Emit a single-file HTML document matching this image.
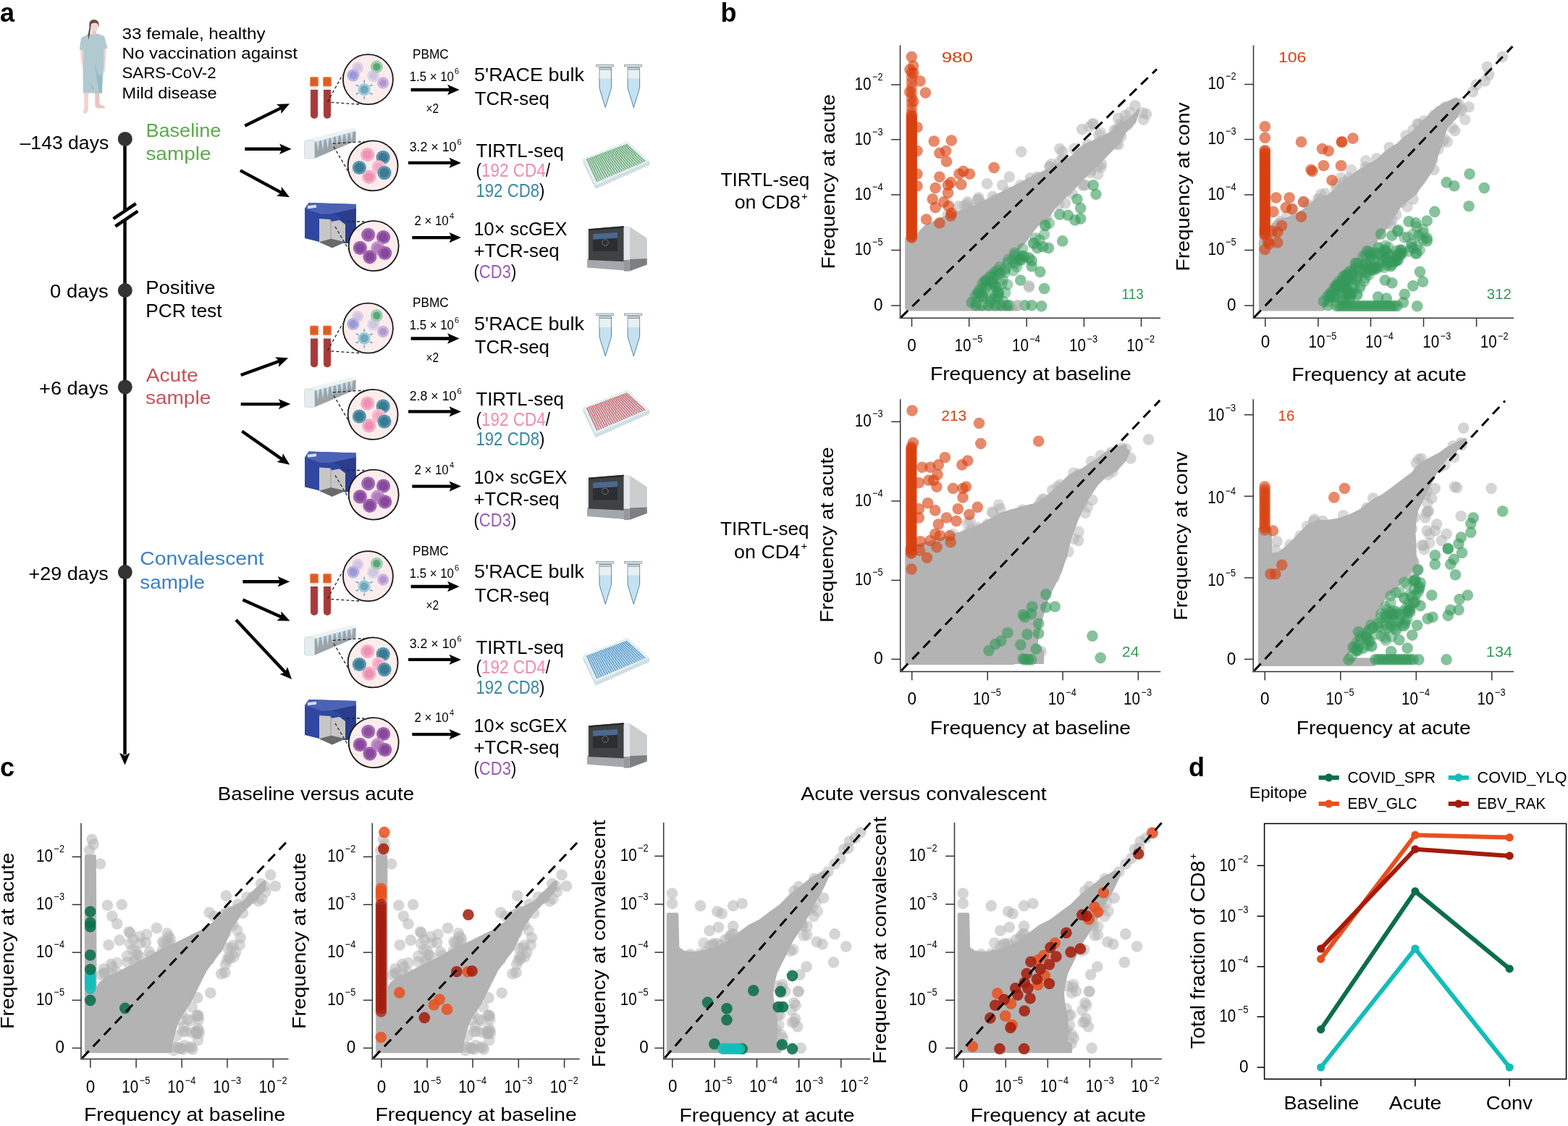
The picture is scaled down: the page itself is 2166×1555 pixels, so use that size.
<!DOCTYPE html>
<html><head><meta charset="utf-8"><title>Figure</title>
<style>html,body{margin:0;padding:0;background:#fff;}svg{display:block;}
text{font-family:"Liberation Sans",Arial,sans-serif;}</style></head>
<body><svg width="2166" height="1555" viewBox="0 0 2166 1555">
<rect width="2166" height="1555" fill="#fff"/>
<text x="0" y="29.6" font-size="36" font-weight="bold">a</text>
<g>
<path d="M116 126 L116.5 150 L114.5 155.5 L119 157 L121.5 153 L122.5 126 Z" fill="#efd3cf"/>
<path d="M131 126 L131.5 147 L134 149.5 L145.5 149.6 L144 146.5 L137.5 144 L137.3 126 Z" fill="#e8c6c2"/>
<path d="M111 66 L112 84 L114.5 96 L116.5 104.5 L119.5 103 L118 92 L117.5 66 Z" fill="#efd3cf"/>
<path d="M142.5 66 L146.8 66 L146 80 L144.5 100 L142.5 99 Z" fill="#efd3cf"/>
<path d="M122 47 L135 46.5 L144 50 L148.6 66.5 L143.5 67.5 L143.2 90 L141 128.5 L115 128.5 L114.5 100 L115.5 70 L109.8 68 L112 52 Z" fill="#b1c9d0"/>
<path d="M130.5 86 L136 104.5 L140.5 103 L141 128.5 L137 128.5 Z" fill="#93bcc5"/>
<path d="M124 114 L127 123 L130.5 123 Z" fill="#93bcc5"/>
<rect x="127" y="40" width="6" height="8" fill="#e8c6c2"/>
<ellipse cx="130" cy="36.5" rx="6" ry="7.3" fill="#f0d8d4"/>
<path d="M123.5 38 Q122 27 130 27 Q137.5 27 136.8 38 L135.2 33 Q131 30 126 33 L125 40 L124.5 46 L122.3 54.5 L121.5 48 Z" fill="#6b4a4a"/>
</g>
<text x="168.5" y="53.5" font-size="22.5" textLength="198" lengthAdjust="spacingAndGlyphs">33 female, healthy</text>
<text x="168.5" y="80.5" font-size="22.5" textLength="242.5" lengthAdjust="spacingAndGlyphs">No vaccination against</text>
<text x="168.5" y="108" font-size="22.5" textLength="130.1" lengthAdjust="spacingAndGlyphs">SARS-CoV-2</text>
<text x="168.5" y="135.6" font-size="22.5" textLength="131.1" lengthAdjust="spacingAndGlyphs">Mild disease</text>
<line x1="172.5" y1="192" x2="172.5" y2="1042" stroke="#000" stroke-width="4.5"/>
<path d="M165 1039.8 L172.5 1056.5 L179.5 1039.8 L172.5 1043.5 Z" fill="#000"/>
<line x1="162" y1="304.8" x2="184" y2="290" stroke="#fff" stroke-width="7"/>
<line x1="156.5" y1="302.2" x2="187.8" y2="281.2" stroke="#000" stroke-width="4.5"/>
<line x1="159.3" y1="312.7" x2="190.3" y2="291.6" stroke="#000" stroke-width="4.5"/>
<circle cx="172.8" cy="191.9" r="10" fill="#333"/>
<circle cx="172.8" cy="401" r="10" fill="#333"/>
<circle cx="172.8" cy="534.4" r="10" fill="#333"/>
<circle cx="172.8" cy="790.1" r="10" fill="#333"/>
<text x="150.2" y="206" font-size="26.7" text-anchor="end" textLength="122.6" lengthAdjust="spacingAndGlyphs">–143 days</text>
<text x="149.8" y="411" font-size="26.7" text-anchor="end" textLength="80.7" lengthAdjust="spacingAndGlyphs">0 days</text>
<text x="149.8" y="544.9" font-size="26.7" text-anchor="end" textLength="95.7" lengthAdjust="spacingAndGlyphs">+6 days</text>
<text x="149.8" y="801.4" font-size="26.7" text-anchor="end" textLength="110.2" lengthAdjust="spacingAndGlyphs">+29 days</text>
<text x="201.4" y="189.4" font-size="26.7" textLength="103.9" lengthAdjust="spacingAndGlyphs" fill="#5aab4b">Baseline</text>
<text x="201.4" y="221" font-size="26.7" textLength="90.1" lengthAdjust="spacingAndGlyphs" fill="#5aab4b">sample</text>
<text x="201.3" y="406" font-size="26.7" textLength="96.1" lengthAdjust="spacingAndGlyphs">Positive</text>
<text x="201.3" y="438" font-size="26.7" textLength="105.2" lengthAdjust="spacingAndGlyphs">PCR test</text>
<text x="201.7" y="527" font-size="26.7" textLength="72" lengthAdjust="spacingAndGlyphs" fill="#c2555b">Acute</text>
<text x="200.9" y="558.1" font-size="26.7" textLength="90.4" lengthAdjust="spacingAndGlyphs" fill="#c2555b">sample</text>
<text x="193.3" y="780.1" font-size="26.7" textLength="171.4" lengthAdjust="spacingAndGlyphs" fill="#3a80c6">Convalescent</text>
<text x="193.3" y="813.3" font-size="26.7" textLength="89.6" lengthAdjust="spacingAndGlyphs" fill="#3a80c6">sample</text>
<line x1="338.3" y1="173.7" x2="388.2" y2="149.1" stroke="#000" stroke-width="4.4"/>
<polygon points="400,143.3 388.4,157.1 388.2,149.1 382,144.1" fill="#000"/>
<line x1="338.3" y1="205.8" x2="389.4" y2="205.8" stroke="#000" stroke-width="4.4"/>
<polygon points="402.6,205.8 386.1,213 389.4,205.8 386.1,198.6" fill="#000"/>
<line x1="331.9" y1="235.4" x2="388.4" y2="265.9" stroke="#000" stroke-width="4.4"/>
<polygon points="400,272.2 382.1,270.7 388.4,265.9 388.9,258" fill="#000"/>
<line x1="332.7" y1="518" x2="385.7" y2="498.8" stroke="#000" stroke-width="4.4"/>
<polygon points="398.1,494.3 385,506.7 385.7,498.8 380.1,493.2" fill="#000"/>
<line x1="332.7" y1="558.1" x2="388.1" y2="558.1" stroke="#000" stroke-width="4.4"/>
<polygon points="401.3,558.1 384.8,565.3 388.1,558.1 384.8,550.9" fill="#000"/>
<line x1="334.3" y1="595.5" x2="389.4" y2="634.1" stroke="#000" stroke-width="4.4"/>
<polygon points="400.2,641.7 382.6,638.1 389.4,634.1 390.8,626.3" fill="#000"/>
<line x1="335.4" y1="803.3" x2="387" y2="803.3" stroke="#000" stroke-width="4.4"/>
<polygon points="400.2,803.3 383.7,810.5 387,803.3 383.7,796.1" fill="#000"/>
<line x1="335.4" y1="828.3" x2="388.5" y2="852.1" stroke="#000" stroke-width="4.4"/>
<polygon points="400.5,857.5 382.5,857.3 388.5,852.1 388.4,844.2" fill="#000"/>
<line x1="326" y1="856" x2="394" y2="928.4" stroke="#000" stroke-width="4.4"/>
<polygon points="403,938 386.5,930.9 394,928.4 397,921" fill="#000"/>
<g transform="translate(0 0)">
<polygon points="805.5,219.3 866.6,194.9 897.1,222.4 897.1,228 822.6,261 805.5,225" fill="#cfdfe3"/>
<polygon points="805.5,219.3 866.6,194.9 897.1,222.4 822.6,256" fill="#e6eff1"/>
<g fill="#4f9d5c">
<rect x="810.1" y="219.6" width="2" height="1.5"/>
<rect x="812.5" y="218.7" width="2" height="1.5"/>
<rect x="814.8" y="217.8" width="2" height="1.5"/>
<rect x="817.2" y="217" width="2" height="1.5"/>
<rect x="819.6" y="216.1" width="2" height="1.5"/>
<rect x="822" y="215.2" width="2" height="1.5"/>
<rect x="824.3" y="214.3" width="2" height="1.5"/>
<rect x="826.7" y="213.4" width="2" height="1.5"/>
<rect x="829.1" y="212.5" width="2" height="1.5"/>
<rect x="831.5" y="211.6" width="2" height="1.5"/>
<rect x="833.8" y="210.7" width="2" height="1.5"/>
<rect x="836.2" y="209.8" width="2" height="1.5"/>
<rect x="838.6" y="208.9" width="2" height="1.5"/>
<rect x="840.9" y="208" width="2" height="1.5"/>
<rect x="843.3" y="207.1" width="2" height="1.5"/>
<rect x="845.7" y="206.2" width="2" height="1.5"/>
<rect x="848.1" y="205.3" width="2" height="1.5"/>
<rect x="850.4" y="204.4" width="2" height="1.5"/>
<rect x="852.8" y="203.5" width="2" height="1.5"/>
<rect x="855.2" y="202.6" width="2" height="1.5"/>
<rect x="857.6" y="201.7" width="2" height="1.5"/>
<rect x="859.9" y="200.9" width="2" height="1.5"/>
<rect x="862.3" y="200" width="2" height="1.5"/>
<rect x="864.7" y="199.1" width="2" height="1.5"/>
<rect x="811" y="221.6" width="2" height="1.5"/>
<rect x="813.4" y="220.7" width="2" height="1.5"/>
<rect x="815.8" y="219.8" width="2" height="1.5"/>
<rect x="818.2" y="218.9" width="2" height="1.5"/>
<rect x="820.6" y="218" width="2" height="1.5"/>
<rect x="823" y="217" width="2" height="1.5"/>
<rect x="825.4" y="216.1" width="2" height="1.5"/>
<rect x="827.8" y="215.2" width="2" height="1.5"/>
<rect x="830.2" y="214.3" width="2" height="1.5"/>
<rect x="832.6" y="213.4" width="2" height="1.5"/>
<rect x="835.1" y="212.5" width="2" height="1.5"/>
<rect x="837.5" y="211.5" width="2" height="1.5"/>
<rect x="839.9" y="210.6" width="2" height="1.5"/>
<rect x="842.3" y="209.7" width="2" height="1.5"/>
<rect x="844.7" y="208.8" width="2" height="1.5"/>
<rect x="847.1" y="207.9" width="2" height="1.5"/>
<rect x="849.5" y="207" width="2" height="1.5"/>
<rect x="851.9" y="206.1" width="2" height="1.5"/>
<rect x="854.3" y="205.1" width="2" height="1.5"/>
<rect x="856.7" y="204.2" width="2" height="1.5"/>
<rect x="859.1" y="203.3" width="2" height="1.5"/>
<rect x="861.5" y="202.4" width="2" height="1.5"/>
<rect x="863.9" y="201.5" width="2" height="1.5"/>
<rect x="866.3" y="200.6" width="2" height="1.5"/>
<rect x="811.9" y="223.6" width="2" height="1.5"/>
<rect x="814.3" y="222.7" width="2" height="1.5"/>
<rect x="816.8" y="221.7" width="2" height="1.5"/>
<rect x="819.2" y="220.8" width="2" height="1.5"/>
<rect x="821.7" y="219.9" width="2" height="1.5"/>
<rect x="824.1" y="218.9" width="2" height="1.5"/>
<rect x="826.5" y="218" width="2" height="1.5"/>
<rect x="829" y="217" width="2" height="1.5"/>
<rect x="831.4" y="216.1" width="2" height="1.5"/>
<rect x="833.8" y="215.2" width="2" height="1.5"/>
<rect x="836.3" y="214.2" width="2" height="1.5"/>
<rect x="838.7" y="213.3" width="2" height="1.5"/>
<rect x="841.2" y="212.4" width="2" height="1.5"/>
<rect x="843.6" y="211.4" width="2" height="1.5"/>
<rect x="846" y="210.5" width="2" height="1.5"/>
<rect x="848.5" y="209.6" width="2" height="1.5"/>
<rect x="850.9" y="208.6" width="2" height="1.5"/>
<rect x="853.3" y="207.7" width="2" height="1.5"/>
<rect x="855.8" y="206.7" width="2" height="1.5"/>
<rect x="858.2" y="205.8" width="2" height="1.5"/>
<rect x="860.6" y="204.9" width="2" height="1.5"/>
<rect x="863.1" y="203.9" width="2" height="1.5"/>
<rect x="865.5" y="203" width="2" height="1.5"/>
<rect x="868" y="202.1" width="2" height="1.5"/>
<rect x="812.8" y="225.6" width="2" height="1.5"/>
<rect x="815.3" y="224.6" width="2" height="1.5"/>
<rect x="817.8" y="223.7" width="2" height="1.5"/>
<rect x="820.2" y="222.7" width="2" height="1.5"/>
<rect x="822.7" y="221.8" width="2" height="1.5"/>
<rect x="825.2" y="220.8" width="2" height="1.5"/>
<rect x="827.6" y="219.8" width="2" height="1.5"/>
<rect x="830.1" y="218.9" width="2" height="1.5"/>
<rect x="832.6" y="217.9" width="2" height="1.5"/>
<rect x="835" y="217" width="2" height="1.5"/>
<rect x="837.5" y="216" width="2" height="1.5"/>
<rect x="840" y="215.1" width="2" height="1.5"/>
<rect x="842.4" y="214.1" width="2" height="1.5"/>
<rect x="844.9" y="213.1" width="2" height="1.5"/>
<rect x="847.4" y="212.2" width="2" height="1.5"/>
<rect x="849.9" y="211.2" width="2" height="1.5"/>
<rect x="852.3" y="210.3" width="2" height="1.5"/>
<rect x="854.8" y="209.3" width="2" height="1.5"/>
<rect x="857.3" y="208.3" width="2" height="1.5"/>
<rect x="859.7" y="207.4" width="2" height="1.5"/>
<rect x="862.2" y="206.4" width="2" height="1.5"/>
<rect x="864.7" y="205.5" width="2" height="1.5"/>
<rect x="867.1" y="204.5" width="2" height="1.5"/>
<rect x="869.6" y="203.6" width="2" height="1.5"/>
<rect x="813.7" y="227.6" width="2" height="1.5"/>
<rect x="816.2" y="226.6" width="2" height="1.5"/>
<rect x="818.7" y="225.6" width="2" height="1.5"/>
<rect x="821.2" y="224.6" width="2" height="1.5"/>
<rect x="823.7" y="223.7" width="2" height="1.5"/>
<rect x="826.2" y="222.7" width="2" height="1.5"/>
<rect x="828.7" y="221.7" width="2" height="1.5"/>
<rect x="831.2" y="220.7" width="2" height="1.5"/>
<rect x="833.7" y="219.7" width="2" height="1.5"/>
<rect x="836.2" y="218.8" width="2" height="1.5"/>
<rect x="838.7" y="217.8" width="2" height="1.5"/>
<rect x="841.2" y="216.8" width="2" height="1.5"/>
<rect x="843.7" y="215.8" width="2" height="1.5"/>
<rect x="846.2" y="214.8" width="2" height="1.5"/>
<rect x="848.7" y="213.9" width="2" height="1.5"/>
<rect x="851.2" y="212.9" width="2" height="1.5"/>
<rect x="853.7" y="211.9" width="2" height="1.5"/>
<rect x="856.2" y="210.9" width="2" height="1.5"/>
<rect x="858.7" y="210" width="2" height="1.5"/>
<rect x="861.2" y="209" width="2" height="1.5"/>
<rect x="863.7" y="208" width="2" height="1.5"/>
<rect x="866.2" y="207" width="2" height="1.5"/>
<rect x="868.7" y="206" width="2" height="1.5"/>
<rect x="871.2" y="205.1" width="2" height="1.5"/>
<rect x="814.6" y="229.6" width="2" height="1.5"/>
<rect x="817.2" y="228.6" width="2" height="1.5"/>
<rect x="819.7" y="227.6" width="2" height="1.5"/>
<rect x="822.2" y="226.6" width="2" height="1.5"/>
<rect x="824.8" y="225.6" width="2" height="1.5"/>
<rect x="827.3" y="224.6" width="2" height="1.5"/>
<rect x="829.8" y="223.6" width="2" height="1.5"/>
<rect x="832.4" y="222.6" width="2" height="1.5"/>
<rect x="834.9" y="221.6" width="2" height="1.5"/>
<rect x="837.4" y="220.6" width="2" height="1.5"/>
<rect x="840" y="219.6" width="2" height="1.5"/>
<rect x="842.5" y="218.6" width="2" height="1.5"/>
<rect x="845" y="217.6" width="2" height="1.5"/>
<rect x="847.6" y="216.6" width="2" height="1.5"/>
<rect x="850.1" y="215.6" width="2" height="1.5"/>
<rect x="852.6" y="214.6" width="2" height="1.5"/>
<rect x="855.2" y="213.6" width="2" height="1.5"/>
<rect x="857.7" y="212.6" width="2" height="1.5"/>
<rect x="860.2" y="211.6" width="2" height="1.5"/>
<rect x="862.8" y="210.6" width="2" height="1.5"/>
<rect x="865.3" y="209.6" width="2" height="1.5"/>
<rect x="867.8" y="208.6" width="2" height="1.5"/>
<rect x="870.4" y="207.6" width="2" height="1.5"/>
<rect x="872.9" y="206.6" width="2" height="1.5"/>
<rect x="815.5" y="231.5" width="2" height="1.5"/>
<rect x="818.1" y="230.5" width="2" height="1.5"/>
<rect x="820.7" y="229.5" width="2" height="1.5"/>
<rect x="823.2" y="228.5" width="2" height="1.5"/>
<rect x="825.8" y="227.5" width="2" height="1.5"/>
<rect x="828.4" y="226.4" width="2" height="1.5"/>
<rect x="830.9" y="225.4" width="2" height="1.5"/>
<rect x="833.5" y="224.4" width="2" height="1.5"/>
<rect x="836.1" y="223.4" width="2" height="1.5"/>
<rect x="838.6" y="222.3" width="2" height="1.5"/>
<rect x="841.2" y="221.3" width="2" height="1.5"/>
<rect x="843.8" y="220.3" width="2" height="1.5"/>
<rect x="846.3" y="219.3" width="2" height="1.5"/>
<rect x="848.9" y="218.3" width="2" height="1.5"/>
<rect x="851.4" y="217.2" width="2" height="1.5"/>
<rect x="854" y="216.2" width="2" height="1.5"/>
<rect x="856.6" y="215.2" width="2" height="1.5"/>
<rect x="859.1" y="214.2" width="2" height="1.5"/>
<rect x="861.7" y="213.2" width="2" height="1.5"/>
<rect x="864.3" y="212.1" width="2" height="1.5"/>
<rect x="866.8" y="211.1" width="2" height="1.5"/>
<rect x="869.4" y="210.1" width="2" height="1.5"/>
<rect x="872" y="209.1" width="2" height="1.5"/>
<rect x="874.5" y="208.1" width="2" height="1.5"/>
<rect x="816.4" y="233.5" width="2" height="1.5"/>
<rect x="819" y="232.5" width="2" height="1.5"/>
<rect x="821.6" y="231.4" width="2" height="1.5"/>
<rect x="824.2" y="230.4" width="2" height="1.5"/>
<rect x="826.8" y="229.4" width="2" height="1.5"/>
<rect x="829.4" y="228.3" width="2" height="1.5"/>
<rect x="832" y="227.3" width="2" height="1.5"/>
<rect x="834.6" y="226.2" width="2" height="1.5"/>
<rect x="837.2" y="225.2" width="2" height="1.5"/>
<rect x="839.8" y="224.1" width="2" height="1.5"/>
<rect x="842.4" y="223.1" width="2" height="1.5"/>
<rect x="845" y="222.1" width="2" height="1.5"/>
<rect x="847.6" y="221" width="2" height="1.5"/>
<rect x="850.2" y="220" width="2" height="1.5"/>
<rect x="852.8" y="218.9" width="2" height="1.5"/>
<rect x="855.4" y="217.9" width="2" height="1.5"/>
<rect x="858" y="216.9" width="2" height="1.5"/>
<rect x="860.6" y="215.8" width="2" height="1.5"/>
<rect x="863.2" y="214.8" width="2" height="1.5"/>
<rect x="865.8" y="213.7" width="2" height="1.5"/>
<rect x="868.4" y="212.7" width="2" height="1.5"/>
<rect x="871" y="211.6" width="2" height="1.5"/>
<rect x="873.6" y="210.6" width="2" height="1.5"/>
<rect x="876.2" y="209.6" width="2" height="1.5"/>
<rect x="817.3" y="235.5" width="2" height="1.5"/>
<rect x="820" y="234.4" width="2" height="1.5"/>
<rect x="822.6" y="233.4" width="2" height="1.5"/>
<rect x="825.2" y="232.3" width="2" height="1.5"/>
<rect x="827.9" y="231.2" width="2" height="1.5"/>
<rect x="830.5" y="230.2" width="2" height="1.5"/>
<rect x="833.1" y="229.1" width="2" height="1.5"/>
<rect x="835.7" y="228.1" width="2" height="1.5"/>
<rect x="838.4" y="227" width="2" height="1.5"/>
<rect x="841" y="225.9" width="2" height="1.5"/>
<rect x="843.6" y="224.9" width="2" height="1.5"/>
<rect x="846.3" y="223.8" width="2" height="1.5"/>
<rect x="848.9" y="222.7" width="2" height="1.5"/>
<rect x="851.5" y="221.7" width="2" height="1.5"/>
<rect x="854.2" y="220.6" width="2" height="1.5"/>
<rect x="856.8" y="219.6" width="2" height="1.5"/>
<rect x="859.4" y="218.5" width="2" height="1.5"/>
<rect x="862" y="217.4" width="2" height="1.5"/>
<rect x="864.7" y="216.4" width="2" height="1.5"/>
<rect x="867.3" y="215.3" width="2" height="1.5"/>
<rect x="869.9" y="214.2" width="2" height="1.5"/>
<rect x="872.6" y="213.2" width="2" height="1.5"/>
<rect x="875.2" y="212.1" width="2" height="1.5"/>
<rect x="877.8" y="211.1" width="2" height="1.5"/>
<rect x="818.2" y="237.5" width="2" height="1.5"/>
<rect x="820.9" y="236.4" width="2" height="1.5"/>
<rect x="823.6" y="235.3" width="2" height="1.5"/>
<rect x="826.2" y="234.2" width="2" height="1.5"/>
<rect x="828.9" y="233.1" width="2" height="1.5"/>
<rect x="831.6" y="232.1" width="2" height="1.5"/>
<rect x="834.2" y="231" width="2" height="1.5"/>
<rect x="836.9" y="229.9" width="2" height="1.5"/>
<rect x="839.5" y="228.8" width="2" height="1.5"/>
<rect x="842.2" y="227.7" width="2" height="1.5"/>
<rect x="844.9" y="226.6" width="2" height="1.5"/>
<rect x="847.5" y="225.6" width="2" height="1.5"/>
<rect x="850.2" y="224.5" width="2" height="1.5"/>
<rect x="852.8" y="223.4" width="2" height="1.5"/>
<rect x="855.5" y="222.3" width="2" height="1.5"/>
<rect x="858.2" y="221.2" width="2" height="1.5"/>
<rect x="860.8" y="220.1" width="2" height="1.5"/>
<rect x="863.5" y="219.1" width="2" height="1.5"/>
<rect x="866.2" y="218" width="2" height="1.5"/>
<rect x="868.8" y="216.9" width="2" height="1.5"/>
<rect x="871.5" y="215.8" width="2" height="1.5"/>
<rect x="874.1" y="214.7" width="2" height="1.5"/>
<rect x="876.8" y="213.6" width="2" height="1.5"/>
<rect x="879.5" y="212.6" width="2" height="1.5"/>
<rect x="819.1" y="239.5" width="2" height="1.5"/>
<rect x="821.8" y="238.4" width="2" height="1.5"/>
<rect x="824.5" y="237.3" width="2" height="1.5"/>
<rect x="827.2" y="236.2" width="2" height="1.5"/>
<rect x="829.9" y="235" width="2" height="1.5"/>
<rect x="832.6" y="233.9" width="2" height="1.5"/>
<rect x="835.3" y="232.8" width="2" height="1.5"/>
<rect x="838" y="231.7" width="2" height="1.5"/>
<rect x="840.7" y="230.6" width="2" height="1.5"/>
<rect x="843.4" y="229.5" width="2" height="1.5"/>
<rect x="846.1" y="228.4" width="2" height="1.5"/>
<rect x="848.8" y="227.3" width="2" height="1.5"/>
<rect x="851.5" y="226.2" width="2" height="1.5"/>
<rect x="854.2" y="225.1" width="2" height="1.5"/>
<rect x="856.9" y="224" width="2" height="1.5"/>
<rect x="859.6" y="222.9" width="2" height="1.5"/>
<rect x="862.3" y="221.8" width="2" height="1.5"/>
<rect x="864.9" y="220.7" width="2" height="1.5"/>
<rect x="867.6" y="219.6" width="2" height="1.5"/>
<rect x="870.3" y="218.5" width="2" height="1.5"/>
<rect x="873" y="217.4" width="2" height="1.5"/>
<rect x="875.7" y="216.3" width="2" height="1.5"/>
<rect x="878.4" y="215.2" width="2" height="1.5"/>
<rect x="881.1" y="214.1" width="2" height="1.5"/>
<rect x="820.1" y="241.4" width="2" height="1.5"/>
<rect x="822.8" y="240.3" width="2" height="1.5"/>
<rect x="825.5" y="239.2" width="2" height="1.5"/>
<rect x="828.2" y="238.1" width="2" height="1.5"/>
<rect x="831" y="236.9" width="2" height="1.5"/>
<rect x="833.7" y="235.8" width="2" height="1.5"/>
<rect x="836.4" y="234.7" width="2" height="1.5"/>
<rect x="839.1" y="233.6" width="2" height="1.5"/>
<rect x="841.9" y="232.4" width="2" height="1.5"/>
<rect x="844.6" y="231.3" width="2" height="1.5"/>
<rect x="847.3" y="230.2" width="2" height="1.5"/>
<rect x="850" y="229.1" width="2" height="1.5"/>
<rect x="852.8" y="227.9" width="2" height="1.5"/>
<rect x="855.5" y="226.8" width="2" height="1.5"/>
<rect x="858.2" y="225.7" width="2" height="1.5"/>
<rect x="860.9" y="224.6" width="2" height="1.5"/>
<rect x="863.7" y="223.4" width="2" height="1.5"/>
<rect x="866.4" y="222.3" width="2" height="1.5"/>
<rect x="869.1" y="221.2" width="2" height="1.5"/>
<rect x="871.9" y="220.1" width="2" height="1.5"/>
<rect x="874.6" y="218.9" width="2" height="1.5"/>
<rect x="877.3" y="217.8" width="2" height="1.5"/>
<rect x="880" y="216.7" width="2" height="1.5"/>
<rect x="882.8" y="215.6" width="2" height="1.5"/>
<rect x="821" y="243.4" width="2" height="1.5"/>
<rect x="823.7" y="242.3" width="2" height="1.5"/>
<rect x="826.5" y="241.1" width="2" height="1.5"/>
<rect x="829.2" y="240" width="2" height="1.5"/>
<rect x="832" y="238.8" width="2" height="1.5"/>
<rect x="834.7" y="237.7" width="2" height="1.5"/>
<rect x="837.5" y="236.6" width="2" height="1.5"/>
<rect x="840.3" y="235.4" width="2" height="1.5"/>
<rect x="843" y="234.3" width="2" height="1.5"/>
<rect x="845.8" y="233.1" width="2" height="1.5"/>
<rect x="848.5" y="232" width="2" height="1.5"/>
<rect x="851.3" y="230.8" width="2" height="1.5"/>
<rect x="854.1" y="229.7" width="2" height="1.5"/>
<rect x="856.8" y="228.5" width="2" height="1.5"/>
<rect x="859.6" y="227.4" width="2" height="1.5"/>
<rect x="862.3" y="226.2" width="2" height="1.5"/>
<rect x="865.1" y="225.1" width="2" height="1.5"/>
<rect x="867.9" y="223.9" width="2" height="1.5"/>
<rect x="870.6" y="222.8" width="2" height="1.5"/>
<rect x="873.4" y="221.6" width="2" height="1.5"/>
<rect x="876.1" y="220.5" width="2" height="1.5"/>
<rect x="878.9" y="219.4" width="2" height="1.5"/>
<rect x="881.6" y="218.2" width="2" height="1.5"/>
<rect x="884.4" y="217.1" width="2" height="1.5"/>
<rect x="821.9" y="245.4" width="2" height="1.5"/>
<rect x="824.7" y="244.2" width="2" height="1.5"/>
<rect x="827.4" y="243.1" width="2" height="1.5"/>
<rect x="830.2" y="241.9" width="2" height="1.5"/>
<rect x="833" y="240.7" width="2" height="1.5"/>
<rect x="835.8" y="239.6" width="2" height="1.5"/>
<rect x="838.6" y="238.4" width="2" height="1.5"/>
<rect x="841.4" y="237.2" width="2" height="1.5"/>
<rect x="844.2" y="236.1" width="2" height="1.5"/>
<rect x="847" y="234.9" width="2" height="1.5"/>
<rect x="849.8" y="233.7" width="2" height="1.5"/>
<rect x="852.6" y="232.6" width="2" height="1.5"/>
<rect x="855.3" y="231.4" width="2" height="1.5"/>
<rect x="858.1" y="230.2" width="2" height="1.5"/>
<rect x="860.9" y="229.1" width="2" height="1.5"/>
<rect x="863.7" y="227.9" width="2" height="1.5"/>
<rect x="866.5" y="226.7" width="2" height="1.5"/>
<rect x="869.3" y="225.6" width="2" height="1.5"/>
<rect x="872.1" y="224.4" width="2" height="1.5"/>
<rect x="874.9" y="223.2" width="2" height="1.5"/>
<rect x="877.7" y="222.1" width="2" height="1.5"/>
<rect x="880.5" y="220.9" width="2" height="1.5"/>
<rect x="883.3" y="219.7" width="2" height="1.5"/>
<rect x="886" y="218.6" width="2" height="1.5"/>
<rect x="822.8" y="247.4" width="2" height="1.5"/>
<rect x="825.6" y="246.2" width="2" height="1.5"/>
<rect x="828.4" y="245" width="2" height="1.5"/>
<rect x="831.2" y="243.8" width="2" height="1.5"/>
<rect x="834.1" y="242.6" width="2" height="1.5"/>
<rect x="836.9" y="241.5" width="2" height="1.5"/>
<rect x="839.7" y="240.3" width="2" height="1.5"/>
<rect x="842.5" y="239.1" width="2" height="1.5"/>
<rect x="845.3" y="237.9" width="2" height="1.5"/>
<rect x="848.2" y="236.7" width="2" height="1.5"/>
<rect x="851" y="235.5" width="2" height="1.5"/>
<rect x="853.8" y="234.3" width="2" height="1.5"/>
<rect x="856.6" y="233.1" width="2" height="1.5"/>
<rect x="859.5" y="231.9" width="2" height="1.5"/>
<rect x="862.3" y="230.8" width="2" height="1.5"/>
<rect x="865.1" y="229.6" width="2" height="1.5"/>
<rect x="867.9" y="228.4" width="2" height="1.5"/>
<rect x="870.8" y="227.2" width="2" height="1.5"/>
<rect x="873.6" y="226" width="2" height="1.5"/>
<rect x="876.4" y="224.8" width="2" height="1.5"/>
<rect x="879.2" y="223.6" width="2" height="1.5"/>
<rect x="882" y="222.4" width="2" height="1.5"/>
<rect x="884.9" y="221.2" width="2" height="1.5"/>
<rect x="887.7" y="220.1" width="2" height="1.5"/>
<rect x="823.7" y="249.4" width="2" height="1.5"/>
<rect x="826.5" y="248.2" width="2" height="1.5"/>
<rect x="829.4" y="247" width="2" height="1.5"/>
<rect x="832.2" y="245.8" width="2" height="1.5"/>
<rect x="835.1" y="244.5" width="2" height="1.5"/>
<rect x="837.9" y="243.3" width="2" height="1.5"/>
<rect x="840.8" y="242.1" width="2" height="1.5"/>
<rect x="843.7" y="240.9" width="2" height="1.5"/>
<rect x="846.5" y="239.7" width="2" height="1.5"/>
<rect x="849.4" y="238.5" width="2" height="1.5"/>
<rect x="852.2" y="237.3" width="2" height="1.5"/>
<rect x="855.1" y="236.1" width="2" height="1.5"/>
<rect x="857.9" y="234.9" width="2" height="1.5"/>
<rect x="860.8" y="233.7" width="2" height="1.5"/>
<rect x="863.6" y="232.4" width="2" height="1.5"/>
<rect x="866.5" y="231.2" width="2" height="1.5"/>
<rect x="869.3" y="230" width="2" height="1.5"/>
<rect x="872.2" y="228.8" width="2" height="1.5"/>
<rect x="875.1" y="227.6" width="2" height="1.5"/>
<rect x="877.9" y="226.4" width="2" height="1.5"/>
<rect x="880.8" y="225.2" width="2" height="1.5"/>
<rect x="883.6" y="224" width="2" height="1.5"/>
<rect x="886.5" y="222.8" width="2" height="1.5"/>
<rect x="889.3" y="221.6" width="2" height="1.5"/>
</g>
</g>
<path d="M429.3 124 h9.5 v35 q0 4 -4.75 4.5 q-4.75 -0.5 -4.75 -4.5 z" fill="#a83a3a" stroke="#8a2a2a" stroke-width="0.6"/>
<rect x="429.3" y="119" width="9.5" height="5" fill="#e6eeee"/>
<rect x="428.2" y="106.3" width="11.6" height="13" rx="1.5" fill="#e8672c"/>
<path d="M431 108.5 v9 M433.7 108.5 v9 M436.4 108.5 v9" stroke="#c2481a" stroke-width="0.9"/>
<path d="M447.3 124 h9.5 v35 q0 4 -4.75 4.5 q-4.75 -0.5 -4.75 -4.5 z" fill="#a83a3a" stroke="#8a2a2a" stroke-width="0.6"/>
<rect x="447.3" y="119" width="9.5" height="5" fill="#e6eeee"/>
<rect x="446.2" y="106.3" width="11.6" height="13" rx="1.5" fill="#e8672c"/>
<path d="M449 108.5 v9 M451.7 108.5 v9 M454.4 108.5 v9" stroke="#c2481a" stroke-width="0.9"/>
<circle cx="508.4" cy="109.7" r="34.5" fill="#fcecec" stroke="#1a1a1a" stroke-width="1.8"/>
<circle cx="494.2" cy="93.6" r="8.1" fill="#e2d2e8"/>
<circle cx="494.2" cy="93.6" r="5" fill="#d6c2dc"/>
<circle cx="487.9" cy="103.9" r="8.6" fill="#b4b8e2"/>
<circle cx="487.9" cy="103.9" r="5.6" fill="#9a98d6"/>
<circle cx="515.8" cy="104.7" r="8.6" fill="#dcd6ea"/>
<circle cx="515.8" cy="104.7" r="5.5" fill="#d0c6e2"/>
<circle cx="520.4" cy="92.2" r="8.6" fill="#a2d0b0"/>
<circle cx="520.4" cy="92.2" r="5.2" fill="#5aa878"/>
<circle cx="529.2" cy="114.5" r="8.2" fill="#cbb6e4"/>
<circle cx="529.2" cy="114.5" r="5" fill="#b296cc"/>
<circle cx="503.1" cy="123.7" r="8.6" fill="#9ccfd8"/>
<circle cx="503.1" cy="123.7" r="5.6" fill="#6fa8bc"/>
<path d="M503.1 114.2 L503.1 110.7" stroke="#2a78b0" stroke-width="1.1"/>
<path d="M511.3 119 L514.4 117.2" stroke="#2a78b0" stroke-width="1.1"/>
<path d="M511.3 128.4 L514.4 130.2" stroke="#2a78b0" stroke-width="1.1"/>
<path d="M503.1 133.2 L503.1 136.7" stroke="#2a78b0" stroke-width="1.1"/>
<path d="M494.9 128.4 L491.8 130.2" stroke="#2a78b0" stroke-width="1.1"/>
<path d="M494.9 119 L491.8 117.2" stroke="#2a78b0" stroke-width="1.1"/>
<line x1="452.5" y1="140.6" x2="473.5" y2="103" stroke="#222" stroke-width="1.3" stroke-dasharray="4 3"/>
<line x1="457.4" y1="141.4" x2="496" y2="144" stroke="#222" stroke-width="1.3" stroke-dasharray="4 3"/>
<g transform="translate(0 0)">
<polygon points="421,194 434,191 488,177 491.5,180 491.5,194.5 435,218.5 426,219 420.5,215.5" fill="#dfe6e8"/>
<polygon points="434.5,196 491.5,181 491.5,194.5 435,218.5" fill="#9ea3a8"/>
<polygon points="437,195.5 441.2,194.4 439.6,209.5" fill="#bfe0f0"/>
<polygon points="443.6,193.8 447.8,192.7 446.2,207.4" fill="#bfe0f0"/>
<polygon points="450.2,192 454.4,190.9 452.8,205.4" fill="#bfe0f0"/>
<polygon points="456.8,190.2 461,189.2 459.4,203.3" fill="#bfe0f0"/>
<polygon points="463.4,188.5 467.6,187.4 466,201.3" fill="#bfe0f0"/>
<polygon points="470,186.8 474.2,185.7 472.6,199.2" fill="#bfe0f0"/>
<polygon points="476.6,185 480.8,183.9 479.2,197.2" fill="#bfe0f0"/>
<polygon points="483.2,183.2 487.4,182.2 485.8,195.2" fill="#bfe0f0"/>
<polygon points="421,194 434.5,196 491.5,181 488,177 434,190" fill="#eef2f3"/>
<rect x="420.5" y="194" width="14" height="25" rx="2" fill="#e4ecee" stroke="#c8d0d2" stroke-width="0.6"/>
</g>
<line x1="459.6" y1="198.3" x2="502.7" y2="195.5" stroke="#222" stroke-width="1.3" stroke-dasharray="4 3"/>
<line x1="461" y1="202.5" x2="480.5" y2="236" stroke="#222" stroke-width="1.3" stroke-dasharray="4 3"/>
<circle cx="515.1" cy="228.9" r="34.5" fill="#fcecec" stroke="#1a1a1a" stroke-width="1.8"/>
<circle cx="507.7" cy="213.5" r="9.6" fill="#f6aac6"/>
<circle cx="507.7" cy="213.5" r="6" fill="#ee92b4"/>
<circle cx="529.2" cy="217.4" r="9.6" fill="#5a96ac"/>
<circle cx="529.2" cy="217.4" r="6.5" fill="#3a7a92"/>
<circle cx="523.2" cy="230.8" r="9.6" fill="#f6bcd0"/>
<circle cx="523.2" cy="230.8" r="6" fill="#f2a8c2"/>
<circle cx="496.4" cy="231.5" r="9.6" fill="#5a96ac"/>
<circle cx="496.4" cy="231.5" r="6.5" fill="#3a7a92"/>
<circle cx="509.8" cy="244.3" r="9.6" fill="#f6aac6"/>
<circle cx="509.8" cy="244.3" r="6" fill="#ee8cb2"/>
<circle cx="531" cy="238.6" r="9.6" fill="#5a96ac"/>
<circle cx="531" cy="238.6" r="6.5" fill="#3a7a92"/>
<g transform="translate(0 0)">
<polygon points="421,288 426.5,280 491.8,282 491.8,334.5 477,336 441,334 421,329" fill="#2f47a0"/>
<polygon points="421,288 426.5,280 491.8,282 491.8,288 460,295 444,296" fill="#4c62b4"/>
<polygon points="460,295 491.8,288 491.8,334.5 477,336 470,300" fill="#2a3c8c"/>
<polygon points="441,302 456,303 458,306 469,304 477,310 477,334.3 441,334.3" fill="#c6c6c6"/>
<polygon points="456,303 458,306 458,334 456,334" fill="#b0b0b0"/>
<polygon points="440.5,334.3 457.4,329.7 477.3,334.3 458.9,342.4" fill="#6a6a6a"/>
<rect x="425" y="283.5" width="12" height="4" fill="#d8dce8" transform="rotate(-8 431 285)"/>
</g>
<circle cx="516.2" cy="339.6" r="34.5" fill="#fcecec" stroke="#1a1a1a" stroke-width="1.8"/>
<circle cx="508.7" cy="324.3" r="9.6" fill="#a46ab4"/>
<circle cx="508.7" cy="324.3" r="6.2" fill="#8c509e"/>
<circle cx="529.6" cy="327.5" r="9.6" fill="#a064b0"/>
<circle cx="529.6" cy="327.5" r="6.5" fill="#86489a"/>
<circle cx="521.8" cy="342.7" r="9.6" fill="#c492cc"/>
<circle cx="521.8" cy="342.7" r="6" fill="#b07cbc"/>
<circle cx="497.4" cy="342.4" r="9.6" fill="#a064b0"/>
<circle cx="497.4" cy="342.4" r="6.5" fill="#86489a"/>
<circle cx="510.9" cy="354.8" r="9.6" fill="#a064b0"/>
<circle cx="510.9" cy="354.8" r="6.5" fill="#86489a"/>
<circle cx="531.7" cy="349.5" r="9.6" fill="#a064b0"/>
<circle cx="531.7" cy="349.5" r="6.5" fill="#86489a"/>
<line x1="463" y1="313" x2="482" y2="345" stroke="#222" stroke-width="1.3" stroke-dasharray="4 3"/>
<line x1="479" y1="306" x2="503" y2="306" stroke="#222" stroke-width="1.3" stroke-dasharray="4 3"/>
<path d="M823.5 89.5 h24 v2.5 h-24 z" fill="#e8eef0" stroke="#7a848a" stroke-width="0.8"/>
<path d="M828 93.5 h16.5 v28 l-8.25 27 l-8.25 -27 z" fill="#c4e2f2" stroke="#4c7890" stroke-width="0.9"/>
<rect x="828.4" y="94.5" width="15.7" height="14" fill="#e8f0f0"/>
<path d="M828.4 96 h15.7" stroke="#7a848a" stroke-width="1"/>
<path d="M862.6 89.5 h24 v2.5 h-24 z" fill="#e8eef0" stroke="#7a848a" stroke-width="0.8"/>
<path d="M867.1 93.5 h16.5 v28 l-8.25 27 l-8.25 -27 z" fill="#c4e2f2" stroke="#4c7890" stroke-width="0.9"/>
<rect x="867.5" y="94.5" width="15.7" height="14" fill="#e8f0f0"/>
<path d="M867.5 96 h15.7" stroke="#7a848a" stroke-width="1"/>
<g transform="translate(0 0)">
<polygon points="869.7,313 893.8,328.9 893.8,358 869.7,359" fill="#cbcecf"/>
<polygon points="869.7,358 893.8,357 893.8,365.4 869.7,374.6" fill="#7c8082"/>
<rect x="861.9" y="312.4" width="7.8" height="47" fill="#e4e8ea"/>
<rect x="861.9" y="359" width="7.8" height="15.6" fill="#95999c"/>
<polygon points="811,357.3 862,360 862,373.5 811,369.5" fill="#a4a8ac"/>
<rect x="810.4" y="317" width="3" height="40" fill="#e4e8ea"/>
<polygon points="813,316.2 861.6,312.2 861.6,361.3 813,359" fill="#3e4244"/>
<polygon points="813,316.2 861.6,312.2 861.6,314.5 813,318.5" fill="#25282a"/>
<polygon points="819.1,322.9 853,321.1 853,346.9 819.1,346.9" fill="#2a2e30"/>
<polygon points="819.1,322.9 853,321.1 853,328.8 819.1,330.7" fill="#4a6890"/>
<circle cx="836" cy="335" r="4.2" fill="none" stroke="#cfd2d4" stroke-width="0.8" stroke-dasharray="1.2 1.2"/>
</g>
<g transform="translate(0 343.5)">
<polygon points="805.5,219.3 866.6,194.9 897.1,222.4 897.1,228 822.6,261 805.5,225" fill="#cfdfe3"/>
<polygon points="805.5,219.3 866.6,194.9 897.1,222.4 822.6,256" fill="#e6eff1"/>
<g fill="#c0505a">
<rect x="810.1" y="219.6" width="2" height="1.5"/>
<rect x="812.5" y="218.7" width="2" height="1.5"/>
<rect x="814.8" y="217.8" width="2" height="1.5"/>
<rect x="817.2" y="217" width="2" height="1.5"/>
<rect x="819.6" y="216.1" width="2" height="1.5"/>
<rect x="822" y="215.2" width="2" height="1.5"/>
<rect x="824.3" y="214.3" width="2" height="1.5"/>
<rect x="826.7" y="213.4" width="2" height="1.5"/>
<rect x="829.1" y="212.5" width="2" height="1.5"/>
<rect x="831.5" y="211.6" width="2" height="1.5"/>
<rect x="833.8" y="210.7" width="2" height="1.5"/>
<rect x="836.2" y="209.8" width="2" height="1.5"/>
<rect x="838.6" y="208.9" width="2" height="1.5"/>
<rect x="840.9" y="208" width="2" height="1.5"/>
<rect x="843.3" y="207.1" width="2" height="1.5"/>
<rect x="845.7" y="206.2" width="2" height="1.5"/>
<rect x="848.1" y="205.3" width="2" height="1.5"/>
<rect x="850.4" y="204.4" width="2" height="1.5"/>
<rect x="852.8" y="203.5" width="2" height="1.5"/>
<rect x="855.2" y="202.6" width="2" height="1.5"/>
<rect x="857.6" y="201.7" width="2" height="1.5"/>
<rect x="859.9" y="200.9" width="2" height="1.5"/>
<rect x="862.3" y="200" width="2" height="1.5"/>
<rect x="864.7" y="199.1" width="2" height="1.5"/>
<rect x="811" y="221.6" width="2" height="1.5"/>
<rect x="813.4" y="220.7" width="2" height="1.5"/>
<rect x="815.8" y="219.8" width="2" height="1.5"/>
<rect x="818.2" y="218.9" width="2" height="1.5"/>
<rect x="820.6" y="218" width="2" height="1.5"/>
<rect x="823" y="217" width="2" height="1.5"/>
<rect x="825.4" y="216.1" width="2" height="1.5"/>
<rect x="827.8" y="215.2" width="2" height="1.5"/>
<rect x="830.2" y="214.3" width="2" height="1.5"/>
<rect x="832.6" y="213.4" width="2" height="1.5"/>
<rect x="835.1" y="212.5" width="2" height="1.5"/>
<rect x="837.5" y="211.5" width="2" height="1.5"/>
<rect x="839.9" y="210.6" width="2" height="1.5"/>
<rect x="842.3" y="209.7" width="2" height="1.5"/>
<rect x="844.7" y="208.8" width="2" height="1.5"/>
<rect x="847.1" y="207.9" width="2" height="1.5"/>
<rect x="849.5" y="207" width="2" height="1.5"/>
<rect x="851.9" y="206.1" width="2" height="1.5"/>
<rect x="854.3" y="205.1" width="2" height="1.5"/>
<rect x="856.7" y="204.2" width="2" height="1.5"/>
<rect x="859.1" y="203.3" width="2" height="1.5"/>
<rect x="861.5" y="202.4" width="2" height="1.5"/>
<rect x="863.9" y="201.5" width="2" height="1.5"/>
<rect x="866.3" y="200.6" width="2" height="1.5"/>
<rect x="811.9" y="223.6" width="2" height="1.5"/>
<rect x="814.3" y="222.7" width="2" height="1.5"/>
<rect x="816.8" y="221.7" width="2" height="1.5"/>
<rect x="819.2" y="220.8" width="2" height="1.5"/>
<rect x="821.7" y="219.9" width="2" height="1.5"/>
<rect x="824.1" y="218.9" width="2" height="1.5"/>
<rect x="826.5" y="218" width="2" height="1.5"/>
<rect x="829" y="217" width="2" height="1.5"/>
<rect x="831.4" y="216.1" width="2" height="1.5"/>
<rect x="833.8" y="215.2" width="2" height="1.5"/>
<rect x="836.3" y="214.2" width="2" height="1.5"/>
<rect x="838.7" y="213.3" width="2" height="1.5"/>
<rect x="841.2" y="212.4" width="2" height="1.5"/>
<rect x="843.6" y="211.4" width="2" height="1.5"/>
<rect x="846" y="210.5" width="2" height="1.5"/>
<rect x="848.5" y="209.6" width="2" height="1.5"/>
<rect x="850.9" y="208.6" width="2" height="1.5"/>
<rect x="853.3" y="207.7" width="2" height="1.5"/>
<rect x="855.8" y="206.7" width="2" height="1.5"/>
<rect x="858.2" y="205.8" width="2" height="1.5"/>
<rect x="860.6" y="204.9" width="2" height="1.5"/>
<rect x="863.1" y="203.9" width="2" height="1.5"/>
<rect x="865.5" y="203" width="2" height="1.5"/>
<rect x="868" y="202.1" width="2" height="1.5"/>
<rect x="812.8" y="225.6" width="2" height="1.5"/>
<rect x="815.3" y="224.6" width="2" height="1.5"/>
<rect x="817.8" y="223.7" width="2" height="1.5"/>
<rect x="820.2" y="222.7" width="2" height="1.5"/>
<rect x="822.7" y="221.8" width="2" height="1.5"/>
<rect x="825.2" y="220.8" width="2" height="1.5"/>
<rect x="827.6" y="219.8" width="2" height="1.5"/>
<rect x="830.1" y="218.9" width="2" height="1.5"/>
<rect x="832.6" y="217.9" width="2" height="1.5"/>
<rect x="835" y="217" width="2" height="1.5"/>
<rect x="837.5" y="216" width="2" height="1.5"/>
<rect x="840" y="215.1" width="2" height="1.5"/>
<rect x="842.4" y="214.1" width="2" height="1.5"/>
<rect x="844.9" y="213.1" width="2" height="1.5"/>
<rect x="847.4" y="212.2" width="2" height="1.5"/>
<rect x="849.9" y="211.2" width="2" height="1.5"/>
<rect x="852.3" y="210.3" width="2" height="1.5"/>
<rect x="854.8" y="209.3" width="2" height="1.5"/>
<rect x="857.3" y="208.3" width="2" height="1.5"/>
<rect x="859.7" y="207.4" width="2" height="1.5"/>
<rect x="862.2" y="206.4" width="2" height="1.5"/>
<rect x="864.7" y="205.5" width="2" height="1.5"/>
<rect x="867.1" y="204.5" width="2" height="1.5"/>
<rect x="869.6" y="203.6" width="2" height="1.5"/>
<rect x="813.7" y="227.6" width="2" height="1.5"/>
<rect x="816.2" y="226.6" width="2" height="1.5"/>
<rect x="818.7" y="225.6" width="2" height="1.5"/>
<rect x="821.2" y="224.6" width="2" height="1.5"/>
<rect x="823.7" y="223.7" width="2" height="1.5"/>
<rect x="826.2" y="222.7" width="2" height="1.5"/>
<rect x="828.7" y="221.7" width="2" height="1.5"/>
<rect x="831.2" y="220.7" width="2" height="1.5"/>
<rect x="833.7" y="219.7" width="2" height="1.5"/>
<rect x="836.2" y="218.8" width="2" height="1.5"/>
<rect x="838.7" y="217.8" width="2" height="1.5"/>
<rect x="841.2" y="216.8" width="2" height="1.5"/>
<rect x="843.7" y="215.8" width="2" height="1.5"/>
<rect x="846.2" y="214.8" width="2" height="1.5"/>
<rect x="848.7" y="213.9" width="2" height="1.5"/>
<rect x="851.2" y="212.9" width="2" height="1.5"/>
<rect x="853.7" y="211.9" width="2" height="1.5"/>
<rect x="856.2" y="210.9" width="2" height="1.5"/>
<rect x="858.7" y="210" width="2" height="1.5"/>
<rect x="861.2" y="209" width="2" height="1.5"/>
<rect x="863.7" y="208" width="2" height="1.5"/>
<rect x="866.2" y="207" width="2" height="1.5"/>
<rect x="868.7" y="206" width="2" height="1.5"/>
<rect x="871.2" y="205.1" width="2" height="1.5"/>
<rect x="814.6" y="229.6" width="2" height="1.5"/>
<rect x="817.2" y="228.6" width="2" height="1.5"/>
<rect x="819.7" y="227.6" width="2" height="1.5"/>
<rect x="822.2" y="226.6" width="2" height="1.5"/>
<rect x="824.8" y="225.6" width="2" height="1.5"/>
<rect x="827.3" y="224.6" width="2" height="1.5"/>
<rect x="829.8" y="223.6" width="2" height="1.5"/>
<rect x="832.4" y="222.6" width="2" height="1.5"/>
<rect x="834.9" y="221.6" width="2" height="1.5"/>
<rect x="837.4" y="220.6" width="2" height="1.5"/>
<rect x="840" y="219.6" width="2" height="1.5"/>
<rect x="842.5" y="218.6" width="2" height="1.5"/>
<rect x="845" y="217.6" width="2" height="1.5"/>
<rect x="847.6" y="216.6" width="2" height="1.5"/>
<rect x="850.1" y="215.6" width="2" height="1.5"/>
<rect x="852.6" y="214.6" width="2" height="1.5"/>
<rect x="855.2" y="213.6" width="2" height="1.5"/>
<rect x="857.7" y="212.6" width="2" height="1.5"/>
<rect x="860.2" y="211.6" width="2" height="1.5"/>
<rect x="862.8" y="210.6" width="2" height="1.5"/>
<rect x="865.3" y="209.6" width="2" height="1.5"/>
<rect x="867.8" y="208.6" width="2" height="1.5"/>
<rect x="870.4" y="207.6" width="2" height="1.5"/>
<rect x="872.9" y="206.6" width="2" height="1.5"/>
<rect x="815.5" y="231.5" width="2" height="1.5"/>
<rect x="818.1" y="230.5" width="2" height="1.5"/>
<rect x="820.7" y="229.5" width="2" height="1.5"/>
<rect x="823.2" y="228.5" width="2" height="1.5"/>
<rect x="825.8" y="227.5" width="2" height="1.5"/>
<rect x="828.4" y="226.4" width="2" height="1.5"/>
<rect x="830.9" y="225.4" width="2" height="1.5"/>
<rect x="833.5" y="224.4" width="2" height="1.5"/>
<rect x="836.1" y="223.4" width="2" height="1.5"/>
<rect x="838.6" y="222.3" width="2" height="1.5"/>
<rect x="841.2" y="221.3" width="2" height="1.5"/>
<rect x="843.8" y="220.3" width="2" height="1.5"/>
<rect x="846.3" y="219.3" width="2" height="1.5"/>
<rect x="848.9" y="218.3" width="2" height="1.5"/>
<rect x="851.4" y="217.2" width="2" height="1.5"/>
<rect x="854" y="216.2" width="2" height="1.5"/>
<rect x="856.6" y="215.2" width="2" height="1.5"/>
<rect x="859.1" y="214.2" width="2" height="1.5"/>
<rect x="861.7" y="213.2" width="2" height="1.5"/>
<rect x="864.3" y="212.1" width="2" height="1.5"/>
<rect x="866.8" y="211.1" width="2" height="1.5"/>
<rect x="869.4" y="210.1" width="2" height="1.5"/>
<rect x="872" y="209.1" width="2" height="1.5"/>
<rect x="874.5" y="208.1" width="2" height="1.5"/>
<rect x="816.4" y="233.5" width="2" height="1.5"/>
<rect x="819" y="232.5" width="2" height="1.5"/>
<rect x="821.6" y="231.4" width="2" height="1.5"/>
<rect x="824.2" y="230.4" width="2" height="1.5"/>
<rect x="826.8" y="229.4" width="2" height="1.5"/>
<rect x="829.4" y="228.3" width="2" height="1.5"/>
<rect x="832" y="227.3" width="2" height="1.5"/>
<rect x="834.6" y="226.2" width="2" height="1.5"/>
<rect x="837.2" y="225.2" width="2" height="1.5"/>
<rect x="839.8" y="224.1" width="2" height="1.5"/>
<rect x="842.4" y="223.1" width="2" height="1.5"/>
<rect x="845" y="222.1" width="2" height="1.5"/>
<rect x="847.6" y="221" width="2" height="1.5"/>
<rect x="850.2" y="220" width="2" height="1.5"/>
<rect x="852.8" y="218.9" width="2" height="1.5"/>
<rect x="855.4" y="217.9" width="2" height="1.5"/>
<rect x="858" y="216.9" width="2" height="1.5"/>
<rect x="860.6" y="215.8" width="2" height="1.5"/>
<rect x="863.2" y="214.8" width="2" height="1.5"/>
<rect x="865.8" y="213.7" width="2" height="1.5"/>
<rect x="868.4" y="212.7" width="2" height="1.5"/>
<rect x="871" y="211.6" width="2" height="1.5"/>
<rect x="873.6" y="210.6" width="2" height="1.5"/>
<rect x="876.2" y="209.6" width="2" height="1.5"/>
<rect x="817.3" y="235.5" width="2" height="1.5"/>
<rect x="820" y="234.4" width="2" height="1.5"/>
<rect x="822.6" y="233.4" width="2" height="1.5"/>
<rect x="825.2" y="232.3" width="2" height="1.5"/>
<rect x="827.9" y="231.2" width="2" height="1.5"/>
<rect x="830.5" y="230.2" width="2" height="1.5"/>
<rect x="833.1" y="229.1" width="2" height="1.5"/>
<rect x="835.7" y="228.1" width="2" height="1.5"/>
<rect x="838.4" y="227" width="2" height="1.5"/>
<rect x="841" y="225.9" width="2" height="1.5"/>
<rect x="843.6" y="224.9" width="2" height="1.5"/>
<rect x="846.3" y="223.8" width="2" height="1.5"/>
<rect x="848.9" y="222.7" width="2" height="1.5"/>
<rect x="851.5" y="221.7" width="2" height="1.5"/>
<rect x="854.2" y="220.6" width="2" height="1.5"/>
<rect x="856.8" y="219.6" width="2" height="1.5"/>
<rect x="859.4" y="218.5" width="2" height="1.5"/>
<rect x="862" y="217.4" width="2" height="1.5"/>
<rect x="864.7" y="216.4" width="2" height="1.5"/>
<rect x="867.3" y="215.3" width="2" height="1.5"/>
<rect x="869.9" y="214.2" width="2" height="1.5"/>
<rect x="872.6" y="213.2" width="2" height="1.5"/>
<rect x="875.2" y="212.1" width="2" height="1.5"/>
<rect x="877.8" y="211.1" width="2" height="1.5"/>
<rect x="818.2" y="237.5" width="2" height="1.5"/>
<rect x="820.9" y="236.4" width="2" height="1.5"/>
<rect x="823.6" y="235.3" width="2" height="1.5"/>
<rect x="826.2" y="234.2" width="2" height="1.5"/>
<rect x="828.9" y="233.1" width="2" height="1.5"/>
<rect x="831.6" y="232.1" width="2" height="1.5"/>
<rect x="834.2" y="231" width="2" height="1.5"/>
<rect x="836.9" y="229.9" width="2" height="1.5"/>
<rect x="839.5" y="228.8" width="2" height="1.5"/>
<rect x="842.2" y="227.7" width="2" height="1.5"/>
<rect x="844.9" y="226.6" width="2" height="1.5"/>
<rect x="847.5" y="225.6" width="2" height="1.5"/>
<rect x="850.2" y="224.5" width="2" height="1.5"/>
<rect x="852.8" y="223.4" width="2" height="1.5"/>
<rect x="855.5" y="222.3" width="2" height="1.5"/>
<rect x="858.2" y="221.2" width="2" height="1.5"/>
<rect x="860.8" y="220.1" width="2" height="1.5"/>
<rect x="863.5" y="219.1" width="2" height="1.5"/>
<rect x="866.2" y="218" width="2" height="1.5"/>
<rect x="868.8" y="216.9" width="2" height="1.5"/>
<rect x="871.5" y="215.8" width="2" height="1.5"/>
<rect x="874.1" y="214.7" width="2" height="1.5"/>
<rect x="876.8" y="213.6" width="2" height="1.5"/>
<rect x="879.5" y="212.6" width="2" height="1.5"/>
<rect x="819.1" y="239.5" width="2" height="1.5"/>
<rect x="821.8" y="238.4" width="2" height="1.5"/>
<rect x="824.5" y="237.3" width="2" height="1.5"/>
<rect x="827.2" y="236.2" width="2" height="1.5"/>
<rect x="829.9" y="235" width="2" height="1.5"/>
<rect x="832.6" y="233.9" width="2" height="1.5"/>
<rect x="835.3" y="232.8" width="2" height="1.5"/>
<rect x="838" y="231.7" width="2" height="1.5"/>
<rect x="840.7" y="230.6" width="2" height="1.5"/>
<rect x="843.4" y="229.5" width="2" height="1.5"/>
<rect x="846.1" y="228.4" width="2" height="1.5"/>
<rect x="848.8" y="227.3" width="2" height="1.5"/>
<rect x="851.5" y="226.2" width="2" height="1.5"/>
<rect x="854.2" y="225.1" width="2" height="1.5"/>
<rect x="856.9" y="224" width="2" height="1.5"/>
<rect x="859.6" y="222.9" width="2" height="1.5"/>
<rect x="862.3" y="221.8" width="2" height="1.5"/>
<rect x="864.9" y="220.7" width="2" height="1.5"/>
<rect x="867.6" y="219.6" width="2" height="1.5"/>
<rect x="870.3" y="218.5" width="2" height="1.5"/>
<rect x="873" y="217.4" width="2" height="1.5"/>
<rect x="875.7" y="216.3" width="2" height="1.5"/>
<rect x="878.4" y="215.2" width="2" height="1.5"/>
<rect x="881.1" y="214.1" width="2" height="1.5"/>
<rect x="820.1" y="241.4" width="2" height="1.5"/>
<rect x="822.8" y="240.3" width="2" height="1.5"/>
<rect x="825.5" y="239.2" width="2" height="1.5"/>
<rect x="828.2" y="238.1" width="2" height="1.5"/>
<rect x="831" y="236.9" width="2" height="1.5"/>
<rect x="833.7" y="235.8" width="2" height="1.5"/>
<rect x="836.4" y="234.7" width="2" height="1.5"/>
<rect x="839.1" y="233.6" width="2" height="1.5"/>
<rect x="841.9" y="232.4" width="2" height="1.5"/>
<rect x="844.6" y="231.3" width="2" height="1.5"/>
<rect x="847.3" y="230.2" width="2" height="1.5"/>
<rect x="850" y="229.1" width="2" height="1.5"/>
<rect x="852.8" y="227.9" width="2" height="1.5"/>
<rect x="855.5" y="226.8" width="2" height="1.5"/>
<rect x="858.2" y="225.7" width="2" height="1.5"/>
<rect x="860.9" y="224.6" width="2" height="1.5"/>
<rect x="863.7" y="223.4" width="2" height="1.5"/>
<rect x="866.4" y="222.3" width="2" height="1.5"/>
<rect x="869.1" y="221.2" width="2" height="1.5"/>
<rect x="871.9" y="220.1" width="2" height="1.5"/>
<rect x="874.6" y="218.9" width="2" height="1.5"/>
<rect x="877.3" y="217.8" width="2" height="1.5"/>
<rect x="880" y="216.7" width="2" height="1.5"/>
<rect x="882.8" y="215.6" width="2" height="1.5"/>
<rect x="821" y="243.4" width="2" height="1.5"/>
<rect x="823.7" y="242.3" width="2" height="1.5"/>
<rect x="826.5" y="241.1" width="2" height="1.5"/>
<rect x="829.2" y="240" width="2" height="1.5"/>
<rect x="832" y="238.8" width="2" height="1.5"/>
<rect x="834.7" y="237.7" width="2" height="1.5"/>
<rect x="837.5" y="236.6" width="2" height="1.5"/>
<rect x="840.3" y="235.4" width="2" height="1.5"/>
<rect x="843" y="234.3" width="2" height="1.5"/>
<rect x="845.8" y="233.1" width="2" height="1.5"/>
<rect x="848.5" y="232" width="2" height="1.5"/>
<rect x="851.3" y="230.8" width="2" height="1.5"/>
<rect x="854.1" y="229.7" width="2" height="1.5"/>
<rect x="856.8" y="228.5" width="2" height="1.5"/>
<rect x="859.6" y="227.4" width="2" height="1.5"/>
<rect x="862.3" y="226.2" width="2" height="1.5"/>
<rect x="865.1" y="225.1" width="2" height="1.5"/>
<rect x="867.9" y="223.9" width="2" height="1.5"/>
<rect x="870.6" y="222.8" width="2" height="1.5"/>
<rect x="873.4" y="221.6" width="2" height="1.5"/>
<rect x="876.1" y="220.5" width="2" height="1.5"/>
<rect x="878.9" y="219.4" width="2" height="1.5"/>
<rect x="881.6" y="218.2" width="2" height="1.5"/>
<rect x="884.4" y="217.1" width="2" height="1.5"/>
<rect x="821.9" y="245.4" width="2" height="1.5"/>
<rect x="824.7" y="244.2" width="2" height="1.5"/>
<rect x="827.4" y="243.1" width="2" height="1.5"/>
<rect x="830.2" y="241.9" width="2" height="1.5"/>
<rect x="833" y="240.7" width="2" height="1.5"/>
<rect x="835.8" y="239.6" width="2" height="1.5"/>
<rect x="838.6" y="238.4" width="2" height="1.5"/>
<rect x="841.4" y="237.2" width="2" height="1.5"/>
<rect x="844.2" y="236.1" width="2" height="1.5"/>
<rect x="847" y="234.9" width="2" height="1.5"/>
<rect x="849.8" y="233.7" width="2" height="1.5"/>
<rect x="852.6" y="232.6" width="2" height="1.5"/>
<rect x="855.3" y="231.4" width="2" height="1.5"/>
<rect x="858.1" y="230.2" width="2" height="1.5"/>
<rect x="860.9" y="229.1" width="2" height="1.5"/>
<rect x="863.7" y="227.9" width="2" height="1.5"/>
<rect x="866.5" y="226.7" width="2" height="1.5"/>
<rect x="869.3" y="225.6" width="2" height="1.5"/>
<rect x="872.1" y="224.4" width="2" height="1.5"/>
<rect x="874.9" y="223.2" width="2" height="1.5"/>
<rect x="877.7" y="222.1" width="2" height="1.5"/>
<rect x="880.5" y="220.9" width="2" height="1.5"/>
<rect x="883.3" y="219.7" width="2" height="1.5"/>
<rect x="886" y="218.6" width="2" height="1.5"/>
<rect x="822.8" y="247.4" width="2" height="1.5"/>
<rect x="825.6" y="246.2" width="2" height="1.5"/>
<rect x="828.4" y="245" width="2" height="1.5"/>
<rect x="831.2" y="243.8" width="2" height="1.5"/>
<rect x="834.1" y="242.6" width="2" height="1.5"/>
<rect x="836.9" y="241.5" width="2" height="1.5"/>
<rect x="839.7" y="240.3" width="2" height="1.5"/>
<rect x="842.5" y="239.1" width="2" height="1.5"/>
<rect x="845.3" y="237.9" width="2" height="1.5"/>
<rect x="848.2" y="236.7" width="2" height="1.5"/>
<rect x="851" y="235.5" width="2" height="1.5"/>
<rect x="853.8" y="234.3" width="2" height="1.5"/>
<rect x="856.6" y="233.1" width="2" height="1.5"/>
<rect x="859.5" y="231.9" width="2" height="1.5"/>
<rect x="862.3" y="230.8" width="2" height="1.5"/>
<rect x="865.1" y="229.6" width="2" height="1.5"/>
<rect x="867.9" y="228.4" width="2" height="1.5"/>
<rect x="870.8" y="227.2" width="2" height="1.5"/>
<rect x="873.6" y="226" width="2" height="1.5"/>
<rect x="876.4" y="224.8" width="2" height="1.5"/>
<rect x="879.2" y="223.6" width="2" height="1.5"/>
<rect x="882" y="222.4" width="2" height="1.5"/>
<rect x="884.9" y="221.2" width="2" height="1.5"/>
<rect x="887.7" y="220.1" width="2" height="1.5"/>
<rect x="823.7" y="249.4" width="2" height="1.5"/>
<rect x="826.5" y="248.2" width="2" height="1.5"/>
<rect x="829.4" y="247" width="2" height="1.5"/>
<rect x="832.2" y="245.8" width="2" height="1.5"/>
<rect x="835.1" y="244.5" width="2" height="1.5"/>
<rect x="837.9" y="243.3" width="2" height="1.5"/>
<rect x="840.8" y="242.1" width="2" height="1.5"/>
<rect x="843.7" y="240.9" width="2" height="1.5"/>
<rect x="846.5" y="239.7" width="2" height="1.5"/>
<rect x="849.4" y="238.5" width="2" height="1.5"/>
<rect x="852.2" y="237.3" width="2" height="1.5"/>
<rect x="855.1" y="236.1" width="2" height="1.5"/>
<rect x="857.9" y="234.9" width="2" height="1.5"/>
<rect x="860.8" y="233.7" width="2" height="1.5"/>
<rect x="863.6" y="232.4" width="2" height="1.5"/>
<rect x="866.5" y="231.2" width="2" height="1.5"/>
<rect x="869.3" y="230" width="2" height="1.5"/>
<rect x="872.2" y="228.8" width="2" height="1.5"/>
<rect x="875.1" y="227.6" width="2" height="1.5"/>
<rect x="877.9" y="226.4" width="2" height="1.5"/>
<rect x="880.8" y="225.2" width="2" height="1.5"/>
<rect x="883.6" y="224" width="2" height="1.5"/>
<rect x="886.5" y="222.8" width="2" height="1.5"/>
<rect x="889.3" y="221.6" width="2" height="1.5"/>
</g>
</g>
<path d="M429.3 467.5 h9.5 v35 q0 4 -4.75 4.5 q-4.75 -0.5 -4.75 -4.5 z" fill="#a83a3a" stroke="#8a2a2a" stroke-width="0.6"/>
<rect x="429.3" y="462.5" width="9.5" height="5" fill="#e6eeee"/>
<rect x="428.2" y="449.8" width="11.6" height="13" rx="1.5" fill="#e8672c"/>
<path d="M431 452 v9 M433.7 452 v9 M436.4 452 v9" stroke="#c2481a" stroke-width="0.9"/>
<path d="M447.3 467.5 h9.5 v35 q0 4 -4.75 4.5 q-4.75 -0.5 -4.75 -4.5 z" fill="#a83a3a" stroke="#8a2a2a" stroke-width="0.6"/>
<rect x="447.3" y="462.5" width="9.5" height="5" fill="#e6eeee"/>
<rect x="446.2" y="449.8" width="11.6" height="13" rx="1.5" fill="#e8672c"/>
<path d="M449 452 v9 M451.7 452 v9 M454.4 452 v9" stroke="#c2481a" stroke-width="0.9"/>
<circle cx="508.4" cy="453.2" r="34.5" fill="#fcecec" stroke="#1a1a1a" stroke-width="1.8"/>
<circle cx="494.2" cy="437.1" r="8.1" fill="#e2d2e8"/>
<circle cx="494.2" cy="437.1" r="5" fill="#d6c2dc"/>
<circle cx="487.9" cy="447.4" r="8.6" fill="#b4b8e2"/>
<circle cx="487.9" cy="447.4" r="5.6" fill="#9a98d6"/>
<circle cx="515.8" cy="448.2" r="8.6" fill="#dcd6ea"/>
<circle cx="515.8" cy="448.2" r="5.5" fill="#d0c6e2"/>
<circle cx="520.4" cy="435.7" r="8.6" fill="#a2d0b0"/>
<circle cx="520.4" cy="435.7" r="5.2" fill="#5aa878"/>
<circle cx="529.2" cy="458" r="8.2" fill="#cbb6e4"/>
<circle cx="529.2" cy="458" r="5" fill="#b296cc"/>
<circle cx="503.1" cy="467.2" r="8.6" fill="#9ccfd8"/>
<circle cx="503.1" cy="467.2" r="5.6" fill="#6fa8bc"/>
<path d="M503.1 457.7 L503.1 454.2" stroke="#2a78b0" stroke-width="1.1"/>
<path d="M511.3 462.4 L514.4 460.7" stroke="#2a78b0" stroke-width="1.1"/>
<path d="M511.3 471.9 L514.4 473.7" stroke="#2a78b0" stroke-width="1.1"/>
<path d="M503.1 476.7 L503.1 480.2" stroke="#2a78b0" stroke-width="1.1"/>
<path d="M494.9 471.9 L491.8 473.7" stroke="#2a78b0" stroke-width="1.1"/>
<path d="M494.9 462.4 L491.8 460.7" stroke="#2a78b0" stroke-width="1.1"/>
<line x1="452.5" y1="484.1" x2="473.5" y2="446.5" stroke="#222" stroke-width="1.3" stroke-dasharray="4 3"/>
<line x1="457.4" y1="484.9" x2="496" y2="487.5" stroke="#222" stroke-width="1.3" stroke-dasharray="4 3"/>
<g transform="translate(0 343.5)">
<polygon points="421,194 434,191 488,177 491.5,180 491.5,194.5 435,218.5 426,219 420.5,215.5" fill="#dfe6e8"/>
<polygon points="434.5,196 491.5,181 491.5,194.5 435,218.5" fill="#9ea3a8"/>
<polygon points="437,195.5 441.2,194.4 439.6,209.5" fill="#bfe0f0"/>
<polygon points="443.6,193.8 447.8,192.7 446.2,207.4" fill="#bfe0f0"/>
<polygon points="450.2,192 454.4,190.9 452.8,205.4" fill="#bfe0f0"/>
<polygon points="456.8,190.2 461,189.2 459.4,203.3" fill="#bfe0f0"/>
<polygon points="463.4,188.5 467.6,187.4 466,201.3" fill="#bfe0f0"/>
<polygon points="470,186.8 474.2,185.7 472.6,199.2" fill="#bfe0f0"/>
<polygon points="476.6,185 480.8,183.9 479.2,197.2" fill="#bfe0f0"/>
<polygon points="483.2,183.2 487.4,182.2 485.8,195.2" fill="#bfe0f0"/>
<polygon points="421,194 434.5,196 491.5,181 488,177 434,190" fill="#eef2f3"/>
<rect x="420.5" y="194" width="14" height="25" rx="2" fill="#e4ecee" stroke="#c8d0d2" stroke-width="0.6"/>
</g>
<line x1="459.6" y1="541.8" x2="502.7" y2="539" stroke="#222" stroke-width="1.3" stroke-dasharray="4 3"/>
<line x1="461" y1="546" x2="480.5" y2="579.5" stroke="#222" stroke-width="1.3" stroke-dasharray="4 3"/>
<circle cx="515.1" cy="572.4" r="34.5" fill="#fcecec" stroke="#1a1a1a" stroke-width="1.8"/>
<circle cx="507.7" cy="557" r="9.6" fill="#f6aac6"/>
<circle cx="507.7" cy="557" r="6" fill="#ee92b4"/>
<circle cx="529.2" cy="560.9" r="9.6" fill="#5a96ac"/>
<circle cx="529.2" cy="560.9" r="6.5" fill="#3a7a92"/>
<circle cx="523.2" cy="574.3" r="9.6" fill="#f6bcd0"/>
<circle cx="523.2" cy="574.3" r="6" fill="#f2a8c2"/>
<circle cx="496.4" cy="575" r="9.6" fill="#5a96ac"/>
<circle cx="496.4" cy="575" r="6.5" fill="#3a7a92"/>
<circle cx="509.8" cy="587.8" r="9.6" fill="#f6aac6"/>
<circle cx="509.8" cy="587.8" r="6" fill="#ee8cb2"/>
<circle cx="531" cy="582.1" r="9.6" fill="#5a96ac"/>
<circle cx="531" cy="582.1" r="6.5" fill="#3a7a92"/>
<g transform="translate(0 343.5)">
<polygon points="421,288 426.5,280 491.8,282 491.8,334.5 477,336 441,334 421,329" fill="#2f47a0"/>
<polygon points="421,288 426.5,280 491.8,282 491.8,288 460,295 444,296" fill="#4c62b4"/>
<polygon points="460,295 491.8,288 491.8,334.5 477,336 470,300" fill="#2a3c8c"/>
<polygon points="441,302 456,303 458,306 469,304 477,310 477,334.3 441,334.3" fill="#c6c6c6"/>
<polygon points="456,303 458,306 458,334 456,334" fill="#b0b0b0"/>
<polygon points="440.5,334.3 457.4,329.7 477.3,334.3 458.9,342.4" fill="#6a6a6a"/>
<rect x="425" y="283.5" width="12" height="4" fill="#d8dce8" transform="rotate(-8 431 285)"/>
</g>
<circle cx="516.2" cy="683.1" r="34.5" fill="#fcecec" stroke="#1a1a1a" stroke-width="1.8"/>
<circle cx="508.7" cy="667.8" r="9.6" fill="#a46ab4"/>
<circle cx="508.7" cy="667.8" r="6.2" fill="#8c509e"/>
<circle cx="529.6" cy="671" r="9.6" fill="#a064b0"/>
<circle cx="529.6" cy="671" r="6.5" fill="#86489a"/>
<circle cx="521.8" cy="686.2" r="9.6" fill="#c492cc"/>
<circle cx="521.8" cy="686.2" r="6" fill="#b07cbc"/>
<circle cx="497.4" cy="685.9" r="9.6" fill="#a064b0"/>
<circle cx="497.4" cy="685.9" r="6.5" fill="#86489a"/>
<circle cx="510.9" cy="698.3" r="9.6" fill="#a064b0"/>
<circle cx="510.9" cy="698.3" r="6.5" fill="#86489a"/>
<circle cx="531.7" cy="693" r="9.6" fill="#a064b0"/>
<circle cx="531.7" cy="693" r="6.5" fill="#86489a"/>
<line x1="463" y1="656.5" x2="482" y2="688.5" stroke="#222" stroke-width="1.3" stroke-dasharray="4 3"/>
<line x1="479" y1="649.5" x2="503" y2="649.5" stroke="#222" stroke-width="1.3" stroke-dasharray="4 3"/>
<path d="M823.5 433 h24 v2.5 h-24 z" fill="#e8eef0" stroke="#7a848a" stroke-width="0.8"/>
<path d="M828 437 h16.5 v28 l-8.25 27 l-8.25 -27 z" fill="#c4e2f2" stroke="#4c7890" stroke-width="0.9"/>
<rect x="828.4" y="438" width="15.7" height="14" fill="#e8f0f0"/>
<path d="M828.4 439.5 h15.7" stroke="#7a848a" stroke-width="1"/>
<path d="M862.6 433 h24 v2.5 h-24 z" fill="#e8eef0" stroke="#7a848a" stroke-width="0.8"/>
<path d="M867.1 437 h16.5 v28 l-8.25 27 l-8.25 -27 z" fill="#c4e2f2" stroke="#4c7890" stroke-width="0.9"/>
<rect x="867.5" y="438" width="15.7" height="14" fill="#e8f0f0"/>
<path d="M867.5 439.5 h15.7" stroke="#7a848a" stroke-width="1"/>
<g transform="translate(0 343.5)">
<polygon points="869.7,313 893.8,328.9 893.8,358 869.7,359" fill="#cbcecf"/>
<polygon points="869.7,358 893.8,357 893.8,365.4 869.7,374.6" fill="#7c8082"/>
<rect x="861.9" y="312.4" width="7.8" height="47" fill="#e4e8ea"/>
<rect x="861.9" y="359" width="7.8" height="15.6" fill="#95999c"/>
<polygon points="811,357.3 862,360 862,373.5 811,369.5" fill="#a4a8ac"/>
<rect x="810.4" y="317" width="3" height="40" fill="#e4e8ea"/>
<polygon points="813,316.2 861.6,312.2 861.6,361.3 813,359" fill="#3e4244"/>
<polygon points="813,316.2 861.6,312.2 861.6,314.5 813,318.5" fill="#25282a"/>
<polygon points="819.1,322.9 853,321.1 853,346.9 819.1,346.9" fill="#2a2e30"/>
<polygon points="819.1,322.9 853,321.1 853,328.8 819.1,330.7" fill="#4a6890"/>
<circle cx="836" cy="335" r="4.2" fill="none" stroke="#cfd2d4" stroke-width="0.8" stroke-dasharray="1.2 1.2"/>
</g>
<g transform="translate(0 686)">
<polygon points="805.5,219.3 866.6,194.9 897.1,222.4 897.1,228 822.6,261 805.5,225" fill="#cfdfe3"/>
<polygon points="805.5,219.3 866.6,194.9 897.1,222.4 822.6,256" fill="#e6eff1"/>
<g fill="#3e8cc8">
<rect x="810.1" y="219.6" width="2" height="1.5"/>
<rect x="812.5" y="218.7" width="2" height="1.5"/>
<rect x="814.8" y="217.8" width="2" height="1.5"/>
<rect x="817.2" y="217" width="2" height="1.5"/>
<rect x="819.6" y="216.1" width="2" height="1.5"/>
<rect x="822" y="215.2" width="2" height="1.5"/>
<rect x="824.3" y="214.3" width="2" height="1.5"/>
<rect x="826.7" y="213.4" width="2" height="1.5"/>
<rect x="829.1" y="212.5" width="2" height="1.5"/>
<rect x="831.5" y="211.6" width="2" height="1.5"/>
<rect x="833.8" y="210.7" width="2" height="1.5"/>
<rect x="836.2" y="209.8" width="2" height="1.5"/>
<rect x="838.6" y="208.9" width="2" height="1.5"/>
<rect x="840.9" y="208" width="2" height="1.5"/>
<rect x="843.3" y="207.1" width="2" height="1.5"/>
<rect x="845.7" y="206.2" width="2" height="1.5"/>
<rect x="848.1" y="205.3" width="2" height="1.5"/>
<rect x="850.4" y="204.4" width="2" height="1.5"/>
<rect x="852.8" y="203.5" width="2" height="1.5"/>
<rect x="855.2" y="202.6" width="2" height="1.5"/>
<rect x="857.6" y="201.7" width="2" height="1.5"/>
<rect x="859.9" y="200.9" width="2" height="1.5"/>
<rect x="862.3" y="200" width="2" height="1.5"/>
<rect x="864.7" y="199.1" width="2" height="1.5"/>
<rect x="811" y="221.6" width="2" height="1.5"/>
<rect x="813.4" y="220.7" width="2" height="1.5"/>
<rect x="815.8" y="219.8" width="2" height="1.5"/>
<rect x="818.2" y="218.9" width="2" height="1.5"/>
<rect x="820.6" y="218" width="2" height="1.5"/>
<rect x="823" y="217" width="2" height="1.5"/>
<rect x="825.4" y="216.1" width="2" height="1.5"/>
<rect x="827.8" y="215.2" width="2" height="1.5"/>
<rect x="830.2" y="214.3" width="2" height="1.5"/>
<rect x="832.6" y="213.4" width="2" height="1.5"/>
<rect x="835.1" y="212.5" width="2" height="1.5"/>
<rect x="837.5" y="211.5" width="2" height="1.5"/>
<rect x="839.9" y="210.6" width="2" height="1.5"/>
<rect x="842.3" y="209.7" width="2" height="1.5"/>
<rect x="844.7" y="208.8" width="2" height="1.5"/>
<rect x="847.1" y="207.9" width="2" height="1.5"/>
<rect x="849.5" y="207" width="2" height="1.5"/>
<rect x="851.9" y="206.1" width="2" height="1.5"/>
<rect x="854.3" y="205.1" width="2" height="1.5"/>
<rect x="856.7" y="204.2" width="2" height="1.5"/>
<rect x="859.1" y="203.3" width="2" height="1.5"/>
<rect x="861.5" y="202.4" width="2" height="1.5"/>
<rect x="863.9" y="201.5" width="2" height="1.5"/>
<rect x="866.3" y="200.6" width="2" height="1.5"/>
<rect x="811.9" y="223.6" width="2" height="1.5"/>
<rect x="814.3" y="222.7" width="2" height="1.5"/>
<rect x="816.8" y="221.7" width="2" height="1.5"/>
<rect x="819.2" y="220.8" width="2" height="1.5"/>
<rect x="821.7" y="219.9" width="2" height="1.5"/>
<rect x="824.1" y="218.9" width="2" height="1.5"/>
<rect x="826.5" y="218" width="2" height="1.5"/>
<rect x="829" y="217" width="2" height="1.5"/>
<rect x="831.4" y="216.1" width="2" height="1.5"/>
<rect x="833.8" y="215.2" width="2" height="1.5"/>
<rect x="836.3" y="214.2" width="2" height="1.5"/>
<rect x="838.7" y="213.3" width="2" height="1.5"/>
<rect x="841.2" y="212.4" width="2" height="1.5"/>
<rect x="843.6" y="211.4" width="2" height="1.5"/>
<rect x="846" y="210.5" width="2" height="1.5"/>
<rect x="848.5" y="209.6" width="2" height="1.5"/>
<rect x="850.9" y="208.6" width="2" height="1.5"/>
<rect x="853.3" y="207.7" width="2" height="1.5"/>
<rect x="855.8" y="206.7" width="2" height="1.5"/>
<rect x="858.2" y="205.8" width="2" height="1.5"/>
<rect x="860.6" y="204.9" width="2" height="1.5"/>
<rect x="863.1" y="203.9" width="2" height="1.5"/>
<rect x="865.5" y="203" width="2" height="1.5"/>
<rect x="868" y="202.1" width="2" height="1.5"/>
<rect x="812.8" y="225.6" width="2" height="1.5"/>
<rect x="815.3" y="224.6" width="2" height="1.5"/>
<rect x="817.8" y="223.7" width="2" height="1.5"/>
<rect x="820.2" y="222.7" width="2" height="1.5"/>
<rect x="822.7" y="221.8" width="2" height="1.5"/>
<rect x="825.2" y="220.8" width="2" height="1.5"/>
<rect x="827.6" y="219.8" width="2" height="1.5"/>
<rect x="830.1" y="218.9" width="2" height="1.5"/>
<rect x="832.6" y="217.9" width="2" height="1.5"/>
<rect x="835" y="217" width="2" height="1.5"/>
<rect x="837.5" y="216" width="2" height="1.5"/>
<rect x="840" y="215.1" width="2" height="1.5"/>
<rect x="842.4" y="214.1" width="2" height="1.5"/>
<rect x="844.9" y="213.1" width="2" height="1.5"/>
<rect x="847.4" y="212.2" width="2" height="1.5"/>
<rect x="849.9" y="211.2" width="2" height="1.5"/>
<rect x="852.3" y="210.3" width="2" height="1.5"/>
<rect x="854.8" y="209.3" width="2" height="1.5"/>
<rect x="857.3" y="208.3" width="2" height="1.5"/>
<rect x="859.7" y="207.4" width="2" height="1.5"/>
<rect x="862.2" y="206.4" width="2" height="1.5"/>
<rect x="864.7" y="205.5" width="2" height="1.5"/>
<rect x="867.1" y="204.5" width="2" height="1.5"/>
<rect x="869.6" y="203.6" width="2" height="1.5"/>
<rect x="813.7" y="227.6" width="2" height="1.5"/>
<rect x="816.2" y="226.6" width="2" height="1.5"/>
<rect x="818.7" y="225.6" width="2" height="1.5"/>
<rect x="821.2" y="224.6" width="2" height="1.5"/>
<rect x="823.7" y="223.7" width="2" height="1.5"/>
<rect x="826.2" y="222.7" width="2" height="1.5"/>
<rect x="828.7" y="221.7" width="2" height="1.5"/>
<rect x="831.2" y="220.7" width="2" height="1.5"/>
<rect x="833.7" y="219.7" width="2" height="1.5"/>
<rect x="836.2" y="218.8" width="2" height="1.5"/>
<rect x="838.7" y="217.8" width="2" height="1.5"/>
<rect x="841.2" y="216.8" width="2" height="1.5"/>
<rect x="843.7" y="215.8" width="2" height="1.5"/>
<rect x="846.2" y="214.8" width="2" height="1.5"/>
<rect x="848.7" y="213.9" width="2" height="1.5"/>
<rect x="851.2" y="212.9" width="2" height="1.5"/>
<rect x="853.7" y="211.9" width="2" height="1.5"/>
<rect x="856.2" y="210.9" width="2" height="1.5"/>
<rect x="858.7" y="210" width="2" height="1.5"/>
<rect x="861.2" y="209" width="2" height="1.5"/>
<rect x="863.7" y="208" width="2" height="1.5"/>
<rect x="866.2" y="207" width="2" height="1.5"/>
<rect x="868.7" y="206" width="2" height="1.5"/>
<rect x="871.2" y="205.1" width="2" height="1.5"/>
<rect x="814.6" y="229.6" width="2" height="1.5"/>
<rect x="817.2" y="228.6" width="2" height="1.5"/>
<rect x="819.7" y="227.6" width="2" height="1.5"/>
<rect x="822.2" y="226.6" width="2" height="1.5"/>
<rect x="824.8" y="225.6" width="2" height="1.5"/>
<rect x="827.3" y="224.6" width="2" height="1.5"/>
<rect x="829.8" y="223.6" width="2" height="1.5"/>
<rect x="832.4" y="222.6" width="2" height="1.5"/>
<rect x="834.9" y="221.6" width="2" height="1.5"/>
<rect x="837.4" y="220.6" width="2" height="1.5"/>
<rect x="840" y="219.6" width="2" height="1.5"/>
<rect x="842.5" y="218.6" width="2" height="1.5"/>
<rect x="845" y="217.6" width="2" height="1.5"/>
<rect x="847.6" y="216.6" width="2" height="1.5"/>
<rect x="850.1" y="215.6" width="2" height="1.5"/>
<rect x="852.6" y="214.6" width="2" height="1.5"/>
<rect x="855.2" y="213.6" width="2" height="1.5"/>
<rect x="857.7" y="212.6" width="2" height="1.5"/>
<rect x="860.2" y="211.6" width="2" height="1.5"/>
<rect x="862.8" y="210.6" width="2" height="1.5"/>
<rect x="865.3" y="209.6" width="2" height="1.5"/>
<rect x="867.8" y="208.6" width="2" height="1.5"/>
<rect x="870.4" y="207.6" width="2" height="1.5"/>
<rect x="872.9" y="206.6" width="2" height="1.5"/>
<rect x="815.5" y="231.5" width="2" height="1.5"/>
<rect x="818.1" y="230.5" width="2" height="1.5"/>
<rect x="820.7" y="229.5" width="2" height="1.5"/>
<rect x="823.2" y="228.5" width="2" height="1.5"/>
<rect x="825.8" y="227.5" width="2" height="1.5"/>
<rect x="828.4" y="226.4" width="2" height="1.5"/>
<rect x="830.9" y="225.4" width="2" height="1.5"/>
<rect x="833.5" y="224.4" width="2" height="1.5"/>
<rect x="836.1" y="223.4" width="2" height="1.5"/>
<rect x="838.6" y="222.3" width="2" height="1.5"/>
<rect x="841.2" y="221.3" width="2" height="1.5"/>
<rect x="843.8" y="220.3" width="2" height="1.5"/>
<rect x="846.3" y="219.3" width="2" height="1.5"/>
<rect x="848.9" y="218.3" width="2" height="1.5"/>
<rect x="851.4" y="217.2" width="2" height="1.5"/>
<rect x="854" y="216.2" width="2" height="1.5"/>
<rect x="856.6" y="215.2" width="2" height="1.5"/>
<rect x="859.1" y="214.2" width="2" height="1.5"/>
<rect x="861.7" y="213.2" width="2" height="1.5"/>
<rect x="864.3" y="212.1" width="2" height="1.5"/>
<rect x="866.8" y="211.1" width="2" height="1.5"/>
<rect x="869.4" y="210.1" width="2" height="1.5"/>
<rect x="872" y="209.1" width="2" height="1.5"/>
<rect x="874.5" y="208.1" width="2" height="1.5"/>
<rect x="816.4" y="233.5" width="2" height="1.5"/>
<rect x="819" y="232.5" width="2" height="1.5"/>
<rect x="821.6" y="231.4" width="2" height="1.5"/>
<rect x="824.2" y="230.4" width="2" height="1.5"/>
<rect x="826.8" y="229.4" width="2" height="1.5"/>
<rect x="829.4" y="228.3" width="2" height="1.5"/>
<rect x="832" y="227.3" width="2" height="1.5"/>
<rect x="834.6" y="226.2" width="2" height="1.5"/>
<rect x="837.2" y="225.2" width="2" height="1.5"/>
<rect x="839.8" y="224.1" width="2" height="1.5"/>
<rect x="842.4" y="223.1" width="2" height="1.5"/>
<rect x="845" y="222.1" width="2" height="1.5"/>
<rect x="847.6" y="221" width="2" height="1.5"/>
<rect x="850.2" y="220" width="2" height="1.5"/>
<rect x="852.8" y="218.9" width="2" height="1.5"/>
<rect x="855.4" y="217.9" width="2" height="1.5"/>
<rect x="858" y="216.9" width="2" height="1.5"/>
<rect x="860.6" y="215.8" width="2" height="1.5"/>
<rect x="863.2" y="214.8" width="2" height="1.5"/>
<rect x="865.8" y="213.7" width="2" height="1.5"/>
<rect x="868.4" y="212.7" width="2" height="1.5"/>
<rect x="871" y="211.6" width="2" height="1.5"/>
<rect x="873.6" y="210.6" width="2" height="1.5"/>
<rect x="876.2" y="209.6" width="2" height="1.5"/>
<rect x="817.3" y="235.5" width="2" height="1.5"/>
<rect x="820" y="234.4" width="2" height="1.5"/>
<rect x="822.6" y="233.4" width="2" height="1.5"/>
<rect x="825.2" y="232.3" width="2" height="1.5"/>
<rect x="827.9" y="231.2" width="2" height="1.5"/>
<rect x="830.5" y="230.2" width="2" height="1.5"/>
<rect x="833.1" y="229.1" width="2" height="1.5"/>
<rect x="835.7" y="228.1" width="2" height="1.5"/>
<rect x="838.4" y="227" width="2" height="1.5"/>
<rect x="841" y="225.9" width="2" height="1.5"/>
<rect x="843.6" y="224.9" width="2" height="1.5"/>
<rect x="846.3" y="223.8" width="2" height="1.5"/>
<rect x="848.9" y="222.7" width="2" height="1.5"/>
<rect x="851.5" y="221.7" width="2" height="1.5"/>
<rect x="854.2" y="220.6" width="2" height="1.5"/>
<rect x="856.8" y="219.6" width="2" height="1.5"/>
<rect x="859.4" y="218.5" width="2" height="1.5"/>
<rect x="862" y="217.4" width="2" height="1.5"/>
<rect x="864.7" y="216.4" width="2" height="1.5"/>
<rect x="867.3" y="215.3" width="2" height="1.5"/>
<rect x="869.9" y="214.2" width="2" height="1.5"/>
<rect x="872.6" y="213.2" width="2" height="1.5"/>
<rect x="875.2" y="212.1" width="2" height="1.5"/>
<rect x="877.8" y="211.1" width="2" height="1.5"/>
<rect x="818.2" y="237.5" width="2" height="1.5"/>
<rect x="820.9" y="236.4" width="2" height="1.5"/>
<rect x="823.6" y="235.3" width="2" height="1.5"/>
<rect x="826.2" y="234.2" width="2" height="1.5"/>
<rect x="828.9" y="233.1" width="2" height="1.5"/>
<rect x="831.6" y="232.1" width="2" height="1.5"/>
<rect x="834.2" y="231" width="2" height="1.5"/>
<rect x="836.9" y="229.9" width="2" height="1.5"/>
<rect x="839.5" y="228.8" width="2" height="1.5"/>
<rect x="842.2" y="227.7" width="2" height="1.5"/>
<rect x="844.9" y="226.6" width="2" height="1.5"/>
<rect x="847.5" y="225.6" width="2" height="1.5"/>
<rect x="850.2" y="224.5" width="2" height="1.5"/>
<rect x="852.8" y="223.4" width="2" height="1.5"/>
<rect x="855.5" y="222.3" width="2" height="1.5"/>
<rect x="858.2" y="221.2" width="2" height="1.5"/>
<rect x="860.8" y="220.1" width="2" height="1.5"/>
<rect x="863.5" y="219.1" width="2" height="1.5"/>
<rect x="866.2" y="218" width="2" height="1.5"/>
<rect x="868.8" y="216.9" width="2" height="1.5"/>
<rect x="871.5" y="215.8" width="2" height="1.5"/>
<rect x="874.1" y="214.7" width="2" height="1.5"/>
<rect x="876.8" y="213.6" width="2" height="1.5"/>
<rect x="879.5" y="212.6" width="2" height="1.5"/>
<rect x="819.1" y="239.5" width="2" height="1.5"/>
<rect x="821.8" y="238.4" width="2" height="1.5"/>
<rect x="824.5" y="237.3" width="2" height="1.5"/>
<rect x="827.2" y="236.2" width="2" height="1.5"/>
<rect x="829.9" y="235" width="2" height="1.5"/>
<rect x="832.6" y="233.9" width="2" height="1.5"/>
<rect x="835.3" y="232.8" width="2" height="1.5"/>
<rect x="838" y="231.7" width="2" height="1.5"/>
<rect x="840.7" y="230.6" width="2" height="1.5"/>
<rect x="843.4" y="229.5" width="2" height="1.5"/>
<rect x="846.1" y="228.4" width="2" height="1.5"/>
<rect x="848.8" y="227.3" width="2" height="1.5"/>
<rect x="851.5" y="226.2" width="2" height="1.5"/>
<rect x="854.2" y="225.1" width="2" height="1.5"/>
<rect x="856.9" y="224" width="2" height="1.5"/>
<rect x="859.6" y="222.9" width="2" height="1.5"/>
<rect x="862.3" y="221.8" width="2" height="1.5"/>
<rect x="864.9" y="220.7" width="2" height="1.5"/>
<rect x="867.6" y="219.6" width="2" height="1.5"/>
<rect x="870.3" y="218.5" width="2" height="1.5"/>
<rect x="873" y="217.4" width="2" height="1.5"/>
<rect x="875.7" y="216.3" width="2" height="1.5"/>
<rect x="878.4" y="215.2" width="2" height="1.5"/>
<rect x="881.1" y="214.1" width="2" height="1.5"/>
<rect x="820.1" y="241.4" width="2" height="1.5"/>
<rect x="822.8" y="240.3" width="2" height="1.5"/>
<rect x="825.5" y="239.2" width="2" height="1.5"/>
<rect x="828.2" y="238.1" width="2" height="1.5"/>
<rect x="831" y="236.9" width="2" height="1.5"/>
<rect x="833.7" y="235.8" width="2" height="1.5"/>
<rect x="836.4" y="234.7" width="2" height="1.5"/>
<rect x="839.1" y="233.6" width="2" height="1.5"/>
<rect x="841.9" y="232.4" width="2" height="1.5"/>
<rect x="844.6" y="231.3" width="2" height="1.5"/>
<rect x="847.3" y="230.2" width="2" height="1.5"/>
<rect x="850" y="229.1" width="2" height="1.5"/>
<rect x="852.8" y="227.9" width="2" height="1.5"/>
<rect x="855.5" y="226.8" width="2" height="1.5"/>
<rect x="858.2" y="225.7" width="2" height="1.5"/>
<rect x="860.9" y="224.6" width="2" height="1.5"/>
<rect x="863.7" y="223.4" width="2" height="1.5"/>
<rect x="866.4" y="222.3" width="2" height="1.5"/>
<rect x="869.1" y="221.2" width="2" height="1.5"/>
<rect x="871.9" y="220.1" width="2" height="1.5"/>
<rect x="874.6" y="218.9" width="2" height="1.5"/>
<rect x="877.3" y="217.8" width="2" height="1.5"/>
<rect x="880" y="216.7" width="2" height="1.5"/>
<rect x="882.8" y="215.6" width="2" height="1.5"/>
<rect x="821" y="243.4" width="2" height="1.5"/>
<rect x="823.7" y="242.3" width="2" height="1.5"/>
<rect x="826.5" y="241.1" width="2" height="1.5"/>
<rect x="829.2" y="240" width="2" height="1.5"/>
<rect x="832" y="238.8" width="2" height="1.5"/>
<rect x="834.7" y="237.7" width="2" height="1.5"/>
<rect x="837.5" y="236.6" width="2" height="1.5"/>
<rect x="840.3" y="235.4" width="2" height="1.5"/>
<rect x="843" y="234.3" width="2" height="1.5"/>
<rect x="845.8" y="233.1" width="2" height="1.5"/>
<rect x="848.5" y="232" width="2" height="1.5"/>
<rect x="851.3" y="230.8" width="2" height="1.5"/>
<rect x="854.1" y="229.7" width="2" height="1.5"/>
<rect x="856.8" y="228.5" width="2" height="1.5"/>
<rect x="859.6" y="227.4" width="2" height="1.5"/>
<rect x="862.3" y="226.2" width="2" height="1.5"/>
<rect x="865.1" y="225.1" width="2" height="1.5"/>
<rect x="867.9" y="223.9" width="2" height="1.5"/>
<rect x="870.6" y="222.8" width="2" height="1.5"/>
<rect x="873.4" y="221.6" width="2" height="1.5"/>
<rect x="876.1" y="220.5" width="2" height="1.5"/>
<rect x="878.9" y="219.4" width="2" height="1.5"/>
<rect x="881.6" y="218.2" width="2" height="1.5"/>
<rect x="884.4" y="217.1" width="2" height="1.5"/>
<rect x="821.9" y="245.4" width="2" height="1.5"/>
<rect x="824.7" y="244.2" width="2" height="1.5"/>
<rect x="827.4" y="243.1" width="2" height="1.5"/>
<rect x="830.2" y="241.9" width="2" height="1.5"/>
<rect x="833" y="240.7" width="2" height="1.5"/>
<rect x="835.8" y="239.6" width="2" height="1.5"/>
<rect x="838.6" y="238.4" width="2" height="1.5"/>
<rect x="841.4" y="237.2" width="2" height="1.5"/>
<rect x="844.2" y="236.1" width="2" height="1.5"/>
<rect x="847" y="234.9" width="2" height="1.5"/>
<rect x="849.8" y="233.7" width="2" height="1.5"/>
<rect x="852.6" y="232.6" width="2" height="1.5"/>
<rect x="855.3" y="231.4" width="2" height="1.5"/>
<rect x="858.1" y="230.2" width="2" height="1.5"/>
<rect x="860.9" y="229.1" width="2" height="1.5"/>
<rect x="863.7" y="227.9" width="2" height="1.5"/>
<rect x="866.5" y="226.7" width="2" height="1.5"/>
<rect x="869.3" y="225.6" width="2" height="1.5"/>
<rect x="872.1" y="224.4" width="2" height="1.5"/>
<rect x="874.9" y="223.2" width="2" height="1.5"/>
<rect x="877.7" y="222.1" width="2" height="1.5"/>
<rect x="880.5" y="220.9" width="2" height="1.5"/>
<rect x="883.3" y="219.7" width="2" height="1.5"/>
<rect x="886" y="218.6" width="2" height="1.5"/>
<rect x="822.8" y="247.4" width="2" height="1.5"/>
<rect x="825.6" y="246.2" width="2" height="1.5"/>
<rect x="828.4" y="245" width="2" height="1.5"/>
<rect x="831.2" y="243.8" width="2" height="1.5"/>
<rect x="834.1" y="242.6" width="2" height="1.5"/>
<rect x="836.9" y="241.5" width="2" height="1.5"/>
<rect x="839.7" y="240.3" width="2" height="1.5"/>
<rect x="842.5" y="239.1" width="2" height="1.5"/>
<rect x="845.3" y="237.9" width="2" height="1.5"/>
<rect x="848.2" y="236.7" width="2" height="1.5"/>
<rect x="851" y="235.5" width="2" height="1.5"/>
<rect x="853.8" y="234.3" width="2" height="1.5"/>
<rect x="856.6" y="233.1" width="2" height="1.5"/>
<rect x="859.5" y="231.9" width="2" height="1.5"/>
<rect x="862.3" y="230.8" width="2" height="1.5"/>
<rect x="865.1" y="229.6" width="2" height="1.5"/>
<rect x="867.9" y="228.4" width="2" height="1.5"/>
<rect x="870.8" y="227.2" width="2" height="1.5"/>
<rect x="873.6" y="226" width="2" height="1.5"/>
<rect x="876.4" y="224.8" width="2" height="1.5"/>
<rect x="879.2" y="223.6" width="2" height="1.5"/>
<rect x="882" y="222.4" width="2" height="1.5"/>
<rect x="884.9" y="221.2" width="2" height="1.5"/>
<rect x="887.7" y="220.1" width="2" height="1.5"/>
<rect x="823.7" y="249.4" width="2" height="1.5"/>
<rect x="826.5" y="248.2" width="2" height="1.5"/>
<rect x="829.4" y="247" width="2" height="1.5"/>
<rect x="832.2" y="245.8" width="2" height="1.5"/>
<rect x="835.1" y="244.5" width="2" height="1.5"/>
<rect x="837.9" y="243.3" width="2" height="1.5"/>
<rect x="840.8" y="242.1" width="2" height="1.5"/>
<rect x="843.7" y="240.9" width="2" height="1.5"/>
<rect x="846.5" y="239.7" width="2" height="1.5"/>
<rect x="849.4" y="238.5" width="2" height="1.5"/>
<rect x="852.2" y="237.3" width="2" height="1.5"/>
<rect x="855.1" y="236.1" width="2" height="1.5"/>
<rect x="857.9" y="234.9" width="2" height="1.5"/>
<rect x="860.8" y="233.7" width="2" height="1.5"/>
<rect x="863.6" y="232.4" width="2" height="1.5"/>
<rect x="866.5" y="231.2" width="2" height="1.5"/>
<rect x="869.3" y="230" width="2" height="1.5"/>
<rect x="872.2" y="228.8" width="2" height="1.5"/>
<rect x="875.1" y="227.6" width="2" height="1.5"/>
<rect x="877.9" y="226.4" width="2" height="1.5"/>
<rect x="880.8" y="225.2" width="2" height="1.5"/>
<rect x="883.6" y="224" width="2" height="1.5"/>
<rect x="886.5" y="222.8" width="2" height="1.5"/>
<rect x="889.3" y="221.6" width="2" height="1.5"/>
</g>
</g>
<path d="M429.3 810 h9.5 v35 q0 4 -4.75 4.5 q-4.75 -0.5 -4.75 -4.5 z" fill="#a83a3a" stroke="#8a2a2a" stroke-width="0.6"/>
<rect x="429.3" y="805" width="9.5" height="5" fill="#e6eeee"/>
<rect x="428.2" y="792.3" width="11.6" height="13" rx="1.5" fill="#e8672c"/>
<path d="M431 794.5 v9 M433.7 794.5 v9 M436.4 794.5 v9" stroke="#c2481a" stroke-width="0.9"/>
<path d="M447.3 810 h9.5 v35 q0 4 -4.75 4.5 q-4.75 -0.5 -4.75 -4.5 z" fill="#a83a3a" stroke="#8a2a2a" stroke-width="0.6"/>
<rect x="447.3" y="805" width="9.5" height="5" fill="#e6eeee"/>
<rect x="446.2" y="792.3" width="11.6" height="13" rx="1.5" fill="#e8672c"/>
<path d="M449 794.5 v9 M451.7 794.5 v9 M454.4 794.5 v9" stroke="#c2481a" stroke-width="0.9"/>
<circle cx="508.4" cy="795.7" r="34.5" fill="#fcecec" stroke="#1a1a1a" stroke-width="1.8"/>
<circle cx="494.2" cy="779.6" r="8.1" fill="#e2d2e8"/>
<circle cx="494.2" cy="779.6" r="5" fill="#d6c2dc"/>
<circle cx="487.9" cy="789.9" r="8.6" fill="#b4b8e2"/>
<circle cx="487.9" cy="789.9" r="5.6" fill="#9a98d6"/>
<circle cx="515.8" cy="790.7" r="8.6" fill="#dcd6ea"/>
<circle cx="515.8" cy="790.7" r="5.5" fill="#d0c6e2"/>
<circle cx="520.4" cy="778.2" r="8.6" fill="#a2d0b0"/>
<circle cx="520.4" cy="778.2" r="5.2" fill="#5aa878"/>
<circle cx="529.2" cy="800.5" r="8.2" fill="#cbb6e4"/>
<circle cx="529.2" cy="800.5" r="5" fill="#b296cc"/>
<circle cx="503.1" cy="809.7" r="8.6" fill="#9ccfd8"/>
<circle cx="503.1" cy="809.7" r="5.6" fill="#6fa8bc"/>
<path d="M503.1 800.2 L503.1 796.7" stroke="#2a78b0" stroke-width="1.1"/>
<path d="M511.3 805 L514.4 803.2" stroke="#2a78b0" stroke-width="1.1"/>
<path d="M511.3 814.5 L514.4 816.2" stroke="#2a78b0" stroke-width="1.1"/>
<path d="M503.1 819.2 L503.1 822.7" stroke="#2a78b0" stroke-width="1.1"/>
<path d="M494.9 814.5 L491.8 816.2" stroke="#2a78b0" stroke-width="1.1"/>
<path d="M494.9 805 L491.8 803.2" stroke="#2a78b0" stroke-width="1.1"/>
<line x1="452.5" y1="826.6" x2="473.5" y2="789" stroke="#222" stroke-width="1.3" stroke-dasharray="4 3"/>
<line x1="457.4" y1="827.4" x2="496" y2="830" stroke="#222" stroke-width="1.3" stroke-dasharray="4 3"/>
<g transform="translate(0 686)">
<polygon points="421,194 434,191 488,177 491.5,180 491.5,194.5 435,218.5 426,219 420.5,215.5" fill="#dfe6e8"/>
<polygon points="434.5,196 491.5,181 491.5,194.5 435,218.5" fill="#9ea3a8"/>
<polygon points="437,195.5 441.2,194.4 439.6,209.5" fill="#bfe0f0"/>
<polygon points="443.6,193.8 447.8,192.7 446.2,207.4" fill="#bfe0f0"/>
<polygon points="450.2,192 454.4,190.9 452.8,205.4" fill="#bfe0f0"/>
<polygon points="456.8,190.2 461,189.2 459.4,203.3" fill="#bfe0f0"/>
<polygon points="463.4,188.5 467.6,187.4 466,201.3" fill="#bfe0f0"/>
<polygon points="470,186.8 474.2,185.7 472.6,199.2" fill="#bfe0f0"/>
<polygon points="476.6,185 480.8,183.9 479.2,197.2" fill="#bfe0f0"/>
<polygon points="483.2,183.2 487.4,182.2 485.8,195.2" fill="#bfe0f0"/>
<polygon points="421,194 434.5,196 491.5,181 488,177 434,190" fill="#eef2f3"/>
<rect x="420.5" y="194" width="14" height="25" rx="2" fill="#e4ecee" stroke="#c8d0d2" stroke-width="0.6"/>
</g>
<line x1="459.6" y1="884.3" x2="502.7" y2="881.5" stroke="#222" stroke-width="1.3" stroke-dasharray="4 3"/>
<line x1="461" y1="888.5" x2="480.5" y2="922" stroke="#222" stroke-width="1.3" stroke-dasharray="4 3"/>
<circle cx="515.1" cy="914.9" r="34.5" fill="#fcecec" stroke="#1a1a1a" stroke-width="1.8"/>
<circle cx="507.7" cy="899.5" r="9.6" fill="#f6aac6"/>
<circle cx="507.7" cy="899.5" r="6" fill="#ee92b4"/>
<circle cx="529.2" cy="903.4" r="9.6" fill="#5a96ac"/>
<circle cx="529.2" cy="903.4" r="6.5" fill="#3a7a92"/>
<circle cx="523.2" cy="916.8" r="9.6" fill="#f6bcd0"/>
<circle cx="523.2" cy="916.8" r="6" fill="#f2a8c2"/>
<circle cx="496.4" cy="917.5" r="9.6" fill="#5a96ac"/>
<circle cx="496.4" cy="917.5" r="6.5" fill="#3a7a92"/>
<circle cx="509.8" cy="930.3" r="9.6" fill="#f6aac6"/>
<circle cx="509.8" cy="930.3" r="6" fill="#ee8cb2"/>
<circle cx="531" cy="924.6" r="9.6" fill="#5a96ac"/>
<circle cx="531" cy="924.6" r="6.5" fill="#3a7a92"/>
<g transform="translate(0 686)">
<polygon points="421,288 426.5,280 491.8,282 491.8,334.5 477,336 441,334 421,329" fill="#2f47a0"/>
<polygon points="421,288 426.5,280 491.8,282 491.8,288 460,295 444,296" fill="#4c62b4"/>
<polygon points="460,295 491.8,288 491.8,334.5 477,336 470,300" fill="#2a3c8c"/>
<polygon points="441,302 456,303 458,306 469,304 477,310 477,334.3 441,334.3" fill="#c6c6c6"/>
<polygon points="456,303 458,306 458,334 456,334" fill="#b0b0b0"/>
<polygon points="440.5,334.3 457.4,329.7 477.3,334.3 458.9,342.4" fill="#6a6a6a"/>
<rect x="425" y="283.5" width="12" height="4" fill="#d8dce8" transform="rotate(-8 431 285)"/>
</g>
<circle cx="516.2" cy="1025.6" r="34.5" fill="#fcecec" stroke="#1a1a1a" stroke-width="1.8"/>
<circle cx="508.7" cy="1010.3" r="9.6" fill="#a46ab4"/>
<circle cx="508.7" cy="1010.3" r="6.2" fill="#8c509e"/>
<circle cx="529.6" cy="1013.5" r="9.6" fill="#a064b0"/>
<circle cx="529.6" cy="1013.5" r="6.5" fill="#86489a"/>
<circle cx="521.8" cy="1028.7" r="9.6" fill="#c492cc"/>
<circle cx="521.8" cy="1028.7" r="6" fill="#b07cbc"/>
<circle cx="497.4" cy="1028.4" r="9.6" fill="#a064b0"/>
<circle cx="497.4" cy="1028.4" r="6.5" fill="#86489a"/>
<circle cx="510.9" cy="1040.8" r="9.6" fill="#a064b0"/>
<circle cx="510.9" cy="1040.8" r="6.5" fill="#86489a"/>
<circle cx="531.7" cy="1035.5" r="9.6" fill="#a064b0"/>
<circle cx="531.7" cy="1035.5" r="6.5" fill="#86489a"/>
<line x1="463" y1="999" x2="482" y2="1031" stroke="#222" stroke-width="1.3" stroke-dasharray="4 3"/>
<line x1="479" y1="992" x2="503" y2="992" stroke="#222" stroke-width="1.3" stroke-dasharray="4 3"/>
<path d="M823.5 775.5 h24 v2.5 h-24 z" fill="#e8eef0" stroke="#7a848a" stroke-width="0.8"/>
<path d="M828 779.5 h16.5 v28 l-8.25 27 l-8.25 -27 z" fill="#c4e2f2" stroke="#4c7890" stroke-width="0.9"/>
<rect x="828.4" y="780.5" width="15.7" height="14" fill="#e8f0f0"/>
<path d="M828.4 782 h15.7" stroke="#7a848a" stroke-width="1"/>
<path d="M862.6 775.5 h24 v2.5 h-24 z" fill="#e8eef0" stroke="#7a848a" stroke-width="0.8"/>
<path d="M867.1 779.5 h16.5 v28 l-8.25 27 l-8.25 -27 z" fill="#c4e2f2" stroke="#4c7890" stroke-width="0.9"/>
<rect x="867.5" y="780.5" width="15.7" height="14" fill="#e8f0f0"/>
<path d="M867.5 782 h15.7" stroke="#7a848a" stroke-width="1"/>
<g transform="translate(0 686)">
<polygon points="869.7,313 893.8,328.9 893.8,358 869.7,359" fill="#cbcecf"/>
<polygon points="869.7,358 893.8,357 893.8,365.4 869.7,374.6" fill="#7c8082"/>
<rect x="861.9" y="312.4" width="7.8" height="47" fill="#e4e8ea"/>
<rect x="861.9" y="359" width="7.8" height="15.6" fill="#95999c"/>
<polygon points="811,357.3 862,360 862,373.5 811,369.5" fill="#a4a8ac"/>
<rect x="810.4" y="317" width="3" height="40" fill="#e4e8ea"/>
<polygon points="813,316.2 861.6,312.2 861.6,361.3 813,359" fill="#3e4244"/>
<polygon points="813,316.2 861.6,312.2 861.6,314.5 813,318.5" fill="#25282a"/>
<polygon points="819.1,322.9 853,321.1 853,346.9 819.1,346.9" fill="#2a2e30"/>
<polygon points="819.1,322.9 853,321.1 853,328.8 819.1,330.7" fill="#4a6890"/>
<circle cx="836" cy="335" r="4.2" fill="none" stroke="#cfd2d4" stroke-width="0.8" stroke-dasharray="1.2 1.2"/>
</g>
<text x="570" y="80.8" font-size="18" textLength="49.7" lengthAdjust="spacingAndGlyphs">PBMC</text>
<text x="565.7" y="111.5" font-size="18" textLength="61.2" lengthAdjust="spacingAndGlyphs">1.5 × 10</text>
<text x="628" y="102" font-size="11">6</text>
<line x1="567.6" y1="124" x2="621.4" y2="124" stroke="#000" stroke-width="4.4"/>
<polygon points="634.6,124 618.1,131.2 621.4,124 618.1,116.8" fill="#000"/>
<text x="588.5" y="156.4" font-size="18" textLength="17.5" lengthAdjust="spacingAndGlyphs">×2</text>
<text x="655" y="112" font-size="26" textLength="152" lengthAdjust="spacingAndGlyphs">5'RACE bulk</text>
<text x="655.7" y="144.9" font-size="26" textLength="103.3" lengthAdjust="spacingAndGlyphs">TCR-seq</text>
<text x="565.7" y="209.3" font-size="18" textLength="64.8" lengthAdjust="spacingAndGlyphs">3.2 × 10</text>
<text x="631.5" y="200" font-size="11">6</text>
<line x1="564" y1="224.9" x2="623.8" y2="224.9" stroke="#000" stroke-width="4.4"/>
<polygon points="637,224.9 620.5,232.1 623.8,224.9 620.5,217.7" fill="#000"/>
<text x="657.4" y="216.5" font-size="26" textLength="121.5" lengthAdjust="spacingAndGlyphs">TIRTL-seq</text>
<text x="657.4" y="244.1" font-size="26" textLength="102.7" lengthAdjust="spacingAndGlyphs">(<tspan fill="#ee8db0">192 CD4</tspan>/</text>
<text x="657.4" y="271.7" font-size="26" textLength="95.1" lengthAdjust="spacingAndGlyphs"><tspan fill="#3b88a0">192 CD8</tspan>)</text>
<text x="572.4" y="311.3" font-size="18" textLength="47.3" lengthAdjust="spacingAndGlyphs">2 × 10</text>
<text x="621" y="302" font-size="11">4</text>
<line x1="569.3" y1="328.1" x2="623.8" y2="328.1" stroke="#000" stroke-width="4.4"/>
<polygon points="637,328.1 620.5,335.3 623.8,328.1 620.5,320.9" fill="#000"/>
<text x="654.5" y="324.5" font-size="26" textLength="128.9" lengthAdjust="spacingAndGlyphs">10× scGEX</text>
<text x="654.5" y="354.5" font-size="26" textLength="118.1" lengthAdjust="spacingAndGlyphs">+TCR-seq</text>
<text x="654.5" y="383.8" font-size="26" textLength="58.8" lengthAdjust="spacingAndGlyphs">(<tspan fill="#9b5bb5">CD3</tspan>)</text>
<text x="570" y="424.3" font-size="18" textLength="49.7" lengthAdjust="spacingAndGlyphs">PBMC</text>
<text x="565.7" y="455" font-size="18" textLength="61.2" lengthAdjust="spacingAndGlyphs">1.5 × 10</text>
<text x="628" y="445.5" font-size="11">6</text>
<line x1="567.6" y1="467.5" x2="621.4" y2="467.5" stroke="#000" stroke-width="4.4"/>
<polygon points="634.6,467.5 618.1,474.7 621.4,467.5 618.1,460.3" fill="#000"/>
<text x="588.5" y="499.9" font-size="18" textLength="17.5" lengthAdjust="spacingAndGlyphs">×2</text>
<text x="655" y="455.5" font-size="26" textLength="152" lengthAdjust="spacingAndGlyphs">5'RACE bulk</text>
<text x="655.7" y="488.4" font-size="26" textLength="103.3" lengthAdjust="spacingAndGlyphs">TCR-seq</text>
<text x="565.7" y="552.8" font-size="18" textLength="64.8" lengthAdjust="spacingAndGlyphs">2.8 × 10</text>
<text x="631.5" y="543.5" font-size="11">6</text>
<line x1="564" y1="568.4" x2="623.8" y2="568.4" stroke="#000" stroke-width="4.4"/>
<polygon points="637,568.4 620.5,575.6 623.8,568.4 620.5,561.2" fill="#000"/>
<text x="657.4" y="560" font-size="26" textLength="121.5" lengthAdjust="spacingAndGlyphs">TIRTL-seq</text>
<text x="657.4" y="587.6" font-size="26" textLength="102.7" lengthAdjust="spacingAndGlyphs">(<tspan fill="#ee8db0">192 CD4</tspan>/</text>
<text x="657.4" y="615.2" font-size="26" textLength="95.1" lengthAdjust="spacingAndGlyphs"><tspan fill="#3b88a0">192 CD8</tspan>)</text>
<text x="572.4" y="654.8" font-size="18" textLength="47.3" lengthAdjust="spacingAndGlyphs">2 × 10</text>
<text x="621" y="645.5" font-size="11">4</text>
<line x1="569.3" y1="671.6" x2="623.8" y2="671.6" stroke="#000" stroke-width="4.4"/>
<polygon points="637,671.6 620.5,678.8 623.8,671.6 620.5,664.4" fill="#000"/>
<text x="654.5" y="668" font-size="26" textLength="128.9" lengthAdjust="spacingAndGlyphs">10× scGEX</text>
<text x="654.5" y="698" font-size="26" textLength="118.1" lengthAdjust="spacingAndGlyphs">+TCR-seq</text>
<text x="654.5" y="727.3" font-size="26" textLength="58.8" lengthAdjust="spacingAndGlyphs">(<tspan fill="#9b5bb5">CD3</tspan>)</text>
<text x="570" y="766.8" font-size="18" textLength="49.7" lengthAdjust="spacingAndGlyphs">PBMC</text>
<text x="565.7" y="797.5" font-size="18" textLength="61.2" lengthAdjust="spacingAndGlyphs">1.5 × 10</text>
<text x="628" y="788" font-size="11">6</text>
<line x1="567.6" y1="810" x2="621.4" y2="810" stroke="#000" stroke-width="4.4"/>
<polygon points="634.6,810 618.1,817.2 621.4,810 618.1,802.8" fill="#000"/>
<text x="588.5" y="842.4" font-size="18" textLength="17.5" lengthAdjust="spacingAndGlyphs">×2</text>
<text x="655" y="798" font-size="26" textLength="152" lengthAdjust="spacingAndGlyphs">5'RACE bulk</text>
<text x="655.7" y="830.9" font-size="26" textLength="103.3" lengthAdjust="spacingAndGlyphs">TCR-seq</text>
<text x="565.7" y="895.3" font-size="18" textLength="64.8" lengthAdjust="spacingAndGlyphs">3.2 × 10</text>
<text x="631.5" y="886" font-size="11">6</text>
<line x1="564" y1="910.9" x2="623.8" y2="910.9" stroke="#000" stroke-width="4.4"/>
<polygon points="637,910.9 620.5,918.1 623.8,910.9 620.5,903.7" fill="#000"/>
<text x="657.4" y="902.5" font-size="26" textLength="121.5" lengthAdjust="spacingAndGlyphs">TIRTL-seq</text>
<text x="657.4" y="930.1" font-size="26" textLength="102.7" lengthAdjust="spacingAndGlyphs">(<tspan fill="#ee8db0">192 CD4</tspan>/</text>
<text x="657.4" y="957.7" font-size="26" textLength="95.1" lengthAdjust="spacingAndGlyphs"><tspan fill="#3b88a0">192 CD8</tspan>)</text>
<text x="572.4" y="997.3" font-size="18" textLength="47.3" lengthAdjust="spacingAndGlyphs">2 × 10</text>
<text x="621" y="988" font-size="11">4</text>
<line x1="569.3" y1="1014.1" x2="623.8" y2="1014.1" stroke="#000" stroke-width="4.4"/>
<polygon points="637,1014.1 620.5,1021.3 623.8,1014.1 620.5,1006.9" fill="#000"/>
<text x="654.5" y="1010.5" font-size="26" textLength="128.9" lengthAdjust="spacingAndGlyphs">10× scGEX</text>
<text x="654.5" y="1040.5" font-size="26" textLength="118.1" lengthAdjust="spacingAndGlyphs">+TCR-seq</text>
<text x="654.5" y="1069.8" font-size="26" textLength="58.8" lengthAdjust="spacingAndGlyphs">(<tspan fill="#9b5bb5">CD3</tspan>)</text>
<text x="995.6" y="29.5" font-size="36" font-weight="bold">b</text>
<g fill="#b3b3b3" fill-opacity="0.5">
<circle cx="1351" cy="275.9" r="7.8"/>
<circle cx="1504.9" cy="175.2" r="7.8"/>
<circle cx="1314.6" cy="309.6" r="7.8"/>
<circle cx="1350.2" cy="305.7" r="7.8"/>
<circle cx="1424.8" cy="288.5" r="7.8"/>
<circle cx="1449.9" cy="229.5" r="7.8"/>
<circle cx="1446.7" cy="287.3" r="7.8"/>
<circle cx="1463.3" cy="223.4" r="7.8"/>
<circle cx="1401" cy="309" r="7.8"/>
<circle cx="1332.8" cy="306.4" r="7.8"/>
<circle cx="1388.5" cy="281.5" r="7.8"/>
<circle cx="1311.4" cy="327.7" r="7.8"/>
<circle cx="1462.6" cy="282.6" r="7.8"/>
<circle cx="1455.3" cy="258.8" r="7.8"/>
<circle cx="1383.5" cy="283.6" r="7.8"/>
<circle cx="1447.3" cy="250.1" r="7.8"/>
<circle cx="1385.9" cy="302.9" r="7.8"/>
<circle cx="1484" cy="205.4" r="7.8"/>
<circle cx="1350.7" cy="275.6" r="7.8"/>
<circle cx="1542.2" cy="198.5" r="7.8"/>
<circle cx="1517.8" cy="186.1" r="7.8"/>
<circle cx="1422.8" cy="252.2" r="7.8"/>
<circle cx="1546.9" cy="171.9" r="7.8"/>
<circle cx="1533.9" cy="191.2" r="7.8"/>
<circle cx="1308.9" cy="297.3" r="7.8"/>
<circle cx="1371.6" cy="313.5" r="7.8"/>
<circle cx="1548.4" cy="178.7" r="7.8"/>
<circle cx="1378.8" cy="297" r="7.8"/>
<circle cx="1336.3" cy="281.9" r="7.8"/>
<circle cx="1409.8" cy="255.5" r="7.8"/>
<circle cx="1557.9" cy="172.5" r="7.8"/>
<circle cx="1364.1" cy="326" r="7.8"/>
<circle cx="1404.6" cy="264.4" r="7.8"/>
<circle cx="1361.2" cy="289.8" r="7.8"/>
<circle cx="1353.8" cy="293.9" r="7.8"/>
<circle cx="1374.6" cy="321.6" r="7.8"/>
<circle cx="1347.2" cy="305.8" r="7.8"/>
<circle cx="1436" cy="302.9" r="7.8"/>
<circle cx="1336.5" cy="286.8" r="7.8"/>
<circle cx="1477.4" cy="229.3" r="7.8"/>
<circle cx="1578" cy="155.6" r="7.8"/>
<circle cx="1546.5" cy="177.6" r="7.8"/>
<circle cx="1539.2" cy="179.5" r="7.8"/>
<circle cx="1424.7" cy="261.9" r="7.8"/>
<circle cx="1513.3" cy="213.2" r="7.8"/>
<circle cx="1494.1" cy="229.1" r="7.8"/>
<circle cx="1299.6" cy="317.4" r="7.8"/>
<circle cx="1475" cy="262.2" r="7.8"/>
<circle cx="1432.8" cy="292.1" r="7.8"/>
<circle cx="1452.4" cy="226.6" r="7.8"/>
<circle cx="1488.6" cy="219.6" r="7.8"/>
<circle cx="1401.3" cy="299.2" r="7.8"/>
<circle cx="1449.9" cy="287.5" r="7.8"/>
<circle cx="1364.2" cy="327.2" r="7.8"/>
<circle cx="1334.3" cy="320.9" r="7.8"/>
<circle cx="1543.5" cy="179.7" r="7.8"/>
<circle cx="1435.2" cy="246.1" r="7.8"/>
<circle cx="1520.4" cy="183.2" r="7.8"/>
<circle cx="1495.9" cy="228.9" r="7.8"/>
<circle cx="1357.8" cy="281.4" r="7.8"/>
<circle cx="1319.1" cy="307.1" r="7.8"/>
<circle cx="1529" cy="191.4" r="7.8"/>
<circle cx="1495.3" cy="256" r="7.8"/>
<circle cx="1403.2" cy="280.3" r="7.8"/>
<circle cx="1554.5" cy="167.6" r="7.8"/>
<circle cx="1560.6" cy="155.1" r="7.8"/>
<circle cx="1384.4" cy="287.9" r="7.8"/>
<circle cx="1509.1" cy="171" r="7.8"/>
<circle cx="1516.6" cy="240.8" r="7.8"/>
<circle cx="1445.8" cy="299.8" r="7.8"/>
<circle cx="1467.8" cy="219.9" r="7.8"/>
<circle cx="1397" cy="302.8" r="7.8"/>
<circle cx="1459.6" cy="252.8" r="7.8"/>
<circle cx="1520.8" cy="231.5" r="7.8"/>
<circle cx="1440.9" cy="287.7" r="7.8"/>
<circle cx="1506.9" cy="234.8" r="7.8"/>
<circle cx="1542" cy="180.6" r="7.8"/>
<circle cx="1516.9" cy="229.8" r="7.8"/>
<circle cx="1397.6" cy="297.2" r="7.8"/>
<circle cx="1493.6" cy="232.5" r="7.8"/>
<circle cx="1397.3" cy="310.2" r="7.8"/>
<circle cx="1309.8" cy="325.5" r="7.8"/>
<circle cx="1294.9" cy="327.3" r="7.8"/>
<circle cx="1457.2" cy="232.8" r="7.8"/>
<circle cx="1332.5" cy="284.1" r="7.8"/>
<circle cx="1314.9" cy="295.5" r="7.8"/>
<circle cx="1482.9" cy="241.2" r="7.8"/>
<circle cx="1436.6" cy="294.3" r="7.8"/>
<circle cx="1497.5" cy="255.3" r="7.8"/>
<circle cx="1510.5" cy="171" r="7.8"/>
</g>
<polygon points="1253.9,427.5 1253.9,328.1 1267,328.1 1267,342.6 1272.8,329.1 1284.4,317.5 1303.7,309.8 1321,307.9 1332.6,305.9 1344.2,300.1 1355.8,290.5 1367.3,286.6 1378.9,278.9 1390.5,271.2 1400.1,265.4 1413.6,263.5 1425.2,255.8 1436.8,248 1444.5,240.3 1456.1,232.6 1467.7,224.9 1481.2,217.2 1488.9,207.5 1500.5,199.8 1514,194 1525.5,190.2 1533.3,184.4 1541,178.6 1548.7,168.9 1556.4,172.8 1552.6,184.4 1544.8,197.9 1533.3,207.5 1521.7,221 1510.1,230.7 1498.5,240.3 1487,255.8 1479.2,263.5 1467.7,275.1 1456.1,286.6 1448.4,298.2 1436.8,305.9 1427.2,317.5 1417.5,331 1407.9,342.6 1398.2,352.2 1386.6,361.9 1375.1,375.4 1365.4,387 1355.8,396.6 1348,406.3 1340.3,415.9 1338.4,423.6 1404,423.6 1404,427.5" fill="#b3b3b3" stroke="#b3b3b3" stroke-width="4" stroke-linejoin="round"/>
<polygon points="1252.2,425.9 1252.2,329.4 1266.3,326.2 1277.9,313.3 1297.2,303.7 1322.9,294 1348.6,284.4 1374.4,271.5 1400.1,258.6 1425.8,245.8 1451.5,232.9 1470.8,223.3 1490.1,210.4 1509.4,197.6 1528.7,187.9 1548,175 1560.9,165.4 1572.4,152.5 1567.3,168.6 1554.4,181.5 1541.6,200.8 1528.7,213.6 1515.9,226.5 1503,239.4 1490.1,252.2 1477.3,265.1 1464.4,277.9 1451.5,290.8 1438.7,303.7 1425.8,316.5 1413,329.4 1400.1,342.3 1387.2,355.1 1374.4,368 1361.5,380.8 1351.9,400.1 1345.4,419.4 1342.2,425.9" fill="#b3b3b3" stroke="#b3b3b3" stroke-width="4" stroke-linejoin="round"/>
<g fill="#b3b3b3" fill-opacity="0.55">
<circle cx="1324.9" cy="284.7" r="7.8"/>
<circle cx="1336.5" cy="278.9" r="7.8"/>
<circle cx="1351.9" cy="273.1" r="7.8"/>
<circle cx="1363.5" cy="253.8" r="7.8"/>
<circle cx="1371.2" cy="271.2" r="7.8"/>
<circle cx="1384.7" cy="255.8" r="7.8"/>
<circle cx="1394.4" cy="244.2" r="7.8"/>
<circle cx="1392.4" cy="265.4" r="7.8"/>
<circle cx="1415.6" cy="257.7" r="7.8"/>
<circle cx="1423.3" cy="246.1" r="7.8"/>
<circle cx="1432.9" cy="244.2" r="7.8"/>
<circle cx="1450.3" cy="230.7" r="7.8"/>
<circle cx="1463.8" cy="205.6" r="7.8"/>
<circle cx="1467.7" cy="209.5" r="7.8"/>
<circle cx="1410.8" cy="209.5" r="7.8"/>
<circle cx="1494.7" cy="178.6" r="7.8"/>
<circle cx="1502.4" cy="199.8" r="7.8"/>
<circle cx="1517.8" cy="196" r="7.8"/>
<circle cx="1529.4" cy="203.7" r="7.8"/>
<circle cx="1521.7" cy="226.8" r="7.8"/>
<circle cx="1506.3" cy="238.4" r="7.8"/>
<circle cx="1498.5" cy="255.8" r="7.8"/>
<circle cx="1481.2" cy="267.3" r="7.8"/>
<circle cx="1471.5" cy="280.8" r="7.8"/>
<circle cx="1568" cy="145.8" r="7.8"/>
<circle cx="1583.4" cy="157.4" r="7.8"/>
<circle cx="1579.6" cy="165.1" r="7.8"/>
<circle cx="1554.5" cy="159.3" r="7.8"/>
<circle cx="1544.8" cy="163.2" r="7.8"/>
<circle cx="1550.6" cy="174.7" r="7.8"/>
<circle cx="1548.7" cy="188.2" r="7.8"/>
<circle cx="1544.8" cy="199.8" r="7.8"/>
<circle cx="1330.7" cy="298.2" r="7.8"/>
<circle cx="1340.3" cy="294.4" r="7.8"/>
<circle cx="1278.6" cy="325.2" r="7.8"/>
<circle cx="1421.4" cy="396.6" r="7.8"/>
<circle cx="1405.9" cy="421.7" r="7.8"/>
<circle cx="1346.1" cy="286.6" r="7.8"/>
<circle cx="1375.1" cy="275.1" r="7.8"/>
</g>
<g fill="#d8400f" fill-opacity="0.62">
<circle cx="1259.3" cy="78.6" r="7.8"/>
<circle cx="1261.5" cy="91" r="7.8"/>
<circle cx="1257" cy="96" r="7.8"/>
<circle cx="1262" cy="101" r="7.8"/>
</g>
<g fill="#d8400f" fill-opacity="0.55">
<circle cx="1259.3" cy="100" r="7.8"/>
<circle cx="1259.3" cy="107" r="7.8"/>
<circle cx="1259.3" cy="114" r="7.8"/>
<circle cx="1259.3" cy="121" r="7.8"/>
<circle cx="1259.3" cy="128" r="7.8"/>
<circle cx="1259.3" cy="135" r="7.8"/>
<circle cx="1259.3" cy="142" r="7.8"/>
<circle cx="1259.3" cy="149" r="7.8"/>
<circle cx="1259.3" cy="156" r="7.8"/>
<circle cx="1256.5" cy="127" r="7.8"/>
<circle cx="1262" cy="140" r="7.8"/>
</g>
<g fill="#d8400f" fill-opacity="0.8">
<circle cx="1259.3" cy="160" r="7.8"/>
<circle cx="1259.3" cy="163" r="7.8"/>
<circle cx="1259.3" cy="166" r="7.8"/>
<circle cx="1259.3" cy="169" r="7.8"/>
<circle cx="1259.3" cy="172" r="7.8"/>
<circle cx="1259.3" cy="175" r="7.8"/>
<circle cx="1259.3" cy="178" r="7.8"/>
<circle cx="1259.3" cy="181" r="7.8"/>
<circle cx="1259.3" cy="184" r="7.8"/>
<circle cx="1259.3" cy="187" r="7.8"/>
<circle cx="1259.3" cy="190" r="7.8"/>
<circle cx="1259.3" cy="193" r="7.8"/>
<circle cx="1259.3" cy="196" r="7.8"/>
<circle cx="1259.3" cy="199" r="7.8"/>
<circle cx="1259.3" cy="202" r="7.8"/>
<circle cx="1259.3" cy="205" r="7.8"/>
<circle cx="1259.3" cy="208" r="7.8"/>
<circle cx="1259.3" cy="211" r="7.8"/>
<circle cx="1259.3" cy="214" r="7.8"/>
<circle cx="1259.3" cy="217" r="7.8"/>
<circle cx="1259.3" cy="220" r="7.8"/>
<circle cx="1259.3" cy="223" r="7.8"/>
<circle cx="1259.3" cy="226" r="7.8"/>
<circle cx="1259.3" cy="229" r="7.8"/>
<circle cx="1259.3" cy="232" r="7.8"/>
<circle cx="1259.3" cy="235" r="7.8"/>
<circle cx="1259.3" cy="238" r="7.8"/>
<circle cx="1259.3" cy="241" r="7.8"/>
<circle cx="1259.3" cy="244" r="7.8"/>
<circle cx="1259.3" cy="247" r="7.8"/>
<circle cx="1259.3" cy="250" r="7.8"/>
<circle cx="1259.3" cy="253" r="7.8"/>
<circle cx="1259.3" cy="256" r="7.8"/>
<circle cx="1259.3" cy="259" r="7.8"/>
<circle cx="1259.3" cy="262" r="7.8"/>
<circle cx="1259.3" cy="265" r="7.8"/>
<circle cx="1259.3" cy="268" r="7.8"/>
<circle cx="1259.3" cy="271" r="7.8"/>
<circle cx="1259.3" cy="274" r="7.8"/>
<circle cx="1259.3" cy="277" r="7.8"/>
<circle cx="1259.3" cy="280" r="7.8"/>
<circle cx="1259.3" cy="283" r="7.8"/>
<circle cx="1259.3" cy="286" r="7.8"/>
<circle cx="1259.3" cy="289" r="7.8"/>
<circle cx="1259.3" cy="292" r="7.8"/>
<circle cx="1259.3" cy="295" r="7.8"/>
<circle cx="1259.3" cy="298" r="7.8"/>
<circle cx="1259.3" cy="301" r="7.8"/>
<circle cx="1259.3" cy="304" r="7.8"/>
<circle cx="1259.3" cy="307" r="7.8"/>
<circle cx="1259.3" cy="310" r="7.8"/>
<circle cx="1259.3" cy="313" r="7.8"/>
<circle cx="1259.3" cy="316" r="7.8"/>
<circle cx="1259.3" cy="319" r="7.8"/>
<circle cx="1259.3" cy="322" r="7.8"/>
<circle cx="1259.3" cy="325" r="7.8"/>
<circle cx="1259.3" cy="328" r="7.8"/>
</g>
<g fill="#d8400f" fill-opacity="0.62">
<circle cx="1290.2" cy="195" r="7.8"/>
<circle cx="1314.3" cy="194" r="7.8"/>
<circle cx="1297.9" cy="211.4" r="7.8"/>
<circle cx="1306.6" cy="208.5" r="7.8"/>
<circle cx="1307.5" cy="223" r="7.8"/>
<circle cx="1297.9" cy="244.2" r="7.8"/>
<circle cx="1292.1" cy="259.6" r="7.8"/>
<circle cx="1309.5" cy="255.8" r="7.8"/>
<circle cx="1313.3" cy="251.9" r="7.8"/>
<circle cx="1327.8" cy="254.8" r="7.8"/>
<circle cx="1324.9" cy="240.3" r="7.8"/>
<circle cx="1330.7" cy="236.5" r="7.8"/>
<circle cx="1339.4" cy="240.3" r="7.8"/>
<circle cx="1373.1" cy="231.6" r="7.8"/>
<circle cx="1288.2" cy="275.1" r="7.8"/>
<circle cx="1292.1" cy="286.6" r="7.8"/>
<circle cx="1303.7" cy="278.9" r="7.8"/>
<circle cx="1310.4" cy="284.7" r="7.8"/>
<circle cx="1309.5" cy="266.4" r="7.8"/>
<circle cx="1314.3" cy="294.4" r="7.8"/>
<circle cx="1313.3" cy="298.2" r="7.8"/>
<circle cx="1279.6" cy="303" r="7.8"/>
<circle cx="1297.9" cy="307.9" r="7.8"/>
<circle cx="1267" cy="175.7" r="7.8"/>
<circle cx="1267" cy="208.5" r="7.8"/>
<circle cx="1267" cy="240.3" r="7.8"/>
<circle cx="1267" cy="256.7" r="7.8"/>
<circle cx="1278.4" cy="128.1" r="7.8"/>
<circle cx="1271" cy="112" r="7.8"/>
</g>
<g fill="#35995a" fill-opacity="0.45">
<circle cx="1359" cy="402.7" r="7.8"/>
<circle cx="1428.2" cy="336.4" r="7.8"/>
<circle cx="1398.7" cy="358.2" r="7.8"/>
<circle cx="1369.3" cy="413.6" r="7.8"/>
<circle cx="1443.3" cy="311.3" r="7.8"/>
<circle cx="1392.3" cy="363.3" r="7.8"/>
<circle cx="1377.5" cy="373.6" r="7.8"/>
<circle cx="1399.8" cy="373.8" r="7.8"/>
<circle cx="1401.5" cy="351.9" r="7.8"/>
<circle cx="1407.7" cy="359.2" r="7.8"/>
<circle cx="1449.4" cy="308.5" r="7.8"/>
<circle cx="1405.9" cy="355.5" r="7.8"/>
<circle cx="1350.4" cy="405.2" r="7.8"/>
<circle cx="1399.7" cy="362.1" r="7.8"/>
<circle cx="1411.5" cy="359.1" r="7.8"/>
<circle cx="1372.3" cy="402.1" r="7.8"/>
<circle cx="1427.3" cy="335.8" r="7.8"/>
<circle cx="1356.1" cy="408.6" r="7.8"/>
<circle cx="1360.3" cy="388.3" r="7.8"/>
<circle cx="1361.8" cy="386.7" r="7.8"/>
<circle cx="1368.4" cy="417" r="7.8"/>
<circle cx="1368.7" cy="380.4" r="7.8"/>
<circle cx="1387.6" cy="372.3" r="7.8"/>
<circle cx="1379.5" cy="378.5" r="7.8"/>
<circle cx="1377.9" cy="403.9" r="7.8"/>
<circle cx="1378.3" cy="413" r="7.8"/>
<circle cx="1366.8" cy="383.3" r="7.8"/>
<circle cx="1380" cy="405.4" r="7.8"/>
<circle cx="1370" cy="389" r="7.8"/>
<circle cx="1352.2" cy="404.8" r="7.8"/>
<circle cx="1381.7" cy="376.7" r="7.8"/>
<circle cx="1374.7" cy="395.9" r="7.8"/>
<circle cx="1356.8" cy="406.9" r="7.8"/>
<circle cx="1370.7" cy="391.1" r="7.8"/>
<circle cx="1355.5" cy="409.8" r="7.8"/>
<circle cx="1385.8" cy="416.4" r="7.8"/>
<circle cx="1409.8" cy="358.2" r="7.8"/>
<circle cx="1379" cy="402.7" r="7.8"/>
<circle cx="1381" cy="368.8" r="7.8"/>
<circle cx="1376.2" cy="396.5" r="7.8"/>
<circle cx="1442.5" cy="323.7" r="7.8"/>
<circle cx="1444.3" cy="311.4" r="7.8"/>
<circle cx="1378.9" cy="408.9" r="7.8"/>
<circle cx="1404.6" cy="368.4" r="7.8"/>
<circle cx="1415.3" cy="354.5" r="7.8"/>
<circle cx="1388.3" cy="376.4" r="7.8"/>
<circle cx="1402.3" cy="363.9" r="7.8"/>
<circle cx="1389.5" cy="370.6" r="7.8"/>
<circle cx="1374.5" cy="380.2" r="7.8"/>
<circle cx="1361.7" cy="393.6" r="7.8"/>
<circle cx="1385.1" cy="386.3" r="7.8"/>
<circle cx="1362.3" cy="389.5" r="7.8"/>
<circle cx="1348.7" cy="417.7" r="7.8"/>
<circle cx="1373.6" cy="410" r="7.8"/>
<circle cx="1358.1" cy="409.6" r="7.8"/>
<circle cx="1410.2" cy="353.5" r="7.8"/>
<circle cx="1371.5" cy="391.7" r="7.8"/>
<circle cx="1436.1" cy="331" r="7.8"/>
<circle cx="1371.8" cy="384.3" r="7.8"/>
<circle cx="1356.1" cy="398.2" r="7.8"/>
<circle cx="1357.2" cy="391.5" r="7.8"/>
<circle cx="1392.8" cy="358.2" r="7.8"/>
<circle cx="1388.8" cy="404.2" r="7.8"/>
<circle cx="1413.4" cy="353.4" r="7.8"/>
<circle cx="1352.4" cy="400.8" r="7.8"/>
<circle cx="1401.7" cy="349.1" r="7.8"/>
<circle cx="1373.9" cy="376.1" r="7.8"/>
<circle cx="1363.1" cy="396.2" r="7.8"/>
<circle cx="1368.6" cy="415.7" r="7.8"/>
<circle cx="1347.5" cy="408.5" r="7.8"/>
<circle cx="1412.6" cy="343.3" r="7.8"/>
<circle cx="1391.7" cy="393.1" r="7.8"/>
<circle cx="1430.6" cy="329.1" r="7.8"/>
<circle cx="1383.9" cy="391.9" r="7.8"/>
<circle cx="1370.6" cy="388.2" r="7.8"/>
</g>
<g fill="#35995a" fill-opacity="0.6">
<circle cx="1510.1" cy="255.8" r="7.8"/>
<circle cx="1514" cy="268.3" r="7.8"/>
<circle cx="1487.9" cy="275.1" r="7.8"/>
<circle cx="1492.7" cy="287.6" r="7.8"/>
<circle cx="1463.8" cy="296.3" r="7.8"/>
<circle cx="1475.4" cy="297.2" r="7.8"/>
<circle cx="1485" cy="304" r="7.8"/>
<circle cx="1492.7" cy="302.1" r="7.8"/>
<circle cx="1467.7" cy="332.9" r="7.8"/>
<circle cx="1448.4" cy="342.6" r="7.8"/>
<circle cx="1440.7" cy="340.7" r="7.8"/>
<circle cx="1432.9" cy="342.6" r="7.8"/>
<circle cx="1436.8" cy="375.4" r="7.8"/>
<circle cx="1425.2" cy="367.7" r="7.8"/>
<circle cx="1425.2" cy="359.9" r="7.8"/>
<circle cx="1409.8" cy="387" r="7.8"/>
<circle cx="1442.6" cy="398.5" r="7.8"/>
<circle cx="1438.7" cy="422.7" r="7.8"/>
<circle cx="1425.2" cy="421.7" r="7.8"/>
<circle cx="1415.6" cy="421.7" r="7.8"/>
<circle cx="1394.4" cy="421.7" r="7.8"/>
<circle cx="1382.8" cy="421.7" r="7.8"/>
<circle cx="1365.4" cy="421.7" r="7.8"/>
<circle cx="1348" cy="421.7" r="7.8"/>
<circle cx="1342.3" cy="417.8" r="7.8"/>
<circle cx="1421.4" cy="356.1" r="7.8"/>
<circle cx="1390.5" cy="421.7" r="7.8"/>
<circle cx="1375.1" cy="421.7" r="7.8"/>
<circle cx="1355.8" cy="421.7" r="7.8"/>
</g>
<g fill="#b3b3b3" fill-opacity="0.55">
<circle cx="1421.4" cy="394.7" r="7.8"/>
<circle cx="1405.9" cy="421.7" r="7.8"/>
</g>
<line x1="1244.5" y1="438.3" x2="1598" y2="95.5" stroke="#000" stroke-width="3" stroke-dasharray="13.5 8.5"/>
<line x1="1243.5" y1="62.5" x2="1243.5" y2="440" stroke="#333" stroke-width="1.5"/>
<line x1="1242.8" y1="439.3" x2="1603" y2="439.3" stroke="#333" stroke-width="1.5"/>
<line x1="1231.1" y1="117" x2="1243.5" y2="117" stroke="#333" stroke-width="1.5"/>
<text x="1219.5" y="110.9" font-size="15" text-anchor="end" textLength="14.5" lengthAdjust="spacingAndGlyphs">−2</text>
<text x="1203.5" y="123.8" font-size="23" text-anchor="end" textLength="23" lengthAdjust="spacingAndGlyphs">10</text>
<line x1="1231.1" y1="192.7" x2="1243.5" y2="192.7" stroke="#333" stroke-width="1.5"/>
<text x="1219.5" y="186.6" font-size="15" text-anchor="end" textLength="14.5" lengthAdjust="spacingAndGlyphs">−3</text>
<text x="1203.5" y="199.5" font-size="23" text-anchor="end" textLength="23" lengthAdjust="spacingAndGlyphs">10</text>
<line x1="1231.1" y1="269" x2="1243.5" y2="269" stroke="#333" stroke-width="1.5"/>
<text x="1219.5" y="262.9" font-size="15" text-anchor="end" textLength="14.5" lengthAdjust="spacingAndGlyphs">−4</text>
<text x="1203.5" y="275.8" font-size="23" text-anchor="end" textLength="23" lengthAdjust="spacingAndGlyphs">10</text>
<line x1="1231.1" y1="345.5" x2="1243.5" y2="345.5" stroke="#333" stroke-width="1.5"/>
<text x="1219.5" y="339.4" font-size="15" text-anchor="end" textLength="14.5" lengthAdjust="spacingAndGlyphs">−5</text>
<text x="1203.5" y="352.3" font-size="23" text-anchor="end" textLength="23" lengthAdjust="spacingAndGlyphs">10</text>
<line x1="1231.1" y1="422" x2="1243.5" y2="422" stroke="#333" stroke-width="1.5"/>
<text x="1219.5" y="428.8" font-size="23" text-anchor="end" textLength="12.5" lengthAdjust="spacingAndGlyphs">0</text>
<line x1="1259.5" y1="439.3" x2="1259.5" y2="451.3" stroke="#333" stroke-width="1.5"/>
<text x="1259.5" y="484.8" font-size="23" text-anchor="middle" textLength="12.5" lengthAdjust="spacingAndGlyphs">0</text>
<line x1="1338.7" y1="439.3" x2="1338.7" y2="451.3" stroke="#333" stroke-width="1.5"/>
<text x="1318.4" y="484.8" font-size="23" textLength="23" lengthAdjust="spacingAndGlyphs">10</text>
<text x="1342.9" y="473" font-size="15" textLength="14.5" lengthAdjust="spacingAndGlyphs">−5</text>
<line x1="1418.2" y1="439.3" x2="1418.2" y2="451.3" stroke="#333" stroke-width="1.5"/>
<text x="1397.9" y="484.8" font-size="23" textLength="23" lengthAdjust="spacingAndGlyphs">10</text>
<text x="1422.4" y="473" font-size="15" textLength="14.5" lengthAdjust="spacingAndGlyphs">−4</text>
<line x1="1497.4" y1="439.3" x2="1497.4" y2="451.3" stroke="#333" stroke-width="1.5"/>
<text x="1477.1" y="484.8" font-size="23" textLength="23" lengthAdjust="spacingAndGlyphs">10</text>
<text x="1501.6" y="473" font-size="15" textLength="14.5" lengthAdjust="spacingAndGlyphs">−3</text>
<line x1="1576.5" y1="439.3" x2="1576.5" y2="451.3" stroke="#333" stroke-width="1.5"/>
<text x="1556.2" y="484.8" font-size="23" textLength="23" lengthAdjust="spacingAndGlyphs">10</text>
<text x="1580.7" y="473" font-size="15" textLength="14.5" lengthAdjust="spacingAndGlyphs">−2</text>
<text x="1300.7" y="86" font-size="21" textLength="43.3" lengthAdjust="spacingAndGlyphs" fill="#d8400f">980</text>
<text x="1549.5" y="412.8" font-size="21" textLength="30.2" lengthAdjust="spacingAndGlyphs" fill="#35995a">113</text>
<g fill="#b3b3b3" fill-opacity="0.5">
<circle cx="1785" cy="289.1" r="7.8"/>
<circle cx="1839.8" cy="285.2" r="7.8"/>
<circle cx="1866.1" cy="305" r="7.8"/>
<circle cx="1827.9" cy="310.7" r="7.8"/>
<circle cx="1909.3" cy="280.9" r="7.8"/>
<circle cx="1801.2" cy="278.3" r="7.8"/>
<circle cx="1919.9" cy="274.5" r="7.8"/>
<circle cx="1816.1" cy="309.4" r="7.8"/>
<circle cx="1984" cy="159" r="7.8"/>
<circle cx="1889.5" cy="285.5" r="7.8"/>
<circle cx="1904.7" cy="236.6" r="7.8"/>
<circle cx="1890.7" cy="232.8" r="7.8"/>
<circle cx="1951.9" cy="261.3" r="7.8"/>
<circle cx="1852.3" cy="260.8" r="7.8"/>
<circle cx="1930.9" cy="239.6" r="7.8"/>
<circle cx="1834.1" cy="338.7" r="7.8"/>
<circle cx="1999.3" cy="196.1" r="7.8"/>
<circle cx="1824.6" cy="268.2" r="7.8"/>
<circle cx="1968.1" cy="218.3" r="7.8"/>
<circle cx="1912.1" cy="266.5" r="7.8"/>
<circle cx="1897.2" cy="318.6" r="7.8"/>
<circle cx="1971.5" cy="206.7" r="7.8"/>
<circle cx="1824.3" cy="338.1" r="7.8"/>
<circle cx="1811.2" cy="286.9" r="7.8"/>
<circle cx="1880.2" cy="255.6" r="7.8"/>
<circle cx="1861.5" cy="306.6" r="7.8"/>
<circle cx="1958" cy="171.1" r="7.8"/>
<circle cx="1942" cy="187.1" r="7.8"/>
<circle cx="1936.1" cy="279.3" r="7.8"/>
<circle cx="1854" cy="338" r="7.8"/>
<circle cx="1938.8" cy="258.3" r="7.8"/>
<circle cx="1782.1" cy="324" r="7.8"/>
<circle cx="2015.6" cy="154.5" r="7.8"/>
<circle cx="1977.1" cy="204.8" r="7.8"/>
<circle cx="1880.9" cy="306.4" r="7.8"/>
<circle cx="1893.6" cy="252.1" r="7.8"/>
<circle cx="1838" cy="346.2" r="7.8"/>
<circle cx="1824.5" cy="284.6" r="7.8"/>
<circle cx="1866.4" cy="234.5" r="7.8"/>
<circle cx="1851.8" cy="338.6" r="7.8"/>
<circle cx="1901.6" cy="317.3" r="7.8"/>
<circle cx="1879" cy="331.2" r="7.8"/>
<circle cx="1916.5" cy="308.6" r="7.8"/>
<circle cx="1873.3" cy="284.4" r="7.8"/>
<circle cx="1863.6" cy="250.3" r="7.8"/>
<circle cx="1995.6" cy="192.3" r="7.8"/>
<circle cx="1780.4" cy="323.9" r="7.8"/>
<circle cx="1944" cy="285.6" r="7.8"/>
<circle cx="1952" cy="179" r="7.8"/>
<circle cx="1859.3" cy="286.7" r="7.8"/>
<circle cx="1862.7" cy="267.9" r="7.8"/>
<circle cx="1887.4" cy="300.1" r="7.8"/>
<circle cx="1852.5" cy="245.7" r="7.8"/>
<circle cx="1986.9" cy="205.9" r="7.8"/>
<circle cx="1792.3" cy="321.9" r="7.8"/>
<circle cx="1832" cy="331.9" r="7.8"/>
<circle cx="1900.8" cy="284.9" r="7.8"/>
<circle cx="1891.1" cy="274.8" r="7.8"/>
<circle cx="1803.9" cy="309.3" r="7.8"/>
<circle cx="1888.3" cy="268.4" r="7.8"/>
<circle cx="1853.7" cy="313.6" r="7.8"/>
<circle cx="2006.3" cy="176.5" r="7.8"/>
<circle cx="1810.7" cy="308.2" r="7.8"/>
<circle cx="1787.1" cy="320.3" r="7.8"/>
<circle cx="1971.9" cy="233.1" r="7.8"/>
<circle cx="1776.6" cy="314.6" r="7.8"/>
<circle cx="1984.7" cy="191.3" r="7.8"/>
<circle cx="1905.7" cy="299.6" r="7.8"/>
<circle cx="1860.5" cy="253.1" r="7.8"/>
<circle cx="1791.8" cy="323.2" r="7.8"/>
<circle cx="1777.7" cy="298.2" r="7.8"/>
<circle cx="1819.6" cy="331.3" r="7.8"/>
<circle cx="1886.8" cy="221.9" r="7.8"/>
<circle cx="1898.2" cy="306" r="7.8"/>
<circle cx="1851" cy="314.9" r="7.8"/>
<circle cx="1906.6" cy="287.8" r="7.8"/>
<circle cx="2023.8" cy="165.3" r="7.8"/>
<circle cx="1823" cy="274.5" r="7.8"/>
<circle cx="1939.5" cy="205.8" r="7.8"/>
<circle cx="1816.6" cy="344.8" r="7.8"/>
<circle cx="1819.3" cy="311.8" r="7.8"/>
<circle cx="1882.3" cy="290.9" r="7.8"/>
<circle cx="1845.4" cy="254.1" r="7.8"/>
<circle cx="1952" cy="200.9" r="7.8"/>
<circle cx="1897.6" cy="261.3" r="7.8"/>
<circle cx="1954.9" cy="236.4" r="7.8"/>
<circle cx="1855.8" cy="322.6" r="7.8"/>
<circle cx="1887.6" cy="298.8" r="7.8"/>
<circle cx="1820.2" cy="337.1" r="7.8"/>
<circle cx="1838.1" cy="337.4" r="7.8"/>
</g>
<polygon points="1741.6,427.5 1741.6,313.6 1755.1,313.6 1764.7,304 1778.2,302.1 1791.7,296.3 1807.2,286.6 1818.8,275.1 1834.2,271.2 1845.8,261.6 1861.2,248 1876.6,236.5 1890.1,228.8 1903.6,221 1915.2,209.5 1930.7,199.8 1940.3,190.2 1953.8,182.4 1967.3,170.9 1980.8,163.2 1992.4,151.6 2004,143.9 2015.5,138.1 2007.8,155.4 2000.1,167 1988.5,178.6 1980.8,194 1971.2,203.7 1961.5,215.2 1951.9,226.8 1942.2,240.3 1934.5,255.8 1928.7,267.3 1922.9,278.9 1915.2,290.5 1913.3,304 1911.4,313.6 1903.6,325.2 1895.9,336.8 1884.4,344.5 1872.8,352.2 1865.1,363.8 1853.5,375.4 1845.8,387 1838,394.7 1830.3,402.4 1827.4,414 1827.4,427.5" fill="#b3b3b3" stroke="#b3b3b3" stroke-width="4" stroke-linejoin="round"/>
<polygon points="1740.9,425.9 1740.9,332.6 1755.1,329.4 1766.7,323 1779.5,310.1 1798.8,297.2 1824.5,284.4 1843.8,271.5 1863.1,258.6 1882.4,245.8 1901.7,226.5 1921,207.2 1940.3,194.3 1959.6,175 1972.4,162.2 1985.3,149.3 1998.2,142.9 2011,136.5 2017.5,142.9 2017.5,149.3 2011,162.2 1998.2,175 1991.7,194.3 1985.3,213.6 1978.9,232.9 1966,252.2 1953.2,268.3 1933.9,284.4 1925.5,297.2 1917.8,310.1 1898.5,335.8 1879.2,361.5 1856.7,387.3 1837.4,413 1827.7,425.9" fill="#b3b3b3" stroke="#b3b3b3" stroke-width="4" stroke-linejoin="round"/>
<g fill="#b3b3b3" fill-opacity="0.55">
<circle cx="1996.3" cy="147.7" r="7.8"/>
<circle cx="2015.5" cy="143.9" r="7.8"/>
<circle cx="2029.1" cy="147.7" r="7.8"/>
<circle cx="2019.4" cy="151.6" r="7.8"/>
<circle cx="1967.3" cy="167" r="7.8"/>
<circle cx="1959.6" cy="171.8" r="7.8"/>
<circle cx="1980.8" cy="159.3" r="7.8"/>
<circle cx="2009.8" cy="180.5" r="7.8"/>
<circle cx="1992.4" cy="196" r="7.8"/>
<circle cx="1980.8" cy="234.5" r="7.8"/>
<circle cx="1978.9" cy="221" r="7.8"/>
<circle cx="1965.4" cy="230.7" r="7.8"/>
<circle cx="1953.8" cy="240.3" r="7.8"/>
<circle cx="1951.9" cy="263.5" r="7.8"/>
<circle cx="1951.9" cy="275.1" r="7.8"/>
<circle cx="1928.7" cy="296.3" r="7.8"/>
<circle cx="1922.9" cy="304" r="7.8"/>
<circle cx="1919.1" cy="203.7" r="7.8"/>
<circle cx="1901.7" cy="219.1" r="7.8"/>
<circle cx="1886.3" cy="230.7" r="7.8"/>
<circle cx="1863.1" cy="246.1" r="7.8"/>
<circle cx="1855.4" cy="251.9" r="7.8"/>
<circle cx="1845.8" cy="261.6" r="7.8"/>
<circle cx="1830.3" cy="267.3" r="7.8"/>
<circle cx="1820.7" cy="275.1" r="7.8"/>
<circle cx="1807.2" cy="282.8" r="7.8"/>
<circle cx="1768.6" cy="305.9" r="7.8"/>
<circle cx="1938.4" cy="267.3" r="7.8"/>
<circle cx="1921" cy="309.8" r="7.8"/>
<circle cx="1942.2" cy="255.8" r="7.8"/>
</g>
<g fill="#b3b3b3" fill-opacity="0.55">
<circle cx="2075.4" cy="78.6" r="7.8"/>
<circle cx="2054.3" cy="92.2" r="7.8"/>
<circle cx="2056.8" cy="103.3" r="7.8"/>
<circle cx="2051.3" cy="111.9" r="7.8"/>
<circle cx="2039.5" cy="117" r="7.8"/>
<circle cx="2034.5" cy="126.8" r="7.8"/>
</g>
<g fill="#d8400f" fill-opacity="0.62">
<circle cx="1747.4" cy="174.7" r="7.8"/>
<circle cx="1747.4" cy="190.2" r="7.8"/>
</g>
<g fill="#d8400f" fill-opacity="0.8">
<circle cx="1747.3" cy="208" r="7.8"/>
<circle cx="1747.3" cy="212" r="7.8"/>
<circle cx="1747.3" cy="216" r="7.8"/>
<circle cx="1747.3" cy="220" r="7.8"/>
<circle cx="1747.3" cy="224" r="7.8"/>
<circle cx="1747.3" cy="228" r="7.8"/>
<circle cx="1747.3" cy="232" r="7.8"/>
<circle cx="1747.3" cy="236" r="7.8"/>
<circle cx="1747.3" cy="240" r="7.8"/>
<circle cx="1747.3" cy="244" r="7.8"/>
<circle cx="1747.3" cy="248" r="7.8"/>
<circle cx="1747.3" cy="252" r="7.8"/>
<circle cx="1747.3" cy="256" r="7.8"/>
<circle cx="1747.3" cy="260" r="7.8"/>
<circle cx="1747.3" cy="264" r="7.8"/>
<circle cx="1747.3" cy="268" r="7.8"/>
<circle cx="1747.3" cy="272" r="7.8"/>
<circle cx="1747.3" cy="276" r="7.8"/>
<circle cx="1747.3" cy="280" r="7.8"/>
<circle cx="1747.3" cy="284" r="7.8"/>
<circle cx="1747.3" cy="288" r="7.8"/>
<circle cx="1747.3" cy="292" r="7.8"/>
<circle cx="1747.3" cy="296" r="7.8"/>
<circle cx="1747.3" cy="300" r="7.8"/>
<circle cx="1747.3" cy="304" r="7.8"/>
<circle cx="1747.3" cy="308" r="7.8"/>
<circle cx="1747.3" cy="312" r="7.8"/>
<circle cx="1747.3" cy="316" r="7.8"/>
<circle cx="1747.3" cy="320" r="7.8"/>
<circle cx="1747.3" cy="324" r="7.8"/>
</g>
<g fill="#d8400f" fill-opacity="0.62">
<circle cx="1797.5" cy="196" r="7.8"/>
<circle cx="1826.5" cy="205.6" r="7.8"/>
<circle cx="1835.2" cy="208.5" r="7.8"/>
<circle cx="1853.5" cy="196" r="7.8"/>
<circle cx="1868.9" cy="191.1" r="7.8"/>
<circle cx="1813" cy="236.5" r="7.8"/>
<circle cx="1811" cy="234.5" r="7.8"/>
<circle cx="1828.4" cy="228.8" r="7.8"/>
<circle cx="1852.5" cy="228.8" r="7.8"/>
<circle cx="1840" cy="249" r="7.8"/>
<circle cx="1762.8" cy="273.1" r="7.8"/>
<circle cx="1781.1" cy="273.1" r="7.8"/>
<circle cx="1800.4" cy="278.9" r="7.8"/>
<circle cx="1776.3" cy="286.6" r="7.8"/>
<circle cx="1785" cy="288.6" r="7.8"/>
<circle cx="1758.9" cy="292.4" r="7.8"/>
<circle cx="1797.5" cy="299.2" r="7.8"/>
<circle cx="1770.5" cy="311.7" r="7.8"/>
<circle cx="1764.7" cy="320.4" r="7.8"/>
<circle cx="1757" cy="319.4" r="7.8"/>
<circle cx="1751.2" cy="332.9" r="7.8"/>
<circle cx="1764.7" cy="334.9" r="7.8"/>
<circle cx="1747.4" cy="344.5" r="7.8"/>
<circle cx="1753.2" cy="336.8" r="7.8"/>
<circle cx="1853.5" cy="196" r="7.8"/>
</g>
<g fill="#35995a" fill-opacity="0.45">
<circle cx="1845.1" cy="405.2" r="7.8"/>
<circle cx="1914.3" cy="356" r="7.8"/>
<circle cx="1884.8" cy="372.2" r="7.8"/>
<circle cx="1879.3" cy="394.7" r="7.8"/>
<circle cx="1855.5" cy="413.3" r="7.8"/>
<circle cx="1878.5" cy="376" r="7.8"/>
<circle cx="1901" cy="350.3" r="7.8"/>
<circle cx="1863.7" cy="383.6" r="7.8"/>
<circle cx="1885.9" cy="383.7" r="7.8"/>
<circle cx="1871.5" cy="371.3" r="7.8"/>
<circle cx="1887.6" cy="367.5" r="7.8"/>
<circle cx="1924.9" cy="354.1" r="7.8"/>
<circle cx="1893.9" cy="373" r="7.8"/>
<circle cx="1859.9" cy="380.3" r="7.8"/>
<circle cx="1892.1" cy="370.2" r="7.8"/>
<circle cx="1836.5" cy="407" r="7.8"/>
<circle cx="1893" cy="351.4" r="7.8"/>
<circle cx="1885.8" cy="375.1" r="7.8"/>
<circle cx="1897.7" cy="372.9" r="7.8"/>
<circle cx="1858.4" cy="404.7" r="7.8"/>
<circle cx="1904.4" cy="341.8" r="7.8"/>
<circle cx="1913.4" cy="355.6" r="7.8"/>
<circle cx="1865.7" cy="374.2" r="7.8"/>
<circle cx="1842.3" cy="409.5" r="7.8"/>
<circle cx="1886.4" cy="352.2" r="7.8"/>
<circle cx="1846.4" cy="394.5" r="7.8"/>
<circle cx="1847.9" cy="393.3" r="7.8"/>
<circle cx="1854.6" cy="415.8" r="7.8"/>
<circle cx="1854.9" cy="388.7" r="7.8"/>
<circle cx="1873.8" cy="382.6" r="7.8"/>
<circle cx="1865.7" cy="387.2" r="7.8"/>
<circle cx="1864" cy="406.1" r="7.8"/>
<circle cx="1864.5" cy="412.8" r="7.8"/>
<circle cx="1912.1" cy="369.4" r="7.8"/>
<circle cx="1893" cy="349.1" r="7.8"/>
<circle cx="1871.9" cy="363.7" r="7.8"/>
<circle cx="1853" cy="390.8" r="7.8"/>
<circle cx="1862.9" cy="376.3" r="7.8"/>
<circle cx="1866.1" cy="407.2" r="7.8"/>
<circle cx="1856.1" cy="395.1" r="7.8"/>
<circle cx="1930.5" cy="352.5" r="7.8"/>
<circle cx="1922.8" cy="365.4" r="7.8"/>
<circle cx="1838.4" cy="406.7" r="7.8"/>
<circle cx="1867.8" cy="385.9" r="7.8"/>
<circle cx="1916.3" cy="366.2" r="7.8"/>
<circle cx="1893.1" cy="353.4" r="7.8"/>
<circle cx="1860.8" cy="400.2" r="7.8"/>
<circle cx="1904.1" cy="342.5" r="7.8"/>
<circle cx="1843" cy="408.3" r="7.8"/>
<circle cx="1856.9" cy="396.6" r="7.8"/>
<circle cx="1841.6" cy="410.4" r="7.8"/>
<circle cx="1930.3" cy="359.3" r="7.8"/>
<circle cx="1895.9" cy="372.2" r="7.8"/>
<circle cx="1854" cy="386.1" r="7.8"/>
<circle cx="1858.8" cy="379.8" r="7.8"/>
<circle cx="1865.2" cy="405.1" r="7.8"/>
<circle cx="1928.6" cy="360" r="7.8"/>
<circle cx="1867.1" cy="380" r="7.8"/>
<circle cx="1862.3" cy="400.6" r="7.8"/>
<circle cx="1917.8" cy="341.3" r="7.8"/>
<circle cx="1934.7" cy="349.2" r="7.8"/>
<circle cx="1920.7" cy="361.4" r="7.8"/>
<circle cx="1931.4" cy="359.2" r="7.8"/>
<circle cx="1928.6" cy="346.6" r="7.8"/>
<circle cx="1865.1" cy="409.8" r="7.8"/>
<circle cx="1906.2" cy="349.6" r="7.8"/>
<circle cx="1890.7" cy="379.8" r="7.8"/>
<circle cx="1873.8" cy="363" r="7.8"/>
<circle cx="1901.4" cy="369.4" r="7.8"/>
<circle cx="1874.4" cy="385.7" r="7.8"/>
<circle cx="1888.5" cy="376.4" r="7.8"/>
<circle cx="1901.7" cy="371.2" r="7.8"/>
<circle cx="1883" cy="353.5" r="7.8"/>
<circle cx="1875.7" cy="381.4" r="7.8"/>
<circle cx="1860.6" cy="388.5" r="7.8"/>
<circle cx="1847.9" cy="398.4" r="7.8"/>
<circle cx="1927.4" cy="360.7" r="7.8"/>
<circle cx="1871.2" cy="393" r="7.8"/>
<circle cx="1913.7" cy="339.2" r="7.8"/>
<circle cx="1868.6" cy="377.6" r="7.8"/>
<circle cx="1848.5" cy="395.4" r="7.8"/>
<circle cx="1834.8" cy="416.3" r="7.8"/>
<circle cx="1859.7" cy="410.6" r="7.8"/>
<circle cx="1935.8" cy="346.4" r="7.8"/>
<circle cx="1844.2" cy="410.3" r="7.8"/>
<circle cx="1935.8" cy="344.8" r="7.8"/>
<circle cx="1896.4" cy="368.7" r="7.8"/>
<circle cx="1857.6" cy="397.1" r="7.8"/>
<circle cx="1922.2" cy="352" r="7.8"/>
<circle cx="1861.6" cy="379.9" r="7.8"/>
<circle cx="1860.4" cy="383.5" r="7.8"/>
<circle cx="1857.9" cy="391.6" r="7.8"/>
<circle cx="1842.2" cy="401.9" r="7.8"/>
<circle cx="1843.3" cy="396.9" r="7.8"/>
<circle cx="1893.3" cy="360.7" r="7.8"/>
<circle cx="1885.6" cy="364.5" r="7.8"/>
<circle cx="1879" cy="372.2" r="7.8"/>
<circle cx="1884.5" cy="388.6" r="7.8"/>
<circle cx="1873.1" cy="370.2" r="7.8"/>
<circle cx="1874.9" cy="406.3" r="7.8"/>
<circle cx="1899.6" cy="368.6" r="7.8"/>
<circle cx="1890.2" cy="347.5" r="7.8"/>
<circle cx="1876.8" cy="364.3" r="7.8"/>
<circle cx="1906.3" cy="368.2" r="7.8"/>
<circle cx="1927.8" cy="357.2" r="7.8"/>
<circle cx="1838.6" cy="403.8" r="7.8"/>
<circle cx="1887.9" cy="365.4" r="7.8"/>
<circle cx="1848.9" cy="389" r="7.8"/>
<circle cx="1860" cy="385.4" r="7.8"/>
<circle cx="1855.9" cy="381.4" r="7.8"/>
<circle cx="1849.3" cy="400.4" r="7.8"/>
<circle cx="1925.6" cy="362.2" r="7.8"/>
<circle cx="1854.8" cy="414.8" r="7.8"/>
<circle cx="1833.7" cy="409.5" r="7.8"/>
<circle cx="1898.8" cy="361.1" r="7.8"/>
<circle cx="1877.8" cy="398.1" r="7.8"/>
<circle cx="1916.7" cy="350.6" r="7.8"/>
<circle cx="1899.2" cy="348.6" r="7.8"/>
<circle cx="1897" cy="356.6" r="7.8"/>
<circle cx="1888.2" cy="346.4" r="7.8"/>
<circle cx="1845.5" cy="394.2" r="7.8"/>
<circle cx="1870" cy="397.2" r="7.8"/>
<circle cx="1856.8" cy="394.4" r="7.8"/>
<circle cx="1909.3" cy="360.2" r="7.8"/>
<circle cx="1868" cy="404.4" r="7.8"/>
<circle cx="1884.8" cy="366.2" r="7.8"/>
<circle cx="1894.1" cy="352.4" r="7.8"/>
<circle cx="1909" cy="362.3" r="7.8"/>
<circle cx="1874.3" cy="407.9" r="7.8"/>
<circle cx="1913.8" cy="347.5" r="7.8"/>
</g>
<g fill="#35995a" fill-opacity="0.6">
<circle cx="1846" cy="422.5" r="7.8"/>
<circle cx="1850" cy="422.5" r="7.8"/>
<circle cx="1854" cy="422.5" r="7.8"/>
<circle cx="1858" cy="422.5" r="7.8"/>
<circle cx="1862" cy="422.5" r="7.8"/>
<circle cx="1866" cy="422.5" r="7.8"/>
<circle cx="1870" cy="422.5" r="7.8"/>
<circle cx="1874" cy="422.5" r="7.8"/>
<circle cx="1878" cy="422.5" r="7.8"/>
<circle cx="1882" cy="422.5" r="7.8"/>
<circle cx="1886" cy="422.5" r="7.8"/>
<circle cx="1890" cy="422.5" r="7.8"/>
<circle cx="1894" cy="422.5" r="7.8"/>
<circle cx="1898" cy="422.5" r="7.8"/>
<circle cx="1902" cy="422.5" r="7.8"/>
<circle cx="1906" cy="422.5" r="7.8"/>
<circle cx="1910" cy="422.5" r="7.8"/>
<circle cx="1914" cy="422.5" r="7.8"/>
<circle cx="1918" cy="422.5" r="7.8"/>
<circle cx="1922" cy="422.5" r="7.8"/>
<circle cx="1926" cy="422.5" r="7.8"/>
<circle cx="1930" cy="422.5" r="7.8"/>
</g>
<g fill="#35995a" fill-opacity="0.45">
<circle cx="1931.6" cy="317.5" r="7.8"/>
<circle cx="1915.6" cy="361.5" r="7.8"/>
<circle cx="1946.2" cy="347.1" r="7.8"/>
<circle cx="1944.4" cy="327.3" r="7.8"/>
<circle cx="1957.7" cy="339.7" r="7.8"/>
<circle cx="1961.3" cy="345.2" r="7.8"/>
<circle cx="1965.6" cy="330.9" r="7.8"/>
<circle cx="1957" cy="313.4" r="7.8"/>
<circle cx="1951.9" cy="342.6" r="7.8"/>
<circle cx="1907.7" cy="353.1" r="7.8"/>
<circle cx="1965.8" cy="316.5" r="7.8"/>
<circle cx="1957.3" cy="349.8" r="7.8"/>
<circle cx="1912.6" cy="345.8" r="7.8"/>
<circle cx="1949.4" cy="341.8" r="7.8"/>
<circle cx="1916.8" cy="359.8" r="7.8"/>
<circle cx="1966.2" cy="322" r="7.8"/>
<circle cx="1914.1" cy="345.6" r="7.8"/>
<circle cx="1933.6" cy="345.3" r="7.8"/>
<circle cx="1939.9" cy="328.1" r="7.8"/>
<circle cx="1937.4" cy="349.5" r="7.8"/>
<circle cx="1934.9" cy="350.6" r="7.8"/>
<circle cx="1952" cy="323.4" r="7.8"/>
</g>
<g fill="#35995a" fill-opacity="0.6">
<circle cx="2030" cy="240.3" r="7.8"/>
<circle cx="1998.2" cy="251.9" r="7.8"/>
<circle cx="2008.8" cy="256.7" r="7.8"/>
<circle cx="2050.3" cy="259.6" r="7.8"/>
<circle cx="2029.1" cy="284.7" r="7.8"/>
<circle cx="1981.8" cy="292.4" r="7.8"/>
<circle cx="1971.2" cy="305" r="7.8"/>
<circle cx="1955.7" cy="307.9" r="7.8"/>
<circle cx="1946.1" cy="305.9" r="7.8"/>
<circle cx="1930.7" cy="319.4" r="7.8"/>
<circle cx="1959.6" cy="325.2" r="7.8"/>
<circle cx="1971.2" cy="329.1" r="7.8"/>
<circle cx="1971.2" cy="332.9" r="7.8"/>
<circle cx="1949.9" cy="336.8" r="7.8"/>
<circle cx="1955.7" cy="350.3" r="7.8"/>
<circle cx="1961.5" cy="375.4" r="7.8"/>
<circle cx="1965.4" cy="388.9" r="7.8"/>
<circle cx="1951.9" cy="394.7" r="7.8"/>
<circle cx="1940.3" cy="406.3" r="7.8"/>
<circle cx="1938.4" cy="417.8" r="7.8"/>
<circle cx="1957.7" cy="422.7" r="7.8"/>
<circle cx="1922.9" cy="390.8" r="7.8"/>
<circle cx="1913.3" cy="387" r="7.8"/>
<circle cx="1903.6" cy="410.1" r="7.8"/>
<circle cx="1915.2" cy="412" r="7.8"/>
<circle cx="1907.5" cy="323.3" r="7.8"/>
<circle cx="1922.9" cy="325.2" r="7.8"/>
<circle cx="1934.5" cy="352.2" r="7.8"/>
<circle cx="1921" cy="367.7" r="7.8"/>
<circle cx="1828.4" cy="415.9" r="7.8"/>
<circle cx="1834.2" cy="421.7" r="7.8"/>
<circle cx="1838" cy="410.1" r="7.8"/>
<circle cx="1849.6" cy="398.5" r="7.8"/>
<circle cx="1861.2" cy="406.3" r="7.8"/>
</g>
<line x1="1732.5" y1="438.3" x2="2089.4" y2="64.1" stroke="#000" stroke-width="3" stroke-dasharray="13.5 8.5"/>
<line x1="1731.5" y1="62.5" x2="1731.5" y2="440" stroke="#333" stroke-width="1.5"/>
<line x1="1730.8" y1="439.3" x2="2091" y2="439.3" stroke="#333" stroke-width="1.5"/>
<line x1="1719.1" y1="116.5" x2="1731.5" y2="116.5" stroke="#333" stroke-width="1.5"/>
<text x="1707.5" y="110.4" font-size="15" text-anchor="end" textLength="14.5" lengthAdjust="spacingAndGlyphs">−2</text>
<text x="1691.5" y="123.3" font-size="23" text-anchor="end" textLength="23" lengthAdjust="spacingAndGlyphs">10</text>
<line x1="1719.1" y1="192.5" x2="1731.5" y2="192.5" stroke="#333" stroke-width="1.5"/>
<text x="1707.5" y="186.4" font-size="15" text-anchor="end" textLength="14.5" lengthAdjust="spacingAndGlyphs">−3</text>
<text x="1691.5" y="199.3" font-size="23" text-anchor="end" textLength="23" lengthAdjust="spacingAndGlyphs">10</text>
<line x1="1719.1" y1="269" x2="1731.5" y2="269" stroke="#333" stroke-width="1.5"/>
<text x="1707.5" y="262.9" font-size="15" text-anchor="end" textLength="14.5" lengthAdjust="spacingAndGlyphs">−4</text>
<text x="1691.5" y="275.8" font-size="23" text-anchor="end" textLength="23" lengthAdjust="spacingAndGlyphs">10</text>
<line x1="1719.1" y1="345.5" x2="1731.5" y2="345.5" stroke="#333" stroke-width="1.5"/>
<text x="1707.5" y="339.4" font-size="15" text-anchor="end" textLength="14.5" lengthAdjust="spacingAndGlyphs">−5</text>
<text x="1691.5" y="352.3" font-size="23" text-anchor="end" textLength="23" lengthAdjust="spacingAndGlyphs">10</text>
<line x1="1719.1" y1="422" x2="1731.5" y2="422" stroke="#333" stroke-width="1.5"/>
<text x="1707.5" y="428.8" font-size="23" text-anchor="end" textLength="12.5" lengthAdjust="spacingAndGlyphs">0</text>
<line x1="1747.8" y1="439.3" x2="1747.8" y2="451.3" stroke="#333" stroke-width="1.5"/>
<text x="1747.9" y="480.3" font-size="23" text-anchor="middle" textLength="12.5" lengthAdjust="spacingAndGlyphs">0</text>
<line x1="1820.9" y1="439.3" x2="1820.9" y2="451.3" stroke="#333" stroke-width="1.5"/>
<text x="1807.4" y="480.3" font-size="23" textLength="23" lengthAdjust="spacingAndGlyphs">10</text>
<text x="1831.9" y="468.5" font-size="15" textLength="14.5" lengthAdjust="spacingAndGlyphs">−5</text>
<line x1="1893.5" y1="439.3" x2="1893.5" y2="451.3" stroke="#333" stroke-width="1.5"/>
<text x="1885.9" y="480.3" font-size="23" textLength="23" lengthAdjust="spacingAndGlyphs">10</text>
<text x="1910.4" y="468.5" font-size="15" textLength="14.5" lengthAdjust="spacingAndGlyphs">−4</text>
<line x1="1966.5" y1="439.3" x2="1966.5" y2="451.3" stroke="#333" stroke-width="1.5"/>
<text x="1965.3" y="480.3" font-size="23" textLength="23" lengthAdjust="spacingAndGlyphs">10</text>
<text x="1989.8" y="468.5" font-size="15" textLength="14.5" lengthAdjust="spacingAndGlyphs">−3</text>
<line x1="2039.6" y1="439.3" x2="2039.6" y2="451.3" stroke="#333" stroke-width="1.5"/>
<text x="2044.7" y="480.3" font-size="23" textLength="23" lengthAdjust="spacingAndGlyphs">10</text>
<text x="2069.2" y="468.5" font-size="15" textLength="14.5" lengthAdjust="spacingAndGlyphs">−2</text>
<text x="1765.9" y="86" font-size="21" textLength="38.4" lengthAdjust="spacingAndGlyphs" fill="#d8400f">106</text>
<text x="2053.8" y="412.8" font-size="21" textLength="34" lengthAdjust="spacingAndGlyphs" fill="#35995a">312</text>
<g fill="#b3b3b3" fill-opacity="0.5">
<circle cx="1549.5" cy="618.7" r="7.8"/>
<circle cx="1483" cy="653" r="7.8"/>
<circle cx="1555.6" cy="620" r="7.8"/>
<circle cx="1474.9" cy="681.7" r="7.8"/>
<circle cx="1500.8" cy="668.3" r="7.8"/>
<circle cx="1336.4" cy="722.6" r="7.8"/>
<circle cx="1433.2" cy="700.3" r="7.8"/>
<circle cx="1456.7" cy="710.8" r="7.8"/>
<circle cx="1411.6" cy="837.2" r="7.8"/>
<circle cx="1352.5" cy="731.9" r="7.8"/>
<circle cx="1526.8" cy="639.4" r="7.8"/>
<circle cx="1405.3" cy="812.7" r="7.8"/>
<circle cx="1430.4" cy="710" r="7.8"/>
<circle cx="1508.8" cy="690.5" r="7.8"/>
<circle cx="1412.2" cy="704.1" r="7.8"/>
<circle cx="1484.4" cy="683.2" r="7.8"/>
<circle cx="1414.4" cy="728.6" r="7.8"/>
<circle cx="1552.8" cy="626.1" r="7.8"/>
<circle cx="1434.6" cy="724.2" r="7.8"/>
<circle cx="1470.3" cy="675.8" r="7.8"/>
<circle cx="1366" cy="767.8" r="7.8"/>
<circle cx="1379.5" cy="697.3" r="7.8"/>
<circle cx="1448.9" cy="781.1" r="7.8"/>
<circle cx="1442.1" cy="689" r="7.8"/>
<circle cx="1273.6" cy="772.6" r="7.8"/>
<circle cx="1370.3" cy="706.9" r="7.8"/>
<circle cx="1468" cy="689.7" r="7.8"/>
<circle cx="1361.8" cy="757.6" r="7.8"/>
<circle cx="1473.1" cy="695.6" r="7.8"/>
<circle cx="1436.5" cy="694.4" r="7.8"/>
<circle cx="1528.8" cy="646.2" r="7.8"/>
<circle cx="1483.5" cy="744.2" r="7.8"/>
<circle cx="1409.8" cy="828.3" r="7.8"/>
<circle cx="1383.6" cy="800.5" r="7.8"/>
<circle cx="1314.4" cy="769.5" r="7.8"/>
<circle cx="1437.3" cy="744.8" r="7.8"/>
<circle cx="1487.4" cy="702.3" r="7.8"/>
<circle cx="1337.1" cy="746.4" r="7.8"/>
<circle cx="1423.2" cy="725.3" r="7.8"/>
<circle cx="1314.7" cy="781.6" r="7.8"/>
<circle cx="1495.3" cy="695.3" r="7.8"/>
<circle cx="1461.5" cy="711.5" r="7.8"/>
<circle cx="1298.1" cy="767.3" r="7.8"/>
<circle cx="1328.8" cy="774.5" r="7.8"/>
<circle cx="1424.7" cy="823.1" r="7.8"/>
<circle cx="1520.6" cy="629" r="7.8"/>
<circle cx="1390.6" cy="714.3" r="7.8"/>
<circle cx="1434.6" cy="733.4" r="7.8"/>
<circle cx="1408.3" cy="726.8" r="7.8"/>
<circle cx="1405.2" cy="755.6" r="7.8"/>
<circle cx="1394.8" cy="715" r="7.8"/>
<circle cx="1530.3" cy="655.6" r="7.8"/>
<circle cx="1446.9" cy="723.6" r="7.8"/>
<circle cx="1403.9" cy="800.6" r="7.8"/>
<circle cx="1382.6" cy="804.6" r="7.8"/>
<circle cx="1386.9" cy="764.7" r="7.8"/>
<circle cx="1489.6" cy="654.9" r="7.8"/>
<circle cx="1408.5" cy="843.7" r="7.8"/>
<circle cx="1435.1" cy="737.7" r="7.8"/>
<circle cx="1490.1" cy="734.4" r="7.8"/>
<circle cx="1460.5" cy="778.8" r="7.8"/>
<circle cx="1467.4" cy="691.7" r="7.8"/>
<circle cx="1531" cy="644.2" r="7.8"/>
<circle cx="1347.6" cy="750.6" r="7.8"/>
<circle cx="1537" cy="651.6" r="7.8"/>
<circle cx="1460.9" cy="672.3" r="7.8"/>
<circle cx="1499.3" cy="708.5" r="7.8"/>
<circle cx="1393.6" cy="760" r="7.8"/>
<circle cx="1405.6" cy="762.9" r="7.8"/>
<circle cx="1386.2" cy="805.6" r="7.8"/>
<circle cx="1464.6" cy="669.3" r="7.8"/>
<circle cx="1342.1" cy="731.6" r="7.8"/>
<circle cx="1316" cy="737.6" r="7.8"/>
<circle cx="1431.7" cy="740.4" r="7.8"/>
<circle cx="1476" cy="761.7" r="7.8"/>
<circle cx="1492.1" cy="668.1" r="7.8"/>
<circle cx="1371.9" cy="708.2" r="7.8"/>
<circle cx="1420.2" cy="754.1" r="7.8"/>
<circle cx="1439.6" cy="690.1" r="7.8"/>
<circle cx="1374.1" cy="769.6" r="7.8"/>
<circle cx="1453.9" cy="713.7" r="7.8"/>
<circle cx="1382.2" cy="757.2" r="7.8"/>
<circle cx="1502.3" cy="700.1" r="7.8"/>
<circle cx="1507.5" cy="637.3" r="7.8"/>
<circle cx="1550.1" cy="627.3" r="7.8"/>
<circle cx="1439.2" cy="801.6" r="7.8"/>
<circle cx="1409.2" cy="777.6" r="7.8"/>
<circle cx="1467" cy="734.7" r="7.8"/>
<circle cx="1501.2" cy="659" r="7.8"/>
<circle cx="1340.1" cy="719.9" r="7.8"/>
</g>
<polygon points="1255.6,915.1 1255.6,769.2 1269,769.2 1274.3,755.9 1294.4,745.8 1327.8,735.8 1354.6,725.8 1381.3,710.4 1408.1,702.3 1434.8,695.7 1448.2,685.6 1461.6,672.2 1481.7,667.6 1495.1,655.5 1515.1,645.5 1528.5,635.5 1541.9,625.4 1551.9,618.7 1558.6,623.4 1553.9,635.5 1541.9,648.8 1525.2,658.9 1515.1,668.9 1501.7,689 1488.4,715.7 1478.3,742.5 1471.6,769.2 1464.9,789.3 1458.3,802.7 1448.2,822.7 1441.5,842.8 1434.8,869.6 1431.5,889.6 1440.2,899.7 1440.2,915.1" fill="#b3b3b3" stroke="#b3b3b3" stroke-width="4" stroke-linejoin="round"/>
<polygon points="1252.2,915.9 1252.2,757 1266.3,753.8 1290.8,747.4 1316.5,744.2 1342.2,734.5 1361.5,721.7 1387.2,712 1413,705.6 1438.7,692.7 1458,676.7 1477.3,657.4 1496.6,647.7 1515.9,634.9 1528.7,625.2 1541.6,618.8 1554.4,615.6 1554.4,622 1541.6,638.1 1528.7,650.9 1515.9,663.8 1503,676.7 1490.1,695.9 1480.5,715.2 1470.8,734.5 1464.4,753.8 1458,773.1 1451.5,792.4 1445.1,811.7 1438.7,831 1432.3,850.3 1425.8,869.6 1419.4,882.4 1400.1,895.3 1400.1,915.9" fill="#b3b3b3" stroke="#b3b3b3" stroke-width="4" stroke-linejoin="round"/>
<g fill="#b3b3b3" fill-opacity="0.55">
<circle cx="1586.6" cy="607" r="7.8"/>
<circle cx="1561.9" cy="632.9" r="7.8"/>
<circle cx="1546.1" cy="623.9" r="7.8"/>
<circle cx="1534.8" cy="625" r="7.8"/>
<circle cx="1541.6" cy="634" r="7.8"/>
<circle cx="1501.1" cy="652" r="7.8"/>
<circle cx="1487.6" cy="663.3" r="7.8"/>
<circle cx="1474.1" cy="672.3" r="7.8"/>
<circle cx="1453.8" cy="676.8" r="7.8"/>
<circle cx="1381.8" cy="702.7" r="7.8"/>
<circle cx="1397.6" cy="710.5" r="7.8"/>
<circle cx="1411.1" cy="708.3" r="7.8"/>
<circle cx="1424.6" cy="703.8" r="7.8"/>
<circle cx="1350.3" cy="728.5" r="7.8"/>
<circle cx="1336.8" cy="735.3" r="7.8"/>
<circle cx="1363.8" cy="724" r="7.8"/>
<circle cx="1379.5" cy="724" r="7.8"/>
<circle cx="1489.8" cy="746.6" r="7.8"/>
<circle cx="1467.3" cy="766.8" r="7.8"/>
<circle cx="1456.1" cy="797.2" r="7.8"/>
<circle cx="1442.6" cy="805.1" r="7.8"/>
<circle cx="1438.1" cy="899.6" r="7.8"/>
<circle cx="1397.6" cy="892.9" r="7.8"/>
</g>
<g fill="#d8400f" fill-opacity="0.62">
<circle cx="1261.4" cy="611.5" r="7.8"/>
<circle cx="1259.1" cy="617.1" r="7.8"/>
</g>
<g fill="#d8400f" fill-opacity="0.8">
<circle cx="1258.9" cy="620" r="7.8"/>
<circle cx="1258.9" cy="624" r="7.8"/>
<circle cx="1258.9" cy="628" r="7.8"/>
<circle cx="1258.9" cy="632" r="7.8"/>
<circle cx="1258.9" cy="636" r="7.8"/>
<circle cx="1258.9" cy="640" r="7.8"/>
<circle cx="1258.9" cy="644" r="7.8"/>
<circle cx="1258.9" cy="648" r="7.8"/>
<circle cx="1258.9" cy="652" r="7.8"/>
<circle cx="1258.9" cy="656" r="7.8"/>
<circle cx="1258.9" cy="660" r="7.8"/>
<circle cx="1258.9" cy="664" r="7.8"/>
<circle cx="1258.9" cy="668" r="7.8"/>
<circle cx="1258.9" cy="672" r="7.8"/>
<circle cx="1258.9" cy="676" r="7.8"/>
<circle cx="1258.9" cy="680" r="7.8"/>
<circle cx="1258.9" cy="684" r="7.8"/>
<circle cx="1258.9" cy="688" r="7.8"/>
<circle cx="1258.9" cy="692" r="7.8"/>
<circle cx="1258.9" cy="696" r="7.8"/>
<circle cx="1258.9" cy="700" r="7.8"/>
<circle cx="1258.9" cy="704" r="7.8"/>
<circle cx="1258.9" cy="708" r="7.8"/>
<circle cx="1258.9" cy="712" r="7.8"/>
<circle cx="1258.9" cy="716" r="7.8"/>
<circle cx="1258.9" cy="720" r="7.8"/>
<circle cx="1258.9" cy="724" r="7.8"/>
<circle cx="1258.9" cy="728" r="7.8"/>
<circle cx="1258.9" cy="732" r="7.8"/>
<circle cx="1258.9" cy="736" r="7.8"/>
<circle cx="1258.9" cy="740" r="7.8"/>
<circle cx="1258.9" cy="744" r="7.8"/>
<circle cx="1258.9" cy="748" r="7.8"/>
<circle cx="1258.9" cy="752" r="7.8"/>
<circle cx="1258.9" cy="756" r="7.8"/>
<circle cx="1258.9" cy="760" r="7.8"/>
<circle cx="1258.9" cy="764" r="7.8"/>
</g>
<g fill="#d8400f" fill-opacity="0.62">
<circle cx="1352.5" cy="584.5" r="7.8"/>
<circle cx="1354.8" cy="612.6" r="7.8"/>
<circle cx="1434.7" cy="609.3" r="7.8"/>
<circle cx="1305.3" cy="631.8" r="7.8"/>
<circle cx="1336.8" cy="636.3" r="7.8"/>
<circle cx="1328.9" cy="641.9" r="7.8"/>
<circle cx="1273.8" cy="645.3" r="7.8"/>
<circle cx="1285" cy="645.3" r="7.8"/>
<circle cx="1296.3" cy="641.9" r="7.8"/>
<circle cx="1295.1" cy="655.4" r="7.8"/>
<circle cx="1282.8" cy="663.3" r="7.8"/>
<circle cx="1289.5" cy="663.3" r="7.8"/>
<circle cx="1294" cy="672.3" r="7.8"/>
<circle cx="1269.3" cy="666.7" r="7.8"/>
<circle cx="1316.5" cy="674.5" r="7.8"/>
<circle cx="1330" cy="674.5" r="7.8"/>
<circle cx="1334.5" cy="672.3" r="7.8"/>
<circle cx="1330" cy="686.9" r="7.8"/>
<circle cx="1281.6" cy="694.8" r="7.8"/>
<circle cx="1291.8" cy="704.9" r="7.8"/>
<circle cx="1323.3" cy="702.7" r="7.8"/>
<circle cx="1339" cy="710.5" r="7.8"/>
<circle cx="1350.3" cy="700.4" r="7.8"/>
<circle cx="1269.3" cy="702.7" r="7.8"/>
<circle cx="1269.3" cy="715" r="7.8"/>
<circle cx="1307.5" cy="715" r="7.8"/>
<circle cx="1321" cy="719.5" r="7.8"/>
<circle cx="1296.3" cy="724" r="7.8"/>
<circle cx="1291.8" cy="737.6" r="7.8"/>
<circle cx="1298.5" cy="739.8" r="7.8"/>
<circle cx="1312" cy="739.8" r="7.8"/>
<circle cx="1313.1" cy="748.8" r="7.8"/>
<circle cx="1285" cy="746.6" r="7.8"/>
<circle cx="1271.5" cy="747.7" r="7.8"/>
<circle cx="1294" cy="755.6" r="7.8"/>
<circle cx="1270.4" cy="760.1" r="7.8"/>
<circle cx="1280.5" cy="770.2" r="7.8"/>
<circle cx="1259.1" cy="785.9" r="7.8"/>
<circle cx="1260" cy="567.1" r="7.8"/>
</g>
<g fill="#35995a" fill-opacity="0.6">
<circle cx="1444.8" cy="820.8" r="7.8"/>
<circle cx="1444.8" cy="838.8" r="7.8"/>
<circle cx="1457.2" cy="837.7" r="7.8"/>
<circle cx="1425.7" cy="837.7" r="7.8"/>
<circle cx="1413.3" cy="849" r="7.8"/>
<circle cx="1415.6" cy="852.3" r="7.8"/>
<circle cx="1424.6" cy="847.8" r="7.8"/>
<circle cx="1434.7" cy="861.3" r="7.8"/>
<circle cx="1418.9" cy="876" r="7.8"/>
<circle cx="1434.7" cy="874.8" r="7.8"/>
<circle cx="1391.9" cy="873.7" r="7.8"/>
<circle cx="1382.9" cy="885" r="7.8"/>
<circle cx="1375" cy="889.5" r="7.8"/>
<circle cx="1366" cy="898.5" r="7.8"/>
<circle cx="1409.9" cy="890.6" r="7.8"/>
<circle cx="1431.3" cy="896.2" r="7.8"/>
<circle cx="1509" cy="878.2" r="7.8"/>
<circle cx="1520.2" cy="908.6" r="7.8"/>
<circle cx="1415.6" cy="910.9" r="7.8"/>
<circle cx="1420.1" cy="910.9" r="7.8"/>
<circle cx="1424.6" cy="910.9" r="7.8"/>
<circle cx="1413.3" cy="909.7" r="7.8"/>
</g>
<line x1="1245" y1="926.3" x2="1602.2" y2="552.9" stroke="#000" stroke-width="3" stroke-dasharray="13.5 8.5"/>
<line x1="1243.7" y1="551.3" x2="1243.7" y2="928.2" stroke="#333" stroke-width="1.5"/>
<line x1="1243" y1="927.5" x2="1603.2" y2="927.5" stroke="#333" stroke-width="1.5"/>
<line x1="1231.3" y1="582.4" x2="1243.7" y2="582.4" stroke="#333" stroke-width="1.5"/>
<text x="1219.7" y="576.3" font-size="15" text-anchor="end" textLength="14.5" lengthAdjust="spacingAndGlyphs">−3</text>
<text x="1203.7" y="589.2" font-size="23" text-anchor="end" textLength="23" lengthAdjust="spacingAndGlyphs">10</text>
<line x1="1231.3" y1="692" x2="1243.7" y2="692" stroke="#333" stroke-width="1.5"/>
<text x="1219.7" y="685.9" font-size="15" text-anchor="end" textLength="14.5" lengthAdjust="spacingAndGlyphs">−4</text>
<text x="1203.7" y="698.8" font-size="23" text-anchor="end" textLength="23" lengthAdjust="spacingAndGlyphs">10</text>
<line x1="1231.3" y1="801.4" x2="1243.7" y2="801.4" stroke="#333" stroke-width="1.5"/>
<text x="1219.7" y="795.3" font-size="15" text-anchor="end" textLength="14.5" lengthAdjust="spacingAndGlyphs">−5</text>
<text x="1203.7" y="808.2" font-size="23" text-anchor="end" textLength="23" lengthAdjust="spacingAndGlyphs">10</text>
<line x1="1231.3" y1="910.4" x2="1243.7" y2="910.4" stroke="#333" stroke-width="1.5"/>
<text x="1219.7" y="917.2" font-size="23" text-anchor="end" textLength="12.5" lengthAdjust="spacingAndGlyphs">0</text>
<line x1="1259.7" y1="927.5" x2="1259.7" y2="939.5" stroke="#333" stroke-width="1.5"/>
<text x="1259.7" y="973" font-size="23" text-anchor="middle" textLength="12.5" lengthAdjust="spacingAndGlyphs">0</text>
<line x1="1364.2" y1="927.5" x2="1364.2" y2="939.5" stroke="#333" stroke-width="1.5"/>
<text x="1343.9" y="973" font-size="23" textLength="23" lengthAdjust="spacingAndGlyphs">10</text>
<text x="1368.4" y="961.2" font-size="15" textLength="14.5" lengthAdjust="spacingAndGlyphs">−5</text>
<line x1="1468.1" y1="927.5" x2="1468.1" y2="939.5" stroke="#333" stroke-width="1.5"/>
<text x="1447.8" y="973" font-size="23" textLength="23" lengthAdjust="spacingAndGlyphs">10</text>
<text x="1472.3" y="961.2" font-size="15" textLength="14.5" lengthAdjust="spacingAndGlyphs">−4</text>
<line x1="1572.3" y1="927.5" x2="1572.3" y2="939.5" stroke="#333" stroke-width="1.5"/>
<text x="1552" y="973" font-size="23" textLength="23" lengthAdjust="spacingAndGlyphs">10</text>
<text x="1576.5" y="961.2" font-size="15" textLength="14.5" lengthAdjust="spacingAndGlyphs">−3</text>
<text x="1300.2" y="580.6" font-size="21" textLength="35.1" lengthAdjust="spacingAndGlyphs" fill="#d8400f">213</text>
<text x="1549.8" y="907.4" font-size="21" textLength="23.8" lengthAdjust="spacingAndGlyphs" fill="#35995a">24</text>
<g fill="#b3b3b3" fill-opacity="0.5">
<circle cx="1866.5" cy="735.7" r="7.8"/>
<circle cx="1825.5" cy="731.1" r="7.8"/>
<circle cx="1957.5" cy="665.3" r="7.8"/>
<circle cx="1824" cy="783.5" r="7.8"/>
<circle cx="1975" cy="737.7" r="7.8"/>
<circle cx="1825.3" cy="762.1" r="7.8"/>
<circle cx="1930.1" cy="794.6" r="7.8"/>
<circle cx="1970.2" cy="708.5" r="7.8"/>
<circle cx="1971.7" cy="694.5" r="7.8"/>
<circle cx="1922" cy="703.6" r="7.8"/>
<circle cx="1855.6" cy="711.7" r="7.8"/>
<circle cx="1934.6" cy="683.5" r="7.8"/>
<circle cx="1933.5" cy="768" r="7.8"/>
<circle cx="2005.2" cy="625.5" r="7.8"/>
<circle cx="1942.1" cy="793" r="7.8"/>
<circle cx="1963.5" cy="633.5" r="7.8"/>
<circle cx="1898.1" cy="788.7" r="7.8"/>
<circle cx="1881.5" cy="750.4" r="7.8"/>
<circle cx="1936.7" cy="789.9" r="7.8"/>
<circle cx="1873.2" cy="772.8" r="7.8"/>
<circle cx="1819.7" cy="781.4" r="7.8"/>
<circle cx="1936.8" cy="769.8" r="7.8"/>
<circle cx="1989.4" cy="644.8" r="7.8"/>
<circle cx="1890.9" cy="710.8" r="7.8"/>
<circle cx="1883.6" cy="721.9" r="7.8"/>
<circle cx="1891.8" cy="701.8" r="7.8"/>
<circle cx="1937.1" cy="749.2" r="7.8"/>
<circle cx="1974.6" cy="750" r="7.8"/>
<circle cx="1801.7" cy="746.5" r="7.8"/>
<circle cx="1950.6" cy="730.3" r="7.8"/>
<circle cx="1935.5" cy="731.8" r="7.8"/>
<circle cx="1957.2" cy="788" r="7.8"/>
<circle cx="1894.9" cy="727.1" r="7.8"/>
<circle cx="1972.4" cy="706" r="7.8"/>
<circle cx="1814.6" cy="720.1" r="7.8"/>
<circle cx="1850.1" cy="747.2" r="7.8"/>
<circle cx="1958.7" cy="786.1" r="7.8"/>
<circle cx="1805.6" cy="726.7" r="7.8"/>
<circle cx="1796" cy="740.1" r="7.8"/>
<circle cx="1967.4" cy="759" r="7.8"/>
<circle cx="1868.7" cy="755" r="7.8"/>
<circle cx="1957.4" cy="678.3" r="7.8"/>
<circle cx="1867" cy="761.2" r="7.8"/>
<circle cx="1916.7" cy="686" r="7.8"/>
<circle cx="1954.4" cy="714.5" r="7.8"/>
<circle cx="1850" cy="734.5" r="7.8"/>
<circle cx="1868.6" cy="797.4" r="7.8"/>
<circle cx="2008.6" cy="631.5" r="7.8"/>
<circle cx="1995.8" cy="642" r="7.8"/>
<circle cx="1913.6" cy="726.9" r="7.8"/>
<circle cx="1901.3" cy="798.8" r="7.8"/>
<circle cx="1840.5" cy="726.9" r="7.8"/>
<circle cx="1832.1" cy="726.1" r="7.8"/>
<circle cx="1942.8" cy="789.6" r="7.8"/>
<circle cx="1837.6" cy="796.5" r="7.8"/>
<circle cx="1876" cy="749.3" r="7.8"/>
<circle cx="1838.6" cy="734.2" r="7.8"/>
<circle cx="1982.5" cy="646.7" r="7.8"/>
<circle cx="1964.5" cy="753" r="7.8"/>
<circle cx="1960" cy="634.4" r="7.8"/>
<circle cx="1810.2" cy="750.6" r="7.8"/>
<circle cx="1781.8" cy="752.4" r="7.8"/>
<circle cx="1886.8" cy="790.5" r="7.8"/>
<circle cx="1860.4" cy="795.8" r="7.8"/>
<circle cx="1930.6" cy="757.2" r="7.8"/>
<circle cx="1826.9" cy="792.9" r="7.8"/>
<circle cx="1846.8" cy="760.9" r="7.8"/>
<circle cx="1969.6" cy="682.7" r="7.8"/>
<circle cx="1915.6" cy="709.6" r="7.8"/>
<circle cx="1945" cy="710.3" r="7.8"/>
<circle cx="1790.6" cy="771.8" r="7.8"/>
<circle cx="1927.2" cy="748.3" r="7.8"/>
<circle cx="1810.8" cy="729.5" r="7.8"/>
<circle cx="1813" cy="779.1" r="7.8"/>
<circle cx="1920.5" cy="723.4" r="7.8"/>
<circle cx="1825" cy="770.2" r="7.8"/>
<circle cx="1896.9" cy="750.8" r="7.8"/>
<circle cx="2019.2" cy="614.6" r="7.8"/>
<circle cx="1851.1" cy="737.4" r="7.8"/>
<circle cx="1922.1" cy="783.6" r="7.8"/>
<circle cx="1905.5" cy="751.9" r="7.8"/>
<circle cx="1907.3" cy="783.7" r="7.8"/>
<circle cx="1814.4" cy="751" r="7.8"/>
<circle cx="1917.6" cy="709.9" r="7.8"/>
<circle cx="1970.9" cy="678.3" r="7.8"/>
<circle cx="1945.5" cy="729.3" r="7.8"/>
<circle cx="1862.7" cy="798.1" r="7.8"/>
<circle cx="1916.3" cy="712.5" r="7.8"/>
<circle cx="1950.3" cy="672.8" r="7.8"/>
<circle cx="1821.4" cy="790" r="7.8"/>
</g>
<polygon points="1739.9,918.1 1739.9,730.3 1754.5,730.3 1755.3,766.3 1766.9,763.8 1777.2,756 1787.4,745.8 1797.7,735.5 1808,725.2 1820.9,720 1833.7,720 1849.2,717.5 1864.6,712.3 1880,704.6 1890.3,696.9 1900.6,689.2 1910.9,684 1921.2,676.3 1931.5,668.6 1941.8,660.9 1952.1,653.2 1957.2,645.5 1967.5,637.7 1977.8,632.6 1988.1,627.4 1998.4,619.7 2008.6,614.6 2018.9,609.4 2024.1,606.9 2024.1,612 2013.8,619.7 2003.5,627.4 1995.8,635.2 1988.1,642.9 1982.9,653.2 1977.8,663.5 1972.6,673.7 1967.5,684 1962.3,694.3 1957.2,704.6 1954.6,720 1953.3,735.5 1954.6,750.9 1954.6,766.3 1957.2,776.6 1952.1,784.3 1941.8,797.2 1931.5,807.5 1921.2,817.8 1910.9,828.1 1905.8,838.4 1900.6,848.6 1895.5,858.9 1885.2,874.4 1874.9,884.7 1867.2,894.9 1859.5,905.2 1856.9,910.4 1898,910.4 1898,918.1" fill="#b3b3b3" stroke="#b3b3b3" stroke-width="4" stroke-linejoin="round"/>
<g fill="#b3b3b3" fill-opacity="0.55">
<circle cx="2021.7" cy="591.3" r="7.8"/>
<circle cx="2007.1" cy="616" r="7.8"/>
<circle cx="2018.3" cy="611.5" r="7.8"/>
<circle cx="1956.4" cy="639.6" r="7.8"/>
<circle cx="2009.3" cy="672.3" r="7.8"/>
<circle cx="2012.7" cy="673.4" r="7.8"/>
<circle cx="2060" cy="674.5" r="7.8"/>
<circle cx="2018.3" cy="712.8" r="7.8"/>
<circle cx="1984.6" cy="724" r="7.8"/>
<circle cx="1998.1" cy="737.6" r="7.8"/>
<circle cx="1971.1" cy="733" r="7.8"/>
<circle cx="1982.3" cy="733" r="7.8"/>
<circle cx="1991.3" cy="746.6" r="7.8"/>
<circle cx="1966.6" cy="753.3" r="7.8"/>
<circle cx="1973.3" cy="706" r="7.8"/>
<circle cx="1968.8" cy="715" r="7.8"/>
<circle cx="1982.3" cy="674.5" r="7.8"/>
<circle cx="1977.8" cy="688" r="7.8"/>
<circle cx="1944.1" cy="764.6" r="7.8"/>
<circle cx="1953.1" cy="775.8" r="7.8"/>
<circle cx="1939.6" cy="755.6" r="7.8"/>
<circle cx="1896.8" cy="688" r="7.8"/>
<circle cx="1887.8" cy="701.5" r="7.8"/>
<circle cx="1815.8" cy="717.3" r="7.8"/>
<circle cx="1827" cy="719.5" r="7.8"/>
<circle cx="1809" cy="733" r="7.8"/>
<circle cx="1788.8" cy="758.9" r="7.8"/>
<circle cx="1764" cy="747.7" r="7.8"/>
<circle cx="1761.8" cy="760.1" r="7.8"/>
<circle cx="1757.3" cy="773.6" r="7.8"/>
</g>
<g fill="#d8400f" fill-opacity="0.62">
<circle cx="1747.1" cy="672" r="7.8"/>
<circle cx="1747.1" cy="676" r="7.8"/>
<circle cx="1747.1" cy="680" r="7.8"/>
<circle cx="1747.1" cy="684" r="7.8"/>
<circle cx="1747.1" cy="688" r="7.8"/>
<circle cx="1747.1" cy="692" r="7.8"/>
<circle cx="1747.1" cy="696" r="7.8"/>
<circle cx="1747.1" cy="700" r="7.8"/>
<circle cx="1747.1" cy="704" r="7.8"/>
<circle cx="1747.1" cy="708" r="7.8"/>
<circle cx="1747.1" cy="712" r="7.8"/>
<circle cx="1747.1" cy="716" r="7.8"/>
<circle cx="1747.1" cy="720" r="7.8"/>
<circle cx="1747.1" cy="724" r="7.8"/>
<circle cx="1747.1" cy="728" r="7.8"/>
<circle cx="1747.1" cy="732" r="7.8"/>
</g>
<g fill="#d8400f" fill-opacity="0.62">
<circle cx="1758.4" cy="733" r="7.8"/>
<circle cx="1857.4" cy="674.5" r="7.8"/>
<circle cx="1842.8" cy="686.9" r="7.8"/>
<circle cx="1770.8" cy="780.3" r="7.8"/>
<circle cx="1755" cy="792.7" r="7.8"/>
<circle cx="1761.8" cy="792.7" r="7.8"/>
</g>
<g fill="#35995a" fill-opacity="0.45">
<circle cx="1876.7" cy="891.8" r="7.8"/>
<circle cx="1940.4" cy="826.5" r="7.8"/>
<circle cx="1913.2" cy="847.9" r="7.8"/>
<circle cx="1947.7" cy="846" r="7.8"/>
<circle cx="1908.2" cy="877.9" r="7.8"/>
<circle cx="1954.3" cy="801.7" r="7.8"/>
<circle cx="1907.4" cy="853" r="7.8"/>
<circle cx="1928.1" cy="818.8" r="7.8"/>
<circle cx="1893.8" cy="863.1" r="7.8"/>
<circle cx="1914.2" cy="863.3" r="7.8"/>
<circle cx="1943.8" cy="844" r="7.8"/>
<circle cx="1914.5" cy="884.2" r="7.8"/>
<circle cx="1915.8" cy="841.7" r="7.8"/>
<circle cx="1941.1" cy="857.8" r="7.8"/>
<circle cx="1950.2" cy="823.9" r="7.8"/>
<circle cx="1921.6" cy="849" r="7.8"/>
<circle cx="1919.9" cy="845.3" r="7.8"/>
<circle cx="1868.7" cy="894.3" r="7.8"/>
<circle cx="1914.2" cy="851.8" r="7.8"/>
<circle cx="1917.6" cy="867.1" r="7.8"/>
<circle cx="1925.1" cy="848.8" r="7.8"/>
<circle cx="1888.9" cy="891.2" r="7.8"/>
<circle cx="1939.6" cy="825.8" r="7.8"/>
<circle cx="1935.1" cy="848.5" r="7.8"/>
<circle cx="1874.1" cy="897.6" r="7.8"/>
<circle cx="1931.7" cy="858.4" r="7.8"/>
<circle cx="1943.8" cy="855.3" r="7.8"/>
<circle cx="1903" cy="861.8" r="7.8"/>
<circle cx="1895.6" cy="867.9" r="7.8"/>
<circle cx="1894.1" cy="893" r="7.8"/>
<circle cx="1938.4" cy="844.2" r="7.8"/>
<circle cx="1952" cy="802.5" r="7.8"/>
<circle cx="1934.3" cy="854.4" r="7.8"/>
<circle cx="1954.2" cy="800.3" r="7.8"/>
<circle cx="1886.8" cy="878.3" r="7.8"/>
<circle cx="1955.3" cy="821.8" r="7.8"/>
<circle cx="1939.9" cy="864.5" r="7.8"/>
<circle cx="1948.2" cy="838.9" r="7.8"/>
<circle cx="1870.5" cy="893.8" r="7.8"/>
<circle cx="1897.6" cy="866.2" r="7.8"/>
<circle cx="1942.2" cy="840" r="7.8"/>
<circle cx="1920.9" cy="823" r="7.8"/>
<circle cx="1891.1" cy="885.1" r="7.8"/>
<circle cx="1874.7" cy="895.9" r="7.8"/>
<circle cx="1887.5" cy="880.4" r="7.8"/>
<circle cx="1873.5" cy="898.8" r="7.8"/>
<circle cx="1955.1" cy="830.7" r="7.8"/>
<circle cx="1923.5" cy="847.9" r="7.8"/>
<circle cx="1961.3" cy="810.6" r="7.8"/>
<circle cx="1929.1" cy="869.3" r="7.8"/>
<circle cx="1895.1" cy="891.7" r="7.8"/>
<circle cx="1953.5" cy="831.7" r="7.8"/>
<circle cx="1921.7" cy="864" r="7.8"/>
<circle cx="1892.5" cy="885.7" r="7.8"/>
<circle cx="1943.6" cy="806.8" r="7.8"/>
<circle cx="1959.2" cy="817.4" r="7.8"/>
<circle cx="1946.3" cy="833.6" r="7.8"/>
<circle cx="1953.6" cy="813.9" r="7.8"/>
<circle cx="1955.3" cy="801.8" r="7.8"/>
<circle cx="1932.9" cy="818" r="7.8"/>
<circle cx="1918.7" cy="858" r="7.8"/>
<circle cx="1928.5" cy="844.3" r="7.8"/>
<circle cx="1947" cy="842.2" r="7.8"/>
<circle cx="1903.7" cy="865.9" r="7.8"/>
<circle cx="1916.6" cy="853.6" r="7.8"/>
<circle cx="1928.8" cy="846.7" r="7.8"/>
<circle cx="1904.8" cy="860.1" r="7.8"/>
<circle cx="1890.9" cy="869.6" r="7.8"/>
<circle cx="1879.2" cy="882.8" r="7.8"/>
<circle cx="1952.5" cy="832.7" r="7.8"/>
<circle cx="1900.7" cy="875.7" r="7.8"/>
<circle cx="1937.6" cy="863.9" r="7.8"/>
<circle cx="1939.8" cy="804.1" r="7.8"/>
<circle cx="1879.7" cy="878.8" r="7.8"/>
<circle cx="1867.2" cy="906.5" r="7.8"/>
<circle cx="1960.2" cy="813.7" r="7.8"/>
<circle cx="1944.3" cy="846.1" r="7.8"/>
<circle cx="1875.8" cy="898.6" r="7.8"/>
<circle cx="1960.2" cy="811.5" r="7.8"/>
<circle cx="1923.9" cy="843.3" r="7.8"/>
<circle cx="1888.2" cy="881" r="7.8"/>
<circle cx="1926.6" cy="865.1" r="7.8"/>
<circle cx="1947.6" cy="821.1" r="7.8"/>
<circle cx="1888.5" cy="873.7" r="7.8"/>
<circle cx="1940.9" cy="861.2" r="7.8"/>
<circle cx="1874" cy="887.4" r="7.8"/>
<circle cx="1921" cy="832.6" r="7.8"/>
<circle cx="1914" cy="837.7" r="7.8"/>
<circle cx="1907.8" cy="847.9" r="7.8"/>
<circle cx="1912.9" cy="869.7" r="7.8"/>
<circle cx="1947.6" cy="843.4" r="7.8"/>
<circle cx="1925.8" cy="856.9" r="7.8"/>
<circle cx="1922.2" cy="879.3" r="7.8"/>
<circle cx="1912.9" cy="880.6" r="7.8"/>
<circle cx="1927.9" cy="869.9" r="7.8"/>
</g>
<g fill="#35995a" fill-opacity="0.6">
<circle cx="1900" cy="910.8" r="7.8"/>
<circle cx="1904" cy="910.8" r="7.8"/>
<circle cx="1908" cy="910.8" r="7.8"/>
<circle cx="1912" cy="910.8" r="7.8"/>
<circle cx="1916" cy="910.8" r="7.8"/>
<circle cx="1920" cy="910.8" r="7.8"/>
<circle cx="1924" cy="910.8" r="7.8"/>
<circle cx="1928" cy="910.8" r="7.8"/>
<circle cx="1932" cy="910.8" r="7.8"/>
<circle cx="1936" cy="910.8" r="7.8"/>
<circle cx="1940" cy="910.8" r="7.8"/>
<circle cx="1944" cy="910.8" r="7.8"/>
<circle cx="1948" cy="910.8" r="7.8"/>
<circle cx="1952" cy="910.8" r="7.8"/>
</g>
<g fill="#35995a" fill-opacity="0.6">
<circle cx="2075.7" cy="706" r="7.8"/>
<circle cx="2035.2" cy="715" r="7.8"/>
<circle cx="2031.8" cy="722.9" r="7.8"/>
<circle cx="2031.8" cy="735.3" r="7.8"/>
<circle cx="2018.3" cy="742.1" r="7.8"/>
<circle cx="2015" cy="751.1" r="7.8"/>
<circle cx="2000.3" cy="757.8" r="7.8"/>
<circle cx="2019.5" cy="763.4" r="7.8"/>
<circle cx="2008.2" cy="772.4" r="7.8"/>
<circle cx="2003.7" cy="779.2" r="7.8"/>
<circle cx="1982.3" cy="766.8" r="7.8"/>
<circle cx="1982.3" cy="779.2" r="7.8"/>
<circle cx="2010.5" cy="793.8" r="7.8"/>
<circle cx="1977.8" cy="822" r="7.8"/>
<circle cx="2027.3" cy="822" r="7.8"/>
<circle cx="2016.1" cy="827.6" r="7.8"/>
<circle cx="2015" cy="842.2" r="7.8"/>
<circle cx="2003.7" cy="842.2" r="7.8"/>
<circle cx="2000.3" cy="850.1" r="7.8"/>
<circle cx="1979" cy="852.3" r="7.8"/>
<circle cx="1972.2" cy="854.6" r="7.8"/>
<circle cx="1958.7" cy="787.1" r="7.8"/>
<circle cx="1962.1" cy="805.1" r="7.8"/>
<circle cx="1962.1" cy="836.6" r="7.8"/>
<circle cx="1957.6" cy="863.6" r="7.8"/>
<circle cx="1950.8" cy="877.1" r="7.8"/>
<circle cx="1944.1" cy="895.1" r="7.8"/>
<circle cx="1959.8" cy="910.9" r="7.8"/>
<circle cx="1998.1" cy="910.9" r="7.8"/>
<circle cx="1921.6" cy="899.6" r="7.8"/>
<circle cx="1932.8" cy="883.8" r="7.8"/>
<circle cx="1863" cy="910.9" r="7.8"/>
<circle cx="1876.5" cy="872.6" r="7.8"/>
<circle cx="1883.3" cy="895.1" r="7.8"/>
<circle cx="2000.3" cy="757.8" r="7.8"/>
</g>
<line x1="1732.5" y1="926.3" x2="2079.1" y2="553.5" stroke="#000" stroke-width="3" stroke-dasharray="13.5 8.5"/>
<line x1="1731.2" y1="551.3" x2="1731.2" y2="928.2" stroke="#333" stroke-width="1.5"/>
<line x1="1730.5" y1="927.5" x2="2091" y2="927.5" stroke="#333" stroke-width="1.5"/>
<line x1="1718.8" y1="572.8" x2="1731.2" y2="572.8" stroke="#333" stroke-width="1.5"/>
<text x="1707.2" y="567.6" font-size="15" text-anchor="end" textLength="14.5" lengthAdjust="spacingAndGlyphs">−3</text>
<text x="1691.2" y="580.5" font-size="23" text-anchor="end" textLength="23" lengthAdjust="spacingAndGlyphs">10</text>
<line x1="1718.8" y1="685.3" x2="1731.2" y2="685.3" stroke="#333" stroke-width="1.5"/>
<text x="1707.2" y="682.5" font-size="15" text-anchor="end" textLength="14.5" lengthAdjust="spacingAndGlyphs">−4</text>
<text x="1691.2" y="695.4" font-size="23" text-anchor="end" textLength="23" lengthAdjust="spacingAndGlyphs">10</text>
<line x1="1718.8" y1="797.9" x2="1731.2" y2="797.9" stroke="#333" stroke-width="1.5"/>
<text x="1707.2" y="796.1" font-size="15" text-anchor="end" textLength="14.5" lengthAdjust="spacingAndGlyphs">−5</text>
<text x="1691.2" y="809" font-size="23" text-anchor="end" textLength="23" lengthAdjust="spacingAndGlyphs">10</text>
<line x1="1718.8" y1="910.4" x2="1731.2" y2="910.4" stroke="#333" stroke-width="1.5"/>
<text x="1707.2" y="917.8" font-size="23" text-anchor="end" textLength="12.5" lengthAdjust="spacingAndGlyphs">0</text>
<line x1="1747.3" y1="927.5" x2="1747.3" y2="939.5" stroke="#333" stroke-width="1.5"/>
<text x="1747.3" y="973" font-size="23" text-anchor="middle" textLength="12.5" lengthAdjust="spacingAndGlyphs">0</text>
<line x1="1851.8" y1="927.5" x2="1851.8" y2="939.5" stroke="#333" stroke-width="1.5"/>
<text x="1831.5" y="973" font-size="23" textLength="23" lengthAdjust="spacingAndGlyphs">10</text>
<text x="1856" y="961.2" font-size="15" textLength="14.5" lengthAdjust="spacingAndGlyphs">−5</text>
<line x1="1956.3" y1="927.5" x2="1956.3" y2="939.5" stroke="#333" stroke-width="1.5"/>
<text x="1936" y="973" font-size="23" textLength="23" lengthAdjust="spacingAndGlyphs">10</text>
<text x="1960.5" y="961.2" font-size="15" textLength="14.5" lengthAdjust="spacingAndGlyphs">−4</text>
<line x1="2060.8" y1="927.5" x2="2060.8" y2="939.5" stroke="#333" stroke-width="1.5"/>
<text x="2040.5" y="973" font-size="23" textLength="23" lengthAdjust="spacingAndGlyphs">10</text>
<text x="2065" y="961.2" font-size="15" textLength="14.5" lengthAdjust="spacingAndGlyphs">−3</text>
<text x="1765.6" y="580.6" font-size="21" textLength="22.6" lengthAdjust="spacingAndGlyphs" fill="#d8400f">16</text>
<text x="2052.8" y="907.4" font-size="21" textLength="36.4" lengthAdjust="spacingAndGlyphs" fill="#35995a">134</text>
<text transform="translate(1153.3 250.7) rotate(-90)" x="0" y="0" font-size="26.5" text-anchor="middle" fill="#000" textLength="241.5" lengthAdjust="spacingAndGlyphs">Frequency at acute</text>
<text transform="translate(1642.7 257.9) rotate(-90)" x="0" y="0" font-size="26.5" text-anchor="middle" fill="#000" textLength="233.1" lengthAdjust="spacingAndGlyphs">Frequency at conv</text>
<text transform="translate(1151 738.5) rotate(-90)" x="0" y="0" font-size="26.5" text-anchor="middle" fill="#000" textLength="242.7" lengthAdjust="spacingAndGlyphs">Frequency at acute</text>
<text transform="translate(1640 740.2) rotate(-90)" x="0" y="0" font-size="26.5" text-anchor="middle" fill="#000" textLength="233.1" lengthAdjust="spacingAndGlyphs">Frequency at conv</text>
<text x="1284.9" y="525" font-size="26.5" textLength="277.7" lengthAdjust="spacingAndGlyphs">Frequency at baseline</text>
<text x="1784.2" y="525.9" font-size="26.5" textLength="241.4" lengthAdjust="spacingAndGlyphs">Frequency at acute</text>
<text x="1284.8" y="1014.3" font-size="26.5" textLength="277.2" lengthAdjust="spacingAndGlyphs">Frequency at baseline</text>
<text x="1790.7" y="1014.3" font-size="26.5" textLength="241.1" lengthAdjust="spacingAndGlyphs">Frequency at acute</text>
<text x="1118.2" y="257" font-size="26.5" text-anchor="end" textLength="122.6" lengthAdjust="spacingAndGlyphs">TIRTL-seq</text>
<text x="1105.7" y="288.2" font-size="26.5" text-anchor="end" textLength="91" lengthAdjust="spacingAndGlyphs">on CD8</text>
<text x="1107" y="276" font-size="15">+</text>
<text x="1117.6" y="739.4" font-size="26.5" text-anchor="end" textLength="122.6" lengthAdjust="spacingAndGlyphs">TIRTL-seq</text>
<text x="1105.1" y="770.9" font-size="26.5" text-anchor="end" textLength="91" lengthAdjust="spacingAndGlyphs">on CD4</text>
<text x="1106.4" y="758.7" font-size="15">+</text>
<text x="0" y="1071.5" font-size="36" font-weight="bold">c</text>
<text x="300.8" y="1104.6" font-size="26.5" textLength="271.4" lengthAdjust="spacingAndGlyphs">Baseline versus acute</text>
<text x="1106.3" y="1105" font-size="26.5" textLength="339.5" lengthAdjust="spacingAndGlyphs">Acute versus convalescent</text>
<g fill="#b3b3b3" fill-opacity="0.5">
<circle cx="155.4" cy="1335.4" r="7.8"/>
<circle cx="208.3" cy="1320" r="7.8"/>
<circle cx="161.1" cy="1342.9" r="7.8"/>
<circle cx="193.7" cy="1302.3" r="7.8"/>
<circle cx="202.7" cy="1290.2" r="7.8"/>
<circle cx="226.2" cy="1302" r="7.8"/>
<circle cx="192.9" cy="1293.6" r="7.8"/>
<circle cx="154.3" cy="1344.7" r="7.8"/>
<circle cx="150.9" cy="1352.7" r="7.8"/>
<circle cx="187.9" cy="1325.3" r="7.8"/>
<circle cx="175.4" cy="1320.4" r="7.8"/>
<circle cx="234.3" cy="1302.2" r="7.8"/>
<circle cx="224.7" cy="1300.3" r="7.8"/>
<circle cx="230" cy="1299.8" r="7.8"/>
<circle cx="182.9" cy="1311.7" r="7.8"/>
<circle cx="187.6" cy="1313.2" r="7.8"/>
<circle cx="192.7" cy="1320.9" r="7.8"/>
<circle cx="161.8" cy="1329.5" r="7.8"/>
<circle cx="175.9" cy="1328.6" r="7.8"/>
<circle cx="144.2" cy="1344.4" r="7.8"/>
<circle cx="224.3" cy="1312.4" r="7.8"/>
<circle cx="179.1" cy="1303.1" r="7.8"/>
<circle cx="235.5" cy="1296.9" r="7.8"/>
<circle cx="144.6" cy="1343.8" r="7.8"/>
<circle cx="224" cy="1320.3" r="7.8"/>
<circle cx="231.1" cy="1288.9" r="7.8"/>
<circle cx="184.1" cy="1297.5" r="7.8"/>
<circle cx="220.8" cy="1320" r="7.8"/>
<circle cx="184.8" cy="1327.5" r="7.8"/>
<circle cx="232.5" cy="1307.6" r="7.8"/>
</g>
<g fill="#b3b3b3" fill-opacity="0.5">
<circle cx="240.4" cy="1450.6" r="7.8"/>
<circle cx="263.2" cy="1409.6" r="7.8"/>
<circle cx="271.9" cy="1402.4" r="7.8"/>
<circle cx="274.5" cy="1407.9" r="7.8"/>
<circle cx="261.4" cy="1446.5" r="7.8"/>
<circle cx="264.5" cy="1445.9" r="7.8"/>
<circle cx="265.3" cy="1390.8" r="7.8"/>
<circle cx="271.6" cy="1424.9" r="7.8"/>
<circle cx="250.8" cy="1399.8" r="7.8"/>
<circle cx="270.5" cy="1424.5" r="7.8"/>
<circle cx="273.7" cy="1436.5" r="7.8"/>
<circle cx="274.5" cy="1423.4" r="7.8"/>
<circle cx="264.9" cy="1426.3" r="7.8"/>
<circle cx="248.9" cy="1448" r="7.8"/>
</g>
<g fill="#b3b3b3" fill-opacity="0.5">
<circle cx="327.6" cy="1284.6" r="7.8"/>
<circle cx="314.7" cy="1309.4" r="7.8"/>
<circle cx="312" cy="1288" r="7.8"/>
<circle cx="297.5" cy="1310.9" r="7.8"/>
<circle cx="298.7" cy="1311.6" r="7.8"/>
<circle cx="319.8" cy="1309.2" r="7.8"/>
<circle cx="311.3" cy="1332" r="7.8"/>
<circle cx="322.9" cy="1321.4" r="7.8"/>
<circle cx="317.5" cy="1323.7" r="7.8"/>
<circle cx="331" cy="1304.9" r="7.8"/>
<circle cx="321.9" cy="1305.4" r="7.8"/>
<circle cx="313.8" cy="1326.6" r="7.8"/>
</g>
<g fill="#b3b3b3" fill-opacity="0.5">
<circle cx="311.9" cy="1261.1" r="7.8"/>
<circle cx="303.4" cy="1267.5" r="7.8"/>
<circle cx="308.3" cy="1263.7" r="7.8"/>
<circle cx="357" cy="1244.6" r="7.8"/>
<circle cx="302.9" cy="1267.7" r="7.8"/>
<circle cx="365.6" cy="1223.7" r="7.8"/>
<circle cx="340.7" cy="1239" r="7.8"/>
<circle cx="322" cy="1277.4" r="7.8"/>
<circle cx="367" cy="1231.7" r="7.8"/>
<circle cx="335.5" cy="1261.1" r="7.8"/>
<circle cx="315.9" cy="1258.2" r="7.8"/>
<circle cx="317.4" cy="1259.2" r="7.8"/>
<circle cx="349.5" cy="1240.8" r="7.8"/>
<circle cx="361.6" cy="1241.6" r="7.8"/>
</g>
<polygon points="118.9,1452.2 118.9,1182.2 130.9,1182.2 131.6,1369.2 138.4,1358 149.6,1350.5 164.5,1343 179.5,1335.5 194.5,1328 209.4,1320.6 224.4,1311.2 239.3,1305.6 254.3,1298.1 269.3,1290.6 284.2,1283.2 299.2,1271.9 310.4,1260.7 321.6,1253.2 336.6,1245.8 347.8,1234.5 359,1223.3 365.7,1217.7 364.6,1228.9 355.3,1238.3 344.1,1249.5 332.8,1260.7 325.4,1271.9 317.9,1283.2 313.4,1294.4 306.7,1309.3 295.4,1324.3 284.2,1339.3 276.7,1354.2 269.3,1369.2 261.8,1384.1 254.3,1395.4 246.8,1406.6 241.2,1421.5 237.5,1436.5 235.6,1444 235.6,1452.2" fill="#b3b3b3" stroke="#b3b3b3" stroke-width="4" stroke-linejoin="round"/>
<g fill="#b3b3b3" fill-opacity="0.5">
<circle cx="254.8" cy="1443.6" r="7.8"/>
<circle cx="274" cy="1403.6" r="7.8"/>
<circle cx="275.2" cy="1427.3" r="7.8"/>
<circle cx="241.1" cy="1445.1" r="7.8"/>
<circle cx="249.9" cy="1408.8" r="7.8"/>
<circle cx="256.8" cy="1424.6" r="7.8"/>
<circle cx="244.5" cy="1430.1" r="7.8"/>
<circle cx="273.6" cy="1420.4" r="7.8"/>
<circle cx="272" cy="1426.7" r="7.8"/>
<circle cx="273.3" cy="1401.8" r="7.8"/>
<circle cx="254.1" cy="1417.9" r="7.8"/>
<circle cx="243.6" cy="1446.2" r="7.8"/>
</g>
<g fill="#b3b3b3" fill-opacity="0.55">
<circle cx="129.2" cy="1165.9" r="7.8"/>
<circle cx="123.6" cy="1174.2" r="7.8"/>
<circle cx="138.5" cy="1193" r="7.8"/>
<circle cx="126.9" cy="1159.2" r="7.8"/>
<circle cx="148.4" cy="1250.3" r="7.8"/>
<circle cx="168.3" cy="1249.3" r="7.8"/>
<circle cx="155" cy="1265.2" r="7.8"/>
<circle cx="161.7" cy="1275.8" r="7.8"/>
<circle cx="178.2" cy="1286.8" r="7.8"/>
<circle cx="216.3" cy="1281.8" r="7.8"/>
<circle cx="232.9" cy="1293.4" r="7.8"/>
<circle cx="201.4" cy="1301.7" r="7.8"/>
<circle cx="189.8" cy="1318.2" r="7.8"/>
<circle cx="206.4" cy="1314.9" r="7.8"/>
<circle cx="143.4" cy="1338.1" r="7.8"/>
<circle cx="140.1" cy="1346.4" r="7.8"/>
<circle cx="153.4" cy="1331.5" r="7.8"/>
<circle cx="312.4" cy="1237.1" r="7.8"/>
<circle cx="328.9" cy="1248.7" r="7.8"/>
<circle cx="373.7" cy="1208.3" r="7.8"/>
<circle cx="380.3" cy="1223.8" r="7.8"/>
<circle cx="360.4" cy="1220.5" r="7.8"/>
<circle cx="348.8" cy="1238.7" r="7.8"/>
<circle cx="289.2" cy="1260.3" r="7.8"/>
<circle cx="295.8" cy="1265.2" r="7.8"/>
<circle cx="290.8" cy="1371.2" r="7.8"/>
<circle cx="271" cy="1427.5" r="7.8"/>
<circle cx="252.8" cy="1424.2" r="7.8"/>
<circle cx="266" cy="1449.1" r="7.8"/>
<circle cx="252.8" cy="1449.1" r="7.8"/>
<circle cx="249.4" cy="1447.4" r="7.8"/>
<circle cx="259.4" cy="1407.7" r="7.8"/>
<circle cx="325.6" cy="1314.9" r="7.8"/>
<circle cx="315.7" cy="1321.6" r="7.8"/>
<circle cx="305.7" cy="1344.7" r="7.8"/>
<circle cx="310.7" cy="1343.1" r="7.8"/>
<circle cx="332.2" cy="1295.1" r="7.8"/>
<circle cx="289.2" cy="1324.9" r="7.8"/>
<circle cx="272.6" cy="1377.9" r="7.8"/>
<circle cx="150.1" cy="1305" r="7.8"/>
<circle cx="165" cy="1298.4" r="7.8"/>
<circle cx="179.9" cy="1288.4" r="7.8"/>
</g>
<g fill="#14bdb8" fill-opacity="0.85">
<circle cx="124.7" cy="1346.4" r="7.8"/>
<circle cx="124.7" cy="1350.8" r="7.8"/>
<circle cx="124.7" cy="1355.2" r="7.8"/>
<circle cx="124.7" cy="1359.6" r="7.8"/>
<circle cx="124.7" cy="1365" r="7.8"/>
</g>
<g fill="#0b6e4a" fill-opacity="0.88">
<circle cx="124.7" cy="1259" r="7.8"/>
<circle cx="124.7" cy="1274.3" r="7.8"/>
<circle cx="124.7" cy="1279.8" r="7.8"/>
<circle cx="124.7" cy="1319.1" r="7.8"/>
<circle cx="124.7" cy="1338.8" r="7.8"/>
<circle cx="124.7" cy="1381.4" r="7.8"/>
<circle cx="172.8" cy="1392.4" r="7.8"/>
</g>
<line x1="113.5" y1="1461.2" x2="398.5" y2="1159.9" stroke="#000" stroke-width="3" stroke-dasharray="13.5 8.5"/>
<line x1="112" y1="1136.7" x2="112" y2="1463.3" stroke="#333" stroke-width="1.5"/>
<line x1="111.3" y1="1462.6" x2="398.5" y2="1462.6" stroke="#333" stroke-width="1.5"/>
<line x1="99.6" y1="1183.3" x2="112" y2="1183.3" stroke="#333" stroke-width="1.5"/>
<text x="89" y="1177.2" font-size="15" text-anchor="end" textLength="14.5" lengthAdjust="spacingAndGlyphs">−2</text>
<text x="73" y="1190.1" font-size="23" text-anchor="end" textLength="23" lengthAdjust="spacingAndGlyphs">10</text>
<line x1="99.6" y1="1249.3" x2="112" y2="1249.3" stroke="#333" stroke-width="1.5"/>
<text x="89" y="1243.2" font-size="15" text-anchor="end" textLength="14.5" lengthAdjust="spacingAndGlyphs">−3</text>
<text x="73" y="1256.1" font-size="23" text-anchor="end" textLength="23" lengthAdjust="spacingAndGlyphs">10</text>
<line x1="99.6" y1="1315.3" x2="112" y2="1315.3" stroke="#333" stroke-width="1.5"/>
<text x="89" y="1309.2" font-size="15" text-anchor="end" textLength="14.5" lengthAdjust="spacingAndGlyphs">−4</text>
<text x="73" y="1322.1" font-size="23" text-anchor="end" textLength="23" lengthAdjust="spacingAndGlyphs">10</text>
<line x1="99.6" y1="1381.3" x2="112" y2="1381.3" stroke="#333" stroke-width="1.5"/>
<text x="89" y="1375.2" font-size="15" text-anchor="end" textLength="14.5" lengthAdjust="spacingAndGlyphs">−5</text>
<text x="73" y="1388.1" font-size="23" text-anchor="end" textLength="23" lengthAdjust="spacingAndGlyphs">10</text>
<line x1="99.6" y1="1447.4" x2="112" y2="1447.4" stroke="#333" stroke-width="1.5"/>
<text x="89" y="1454.2" font-size="23" text-anchor="end" textLength="12.5" lengthAdjust="spacingAndGlyphs">0</text>
<line x1="124.9" y1="1462.6" x2="124.9" y2="1474.6" stroke="#333" stroke-width="1.5"/>
<text x="124.9" y="1508.6" font-size="23" text-anchor="middle" textLength="12.5" lengthAdjust="spacingAndGlyphs">0</text>
<line x1="188.1" y1="1462.6" x2="188.1" y2="1474.6" stroke="#333" stroke-width="1.5"/>
<text x="168.3" y="1508.6" font-size="23" textLength="23" lengthAdjust="spacingAndGlyphs">10</text>
<text x="192.8" y="1496.8" font-size="15" textLength="14.5" lengthAdjust="spacingAndGlyphs">−5</text>
<line x1="251.1" y1="1462.6" x2="251.1" y2="1474.6" stroke="#333" stroke-width="1.5"/>
<text x="231.3" y="1508.6" font-size="23" textLength="23" lengthAdjust="spacingAndGlyphs">10</text>
<text x="255.8" y="1496.8" font-size="15" textLength="14.5" lengthAdjust="spacingAndGlyphs">−4</text>
<line x1="314" y1="1462.6" x2="314" y2="1474.6" stroke="#333" stroke-width="1.5"/>
<text x="294.2" y="1508.6" font-size="23" textLength="23" lengthAdjust="spacingAndGlyphs">10</text>
<text x="318.7" y="1496.8" font-size="15" textLength="14.5" lengthAdjust="spacingAndGlyphs">−3</text>
<line x1="377.3" y1="1462.6" x2="377.3" y2="1474.6" stroke="#333" stroke-width="1.5"/>
<text x="357.5" y="1508.6" font-size="23" textLength="23" lengthAdjust="spacingAndGlyphs">10</text>
<text x="382" y="1496.8" font-size="15" textLength="14.5" lengthAdjust="spacingAndGlyphs">−2</text>
<g fill="#b3b3b3" fill-opacity="0.5">
<circle cx="557.7" cy="1335.4" r="7.8"/>
<circle cx="610.6" cy="1320" r="7.8"/>
<circle cx="563.4" cy="1342.9" r="7.8"/>
<circle cx="596" cy="1302.3" r="7.8"/>
<circle cx="605" cy="1290.2" r="7.8"/>
<circle cx="628.5" cy="1302" r="7.8"/>
<circle cx="595.2" cy="1293.6" r="7.8"/>
<circle cx="556.6" cy="1344.7" r="7.8"/>
<circle cx="553.2" cy="1352.7" r="7.8"/>
<circle cx="590.2" cy="1325.3" r="7.8"/>
<circle cx="577.7" cy="1320.4" r="7.8"/>
<circle cx="636.6" cy="1302.2" r="7.8"/>
<circle cx="627" cy="1300.3" r="7.8"/>
<circle cx="632.3" cy="1299.8" r="7.8"/>
<circle cx="585.2" cy="1311.7" r="7.8"/>
<circle cx="589.9" cy="1313.2" r="7.8"/>
<circle cx="595" cy="1320.9" r="7.8"/>
<circle cx="564.1" cy="1329.5" r="7.8"/>
<circle cx="578.2" cy="1328.6" r="7.8"/>
<circle cx="546.5" cy="1344.4" r="7.8"/>
<circle cx="626.6" cy="1312.4" r="7.8"/>
<circle cx="581.4" cy="1303.1" r="7.8"/>
<circle cx="637.8" cy="1296.9" r="7.8"/>
<circle cx="546.9" cy="1343.8" r="7.8"/>
<circle cx="626.3" cy="1320.3" r="7.8"/>
<circle cx="633.4" cy="1288.9" r="7.8"/>
<circle cx="586.4" cy="1297.5" r="7.8"/>
<circle cx="623.1" cy="1320" r="7.8"/>
<circle cx="587.1" cy="1327.5" r="7.8"/>
<circle cx="634.8" cy="1307.6" r="7.8"/>
</g>
<g fill="#b3b3b3" fill-opacity="0.5">
<circle cx="642.7" cy="1450.6" r="7.8"/>
<circle cx="665.5" cy="1409.6" r="7.8"/>
<circle cx="674.2" cy="1402.4" r="7.8"/>
<circle cx="676.8" cy="1407.9" r="7.8"/>
<circle cx="663.7" cy="1446.5" r="7.8"/>
<circle cx="666.8" cy="1445.9" r="7.8"/>
<circle cx="667.6" cy="1390.8" r="7.8"/>
<circle cx="673.9" cy="1424.9" r="7.8"/>
<circle cx="653.1" cy="1399.8" r="7.8"/>
<circle cx="672.8" cy="1424.5" r="7.8"/>
<circle cx="676" cy="1436.5" r="7.8"/>
<circle cx="676.8" cy="1423.4" r="7.8"/>
<circle cx="667.2" cy="1426.3" r="7.8"/>
<circle cx="651.2" cy="1448" r="7.8"/>
</g>
<g fill="#b3b3b3" fill-opacity="0.5">
<circle cx="729.9" cy="1284.6" r="7.8"/>
<circle cx="717" cy="1309.4" r="7.8"/>
<circle cx="714.3" cy="1288" r="7.8"/>
<circle cx="699.8" cy="1310.9" r="7.8"/>
<circle cx="701" cy="1311.6" r="7.8"/>
<circle cx="722.1" cy="1309.2" r="7.8"/>
<circle cx="713.6" cy="1332" r="7.8"/>
<circle cx="725.2" cy="1321.4" r="7.8"/>
<circle cx="719.8" cy="1323.7" r="7.8"/>
<circle cx="733.3" cy="1304.9" r="7.8"/>
<circle cx="724.2" cy="1305.4" r="7.8"/>
<circle cx="716.1" cy="1326.6" r="7.8"/>
</g>
<g fill="#b3b3b3" fill-opacity="0.5">
<circle cx="714.2" cy="1261.1" r="7.8"/>
<circle cx="705.7" cy="1267.5" r="7.8"/>
<circle cx="710.6" cy="1263.7" r="7.8"/>
<circle cx="759.3" cy="1244.6" r="7.8"/>
<circle cx="705.2" cy="1267.7" r="7.8"/>
<circle cx="767.9" cy="1223.7" r="7.8"/>
<circle cx="743" cy="1239" r="7.8"/>
<circle cx="724.3" cy="1277.4" r="7.8"/>
<circle cx="769.3" cy="1231.7" r="7.8"/>
<circle cx="737.8" cy="1261.1" r="7.8"/>
<circle cx="718.2" cy="1258.2" r="7.8"/>
<circle cx="719.7" cy="1259.2" r="7.8"/>
<circle cx="751.8" cy="1240.8" r="7.8"/>
<circle cx="763.9" cy="1241.6" r="7.8"/>
</g>
<polygon points="521.2,1452.2 521.2,1182.2 533.2,1182.2 533.9,1369.2 540.7,1358 551.9,1350.5 566.8,1343 581.8,1335.5 596.8,1328 611.7,1320.6 626.7,1311.2 641.6,1305.6 656.6,1298.1 671.6,1290.6 686.5,1283.2 701.5,1271.9 712.7,1260.7 723.9,1253.2 738.9,1245.8 750.1,1234.5 761.3,1223.3 768,1217.7 766.9,1228.9 757.6,1238.3 746.4,1249.5 735.1,1260.7 727.7,1271.9 720.2,1283.2 715.7,1294.4 709,1309.3 697.7,1324.3 686.5,1339.3 679,1354.2 671.6,1369.2 664.1,1384.1 656.6,1395.4 649.1,1406.6 643.5,1421.5 639.8,1436.5 637.9,1444 637.9,1452.2" fill="#b3b3b3" stroke="#b3b3b3" stroke-width="4" stroke-linejoin="round"/>
<g fill="#b3b3b3" fill-opacity="0.5">
<circle cx="657.1" cy="1443.6" r="7.8"/>
<circle cx="676.3" cy="1403.6" r="7.8"/>
<circle cx="677.5" cy="1427.3" r="7.8"/>
<circle cx="643.4" cy="1445.1" r="7.8"/>
<circle cx="652.2" cy="1408.8" r="7.8"/>
<circle cx="659.1" cy="1424.6" r="7.8"/>
<circle cx="646.8" cy="1430.1" r="7.8"/>
<circle cx="675.9" cy="1420.4" r="7.8"/>
<circle cx="674.3" cy="1426.7" r="7.8"/>
<circle cx="675.6" cy="1401.8" r="7.8"/>
<circle cx="656.4" cy="1417.9" r="7.8"/>
<circle cx="645.9" cy="1446.2" r="7.8"/>
</g>
<g fill="#b3b3b3" fill-opacity="0.55">
<circle cx="531.5" cy="1165.9" r="7.8"/>
<circle cx="525.9" cy="1174.2" r="7.8"/>
<circle cx="540.8" cy="1193" r="7.8"/>
<circle cx="529.2" cy="1159.2" r="7.8"/>
<circle cx="550.7" cy="1250.3" r="7.8"/>
<circle cx="570.6" cy="1249.3" r="7.8"/>
<circle cx="557.3" cy="1265.2" r="7.8"/>
<circle cx="564" cy="1275.8" r="7.8"/>
<circle cx="580.5" cy="1286.8" r="7.8"/>
<circle cx="618.6" cy="1281.8" r="7.8"/>
<circle cx="635.2" cy="1293.4" r="7.8"/>
<circle cx="603.7" cy="1301.7" r="7.8"/>
<circle cx="592.1" cy="1318.2" r="7.8"/>
<circle cx="608.7" cy="1314.9" r="7.8"/>
<circle cx="545.7" cy="1338.1" r="7.8"/>
<circle cx="542.4" cy="1346.4" r="7.8"/>
<circle cx="555.7" cy="1331.5" r="7.8"/>
<circle cx="714.7" cy="1237.1" r="7.8"/>
<circle cx="731.2" cy="1248.7" r="7.8"/>
<circle cx="776" cy="1208.3" r="7.8"/>
<circle cx="782.6" cy="1223.8" r="7.8"/>
<circle cx="762.7" cy="1220.5" r="7.8"/>
<circle cx="751.1" cy="1238.7" r="7.8"/>
<circle cx="691.5" cy="1260.3" r="7.8"/>
<circle cx="698.1" cy="1265.2" r="7.8"/>
<circle cx="693.1" cy="1371.2" r="7.8"/>
<circle cx="673.3" cy="1427.5" r="7.8"/>
<circle cx="655.1" cy="1424.2" r="7.8"/>
<circle cx="668.3" cy="1449.1" r="7.8"/>
<circle cx="655.1" cy="1449.1" r="7.8"/>
<circle cx="651.7" cy="1447.4" r="7.8"/>
<circle cx="661.7" cy="1407.7" r="7.8"/>
<circle cx="727.9" cy="1314.9" r="7.8"/>
<circle cx="718" cy="1321.6" r="7.8"/>
<circle cx="708" cy="1344.7" r="7.8"/>
<circle cx="713" cy="1343.1" r="7.8"/>
<circle cx="734.5" cy="1295.1" r="7.8"/>
<circle cx="691.5" cy="1324.9" r="7.8"/>
<circle cx="674.9" cy="1377.9" r="7.8"/>
<circle cx="552.4" cy="1305" r="7.8"/>
<circle cx="567.3" cy="1298.4" r="7.8"/>
<circle cx="582.2" cy="1288.4" r="7.8"/>
</g>
<g fill="#e8501e" fill-opacity="0.85">
<circle cx="530.9" cy="1149.4" r="7.8"/>
<circle cx="526.3" cy="1432.6" r="7.8"/>
<circle cx="551.8" cy="1370.9" r="7.8"/>
<circle cx="607.2" cy="1380.3" r="7.8"/>
<circle cx="599.4" cy="1387.7" r="7.8"/>
<circle cx="617.6" cy="1393.9" r="7.8"/>
<circle cx="646.3" cy="1342" r="7.8"/>
</g>
<g fill="#e8501e" fill-opacity="0.8">
<circle cx="526.4" cy="1227" r="7.8"/>
<circle cx="526.4" cy="1231" r="7.8"/>
<circle cx="526.4" cy="1235" r="7.8"/>
<circle cx="526.4" cy="1239" r="7.8"/>
</g>
<g fill="#a51b0b" fill-opacity="0.85">
<circle cx="529.9" cy="1172.4" r="7.8"/>
<circle cx="646.9" cy="1263.3" r="7.8"/>
<circle cx="630.8" cy="1341.7" r="7.8"/>
<circle cx="652.1" cy="1341" r="7.8"/>
<circle cx="586.3" cy="1405.4" r="7.8"/>
</g>
<g fill="#a51b0b" fill-opacity="0.7">
<circle cx="526.4" cy="1249" r="7.8"/>
<circle cx="526.4" cy="1253" r="7.8"/>
<circle cx="526.4" cy="1257" r="7.8"/>
<circle cx="526.4" cy="1261" r="7.8"/>
<circle cx="526.4" cy="1265" r="7.8"/>
<circle cx="526.4" cy="1269" r="7.8"/>
<circle cx="526.4" cy="1273" r="7.8"/>
<circle cx="526.4" cy="1277" r="7.8"/>
<circle cx="526.4" cy="1281" r="7.8"/>
<circle cx="526.4" cy="1285" r="7.8"/>
<circle cx="526.4" cy="1289" r="7.8"/>
<circle cx="526.4" cy="1293" r="7.8"/>
<circle cx="526.4" cy="1297" r="7.8"/>
<circle cx="526.4" cy="1301" r="7.8"/>
<circle cx="526.4" cy="1305" r="7.8"/>
<circle cx="526.4" cy="1309" r="7.8"/>
<circle cx="526.4" cy="1313" r="7.8"/>
<circle cx="526.4" cy="1317" r="7.8"/>
<circle cx="526.4" cy="1321" r="7.8"/>
<circle cx="526.4" cy="1325" r="7.8"/>
<circle cx="526.4" cy="1329" r="7.8"/>
<circle cx="526.4" cy="1333" r="7.8"/>
<circle cx="526.4" cy="1337" r="7.8"/>
<circle cx="526.4" cy="1341" r="7.8"/>
<circle cx="526.4" cy="1345" r="7.8"/>
<circle cx="526.4" cy="1349" r="7.8"/>
<circle cx="526.4" cy="1353" r="7.8"/>
<circle cx="526.4" cy="1357" r="7.8"/>
<circle cx="526.4" cy="1361" r="7.8"/>
<circle cx="526.4" cy="1365" r="7.8"/>
<circle cx="526.4" cy="1369" r="7.8"/>
<circle cx="526.4" cy="1373" r="7.8"/>
<circle cx="526.4" cy="1377" r="7.8"/>
<circle cx="526.4" cy="1381" r="7.8"/>
<circle cx="526.4" cy="1385" r="7.8"/>
<circle cx="526.4" cy="1389" r="7.8"/>
<circle cx="526.4" cy="1393" r="7.8"/>
<circle cx="526.4" cy="1397" r="7.8"/>
</g>
<line x1="515.8" y1="1461.2" x2="800.8" y2="1159.9" stroke="#000" stroke-width="3" stroke-dasharray="13.5 8.5"/>
<line x1="514.3" y1="1136.7" x2="514.3" y2="1463.3" stroke="#333" stroke-width="1.5"/>
<line x1="513.6" y1="1462.6" x2="800.8" y2="1462.6" stroke="#333" stroke-width="1.5"/>
<line x1="501.9" y1="1183.3" x2="514.3" y2="1183.3" stroke="#333" stroke-width="1.5"/>
<text x="491.3" y="1177.2" font-size="15" text-anchor="end" textLength="14.5" lengthAdjust="spacingAndGlyphs">−2</text>
<text x="475.3" y="1190.1" font-size="23" text-anchor="end" textLength="23" lengthAdjust="spacingAndGlyphs">10</text>
<line x1="501.9" y1="1249.3" x2="514.3" y2="1249.3" stroke="#333" stroke-width="1.5"/>
<text x="491.3" y="1243.2" font-size="15" text-anchor="end" textLength="14.5" lengthAdjust="spacingAndGlyphs">−3</text>
<text x="475.3" y="1256.1" font-size="23" text-anchor="end" textLength="23" lengthAdjust="spacingAndGlyphs">10</text>
<line x1="501.9" y1="1315.3" x2="514.3" y2="1315.3" stroke="#333" stroke-width="1.5"/>
<text x="491.3" y="1309.2" font-size="15" text-anchor="end" textLength="14.5" lengthAdjust="spacingAndGlyphs">−4</text>
<text x="475.3" y="1322.1" font-size="23" text-anchor="end" textLength="23" lengthAdjust="spacingAndGlyphs">10</text>
<line x1="501.9" y1="1381.3" x2="514.3" y2="1381.3" stroke="#333" stroke-width="1.5"/>
<text x="491.3" y="1375.2" font-size="15" text-anchor="end" textLength="14.5" lengthAdjust="spacingAndGlyphs">−5</text>
<text x="475.3" y="1388.1" font-size="23" text-anchor="end" textLength="23" lengthAdjust="spacingAndGlyphs">10</text>
<line x1="501.9" y1="1447.4" x2="514.3" y2="1447.4" stroke="#333" stroke-width="1.5"/>
<text x="491.3" y="1454.2" font-size="23" text-anchor="end" textLength="12.5" lengthAdjust="spacingAndGlyphs">0</text>
<line x1="526.9" y1="1462.6" x2="526.9" y2="1474.6" stroke="#333" stroke-width="1.5"/>
<text x="526.9" y="1508.6" font-size="23" text-anchor="middle" textLength="12.5" lengthAdjust="spacingAndGlyphs">0</text>
<line x1="590.1" y1="1462.6" x2="590.1" y2="1474.6" stroke="#333" stroke-width="1.5"/>
<text x="570.3" y="1508.6" font-size="23" textLength="23" lengthAdjust="spacingAndGlyphs">10</text>
<text x="594.8" y="1496.8" font-size="15" textLength="14.5" lengthAdjust="spacingAndGlyphs">−5</text>
<line x1="653" y1="1462.6" x2="653" y2="1474.6" stroke="#333" stroke-width="1.5"/>
<text x="633.2" y="1508.6" font-size="23" textLength="23" lengthAdjust="spacingAndGlyphs">10</text>
<text x="657.7" y="1496.8" font-size="15" textLength="14.5" lengthAdjust="spacingAndGlyphs">−4</text>
<line x1="716.3" y1="1462.6" x2="716.3" y2="1474.6" stroke="#333" stroke-width="1.5"/>
<text x="696.5" y="1508.6" font-size="23" textLength="23" lengthAdjust="spacingAndGlyphs">10</text>
<text x="721" y="1496.8" font-size="15" textLength="14.5" lengthAdjust="spacingAndGlyphs">−3</text>
<line x1="779.6" y1="1462.6" x2="779.6" y2="1474.6" stroke="#333" stroke-width="1.5"/>
<text x="759.8" y="1508.6" font-size="23" textLength="23" lengthAdjust="spacingAndGlyphs">10</text>
<text x="784.3" y="1496.8" font-size="15" textLength="14.5" lengthAdjust="spacingAndGlyphs">−2</text>
<g fill="#b3b3b3" fill-opacity="0.5">
<circle cx="1061.5" cy="1414.7" r="7.8"/>
<circle cx="1050.5" cy="1421.6" r="7.8"/>
<circle cx="1044.7" cy="1420" r="7.8"/>
<circle cx="1080" cy="1363.5" r="7.8"/>
<circle cx="1071.3" cy="1392.6" r="7.8"/>
<circle cx="1062.9" cy="1444" r="7.8"/>
<circle cx="1099.1" cy="1388.4" r="7.8"/>
<circle cx="1048.2" cy="1381.6" r="7.8"/>
<circle cx="1059.6" cy="1440.1" r="7.8"/>
<circle cx="1049" cy="1371" r="7.8"/>
<circle cx="1074.7" cy="1401.9" r="7.8"/>
<circle cx="1059" cy="1369.8" r="7.8"/>
<circle cx="1036.7" cy="1419.5" r="7.8"/>
<circle cx="1094.2" cy="1411.7" r="7.8"/>
<circle cx="1049.6" cy="1425.3" r="7.8"/>
<circle cx="1084.7" cy="1368.9" r="7.8"/>
<circle cx="1078.6" cy="1371.2" r="7.8"/>
<circle cx="1037.4" cy="1382.2" r="7.8"/>
<circle cx="1057.5" cy="1387.8" r="7.8"/>
<circle cx="1079" cy="1429" r="7.8"/>
<circle cx="1055.6" cy="1367.2" r="7.8"/>
<circle cx="1077.4" cy="1401.8" r="7.8"/>
<circle cx="1080.9" cy="1359.5" r="7.8"/>
<circle cx="1047.8" cy="1436.9" r="7.8"/>
<circle cx="1075.8" cy="1415.8" r="7.8"/>
<circle cx="1041.1" cy="1388.1" r="7.8"/>
<circle cx="1097" cy="1411.5" r="7.8"/>
<circle cx="1102.6" cy="1369.1" r="7.8"/>
<circle cx="1065.8" cy="1425.6" r="7.8"/>
<circle cx="1065.1" cy="1424.5" r="7.8"/>
<circle cx="1073.1" cy="1361.8" r="7.8"/>
<circle cx="1057.6" cy="1417.5" r="7.8"/>
<circle cx="1093.2" cy="1395.2" r="7.8"/>
<circle cx="1068.8" cy="1424.5" r="7.8"/>
</g>
<g fill="#b3b3b3" fill-opacity="0.5">
<circle cx="953" cy="1323.5" r="7.8"/>
<circle cx="985.4" cy="1304.5" r="7.8"/>
<circle cx="1008.5" cy="1292.4" r="7.8"/>
<circle cx="956.9" cy="1321.4" r="7.8"/>
<circle cx="990.7" cy="1302.9" r="7.8"/>
<circle cx="1007.2" cy="1296.3" r="7.8"/>
<circle cx="966.7" cy="1317.3" r="7.8"/>
<circle cx="972" cy="1302.3" r="7.8"/>
<circle cx="995.5" cy="1305.2" r="7.8"/>
<circle cx="957.7" cy="1325.6" r="7.8"/>
<circle cx="1011.2" cy="1289.5" r="7.8"/>
<circle cx="980.8" cy="1306.1" r="7.8"/>
<circle cx="945.6" cy="1332.1" r="7.8"/>
<circle cx="985.3" cy="1303.3" r="7.8"/>
<circle cx="1013.9" cy="1290.4" r="7.8"/>
<circle cx="975.6" cy="1314.8" r="7.8"/>
</g>
<g fill="#b3b3b3" fill-opacity="0.5">
<circle cx="1110.3" cy="1292" r="7.8"/>
<circle cx="1124.1" cy="1265.4" r="7.8"/>
<circle cx="1129.3" cy="1258.6" r="7.8"/>
<circle cx="1114.8" cy="1290.9" r="7.8"/>
<circle cx="1107.9" cy="1278" r="7.8"/>
<circle cx="1116.5" cy="1253.5" r="7.8"/>
<circle cx="1115" cy="1278.9" r="7.8"/>
<circle cx="1104.8" cy="1271.5" r="7.8"/>
<circle cx="1105.3" cy="1273.1" r="7.8"/>
<circle cx="1122.1" cy="1253" r="7.8"/>
<circle cx="1127.2" cy="1245.8" r="7.8"/>
<circle cx="1108.7" cy="1277.9" r="7.8"/>
<circle cx="1096" cy="1311.2" r="7.8"/>
<circle cx="1117.7" cy="1256.9" r="7.8"/>
</g>
<polygon points="922.9,1452.2 922.9,1262.6 935.3,1262.6 936.4,1309.3 944.6,1315 959.6,1316.8 974.5,1313.1 989.5,1309.3 1004.5,1301.9 1019.4,1290.6 1034.4,1279.4 1049.3,1271.9 1064.3,1260.7 1079.3,1249.5 1094.2,1234.5 1109.2,1223.3 1120.4,1214 1131.6,1208.4 1139.1,1204.6 1144.7,1205.4 1139.1,1219.6 1131.6,1234.5 1124.1,1245.8 1116.7,1260.7 1109.2,1275.7 1101.7,1286.9 1094.2,1298.1 1086.7,1313.1 1079.3,1328 1071.8,1343 1068,1358 1066.2,1372.9 1068,1387.9 1071.8,1406.6 1071.8,1429 1071.8,1440.2 1077.4,1442.1 1077.4,1452.2" fill="#b3b3b3" stroke="#b3b3b3" stroke-width="4" stroke-linejoin="round"/>
<g fill="#b3b3b3" fill-opacity="0.55">
<circle cx="928.5" cy="1233.8" r="7.8"/>
<circle cx="928.5" cy="1247.8" r="7.8"/>
<circle cx="1189" cy="1149.5" r="7.8"/>
<circle cx="1173.4" cy="1162" r="7.8"/>
<circle cx="1171.8" cy="1171.4" r="7.8"/>
<circle cx="1160.9" cy="1185.4" r="7.8"/>
<circle cx="1153.1" cy="1193.2" r="7.8"/>
<circle cx="1143.7" cy="1204.1" r="7.8"/>
<circle cx="1137.5" cy="1210.4" r="7.8"/>
<circle cx="1125" cy="1213.5" r="7.8"/>
<circle cx="1103.2" cy="1224.4" r="7.8"/>
<circle cx="1097" cy="1230.6" r="7.8"/>
<circle cx="1137.5" cy="1240" r="7.8"/>
<circle cx="1114.1" cy="1249.4" r="7.8"/>
<circle cx="967.5" cy="1250.9" r="7.8"/>
<circle cx="980" cy="1285.2" r="7.8"/>
<circle cx="992.5" cy="1280.5" r="7.8"/>
<circle cx="990.9" cy="1258.7" r="7.8"/>
<circle cx="997.1" cy="1261.8" r="7.8"/>
<circle cx="1012.7" cy="1250.9" r="7.8"/>
<circle cx="1025.2" cy="1247.8" r="7.8"/>
<circle cx="1012.7" cy="1279" r="7.8"/>
<circle cx="1001.8" cy="1297.7" r="7.8"/>
<circle cx="994" cy="1313.3" r="7.8"/>
<circle cx="953.5" cy="1318" r="7.8"/>
<circle cx="970.6" cy="1324.2" r="7.8"/>
<circle cx="941" cy="1319.5" r="7.8"/>
<circle cx="1153.1" cy="1289.9" r="7.8"/>
<circle cx="1168.7" cy="1307.1" r="7.8"/>
<circle cx="1151.5" cy="1328.9" r="7.8"/>
<circle cx="1128.2" cy="1300.8" r="7.8"/>
<circle cx="1136" cy="1303.9" r="7.8"/>
<circle cx="1114.1" cy="1335.1" r="7.8"/>
<circle cx="1104.8" cy="1346" r="7.8"/>
<circle cx="1103.2" cy="1369.4" r="7.8"/>
<circle cx="1097" cy="1385" r="7.8"/>
<circle cx="1098.5" cy="1406.9" r="7.8"/>
<circle cx="1101.6" cy="1417.8" r="7.8"/>
<circle cx="1081.4" cy="1433.4" r="7.8"/>
<circle cx="1072" cy="1422.5" r="7.8"/>
<circle cx="1065.8" cy="1413.1" r="7.8"/>
<circle cx="1092.3" cy="1313.3" r="7.8"/>
<circle cx="1106.3" cy="1447.4" r="7.8"/>
<circle cx="1078.2" cy="1441.2" r="7.8"/>
<circle cx="1059.5" cy="1438.1" r="7.8"/>
<circle cx="1165.6" cy="1172.9" r="7.8"/>
<circle cx="1181.2" cy="1157.3" r="7.8"/>
</g>
<g fill="#0b6e4a" fill-opacity="0.88">
<circle cx="977.5" cy="1384.4" r="7.8"/>
<circle cx="1004" cy="1392.8" r="7.8"/>
<circle cx="1004" cy="1408.4" r="7.8"/>
<circle cx="1040.8" cy="1367.9" r="7.8"/>
<circle cx="1078.2" cy="1369.4" r="7.8"/>
<circle cx="1075.1" cy="1390.6" r="7.8"/>
<circle cx="1081.4" cy="1390.6" r="7.8"/>
<circle cx="1094.5" cy="1347.6" r="7.8"/>
<circle cx="986.9" cy="1441.8" r="7.8"/>
<circle cx="1080.4" cy="1442.7" r="7.8"/>
<circle cx="1094.5" cy="1448.4" r="7.8"/>
<circle cx="1025.2" cy="1448.4" r="7.8"/>
</g>
<g fill="#14bdb8" fill-opacity="0.85">
<circle cx="998.7" cy="1448.4" r="7.8"/>
<circle cx="1003.4" cy="1448.4" r="7.8"/>
<circle cx="1008.1" cy="1448.4" r="7.8"/>
<circle cx="1012.7" cy="1448.4" r="7.8"/>
<circle cx="1017.4" cy="1448.4" r="7.8"/>
<circle cx="1021.5" cy="1448.4" r="7.8"/>
</g>
<line x1="918.2" y1="1461" x2="1202.4" y2="1136.1" stroke="#000" stroke-width="3" stroke-dasharray="13.5 8.5"/>
<line x1="916.7" y1="1136.1" x2="916.7" y2="1463.1" stroke="#333" stroke-width="1.5"/>
<line x1="916" y1="1462.4" x2="1202.4" y2="1462.4" stroke="#333" stroke-width="1.5"/>
<line x1="904.3" y1="1182.3" x2="916.7" y2="1182.3" stroke="#333" stroke-width="1.5"/>
<text x="895.7" y="1176.2" font-size="15" text-anchor="end" textLength="14.5" lengthAdjust="spacingAndGlyphs">−2</text>
<text x="879.7" y="1189.1" font-size="23" text-anchor="end" textLength="23" lengthAdjust="spacingAndGlyphs">10</text>
<line x1="904.3" y1="1248.7" x2="916.7" y2="1248.7" stroke="#333" stroke-width="1.5"/>
<text x="895.7" y="1242.6" font-size="15" text-anchor="end" textLength="14.5" lengthAdjust="spacingAndGlyphs">−3</text>
<text x="879.7" y="1255.5" font-size="23" text-anchor="end" textLength="23" lengthAdjust="spacingAndGlyphs">10</text>
<line x1="904.3" y1="1315.2" x2="916.7" y2="1315.2" stroke="#333" stroke-width="1.5"/>
<text x="895.7" y="1309.1" font-size="15" text-anchor="end" textLength="14.5" lengthAdjust="spacingAndGlyphs">−4</text>
<text x="879.7" y="1322" font-size="23" text-anchor="end" textLength="23" lengthAdjust="spacingAndGlyphs">10</text>
<line x1="904.3" y1="1381.3" x2="916.7" y2="1381.3" stroke="#333" stroke-width="1.5"/>
<text x="895.7" y="1375.2" font-size="15" text-anchor="end" textLength="14.5" lengthAdjust="spacingAndGlyphs">−5</text>
<text x="879.7" y="1388.1" font-size="23" text-anchor="end" textLength="23" lengthAdjust="spacingAndGlyphs">10</text>
<line x1="904.3" y1="1447.4" x2="916.7" y2="1447.4" stroke="#333" stroke-width="1.5"/>
<text x="895.7" y="1454.2" font-size="23" text-anchor="end" textLength="12.5" lengthAdjust="spacingAndGlyphs">0</text>
<line x1="928.8" y1="1462.4" x2="928.8" y2="1474.4" stroke="#333" stroke-width="1.5"/>
<text x="929.2" y="1508.4" font-size="23" text-anchor="middle" textLength="12.5" lengthAdjust="spacingAndGlyphs">0</text>
<line x1="987.2" y1="1462.4" x2="987.2" y2="1474.4" stroke="#333" stroke-width="1.5"/>
<text x="972.4" y="1508.4" font-size="23" textLength="23" lengthAdjust="spacingAndGlyphs">10</text>
<text x="996.9" y="1496.6" font-size="15" textLength="14.5" lengthAdjust="spacingAndGlyphs">−5</text>
<line x1="1045.5" y1="1462.4" x2="1045.5" y2="1474.4" stroke="#333" stroke-width="1.5"/>
<text x="1035.2" y="1508.4" font-size="23" textLength="23" lengthAdjust="spacingAndGlyphs">10</text>
<text x="1059.7" y="1496.6" font-size="15" textLength="14.5" lengthAdjust="spacingAndGlyphs">−4</text>
<line x1="1103.5" y1="1462.4" x2="1103.5" y2="1474.4" stroke="#333" stroke-width="1.5"/>
<text x="1098" y="1508.4" font-size="23" textLength="23" lengthAdjust="spacingAndGlyphs">10</text>
<text x="1122.5" y="1496.6" font-size="15" textLength="14.5" lengthAdjust="spacingAndGlyphs">−3</text>
<line x1="1161.8" y1="1462.4" x2="1161.8" y2="1474.4" stroke="#333" stroke-width="1.5"/>
<text x="1160.8" y="1508.4" font-size="23" textLength="23" lengthAdjust="spacingAndGlyphs">10</text>
<text x="1185.3" y="1496.6" font-size="15" textLength="14.5" lengthAdjust="spacingAndGlyphs">−2</text>
<g fill="#b3b3b3" fill-opacity="0.5">
<circle cx="1463.3" cy="1414.7" r="7.8"/>
<circle cx="1452.3" cy="1421.6" r="7.8"/>
<circle cx="1446.5" cy="1420" r="7.8"/>
<circle cx="1481.8" cy="1363.5" r="7.8"/>
<circle cx="1473.1" cy="1392.6" r="7.8"/>
<circle cx="1464.7" cy="1444" r="7.8"/>
<circle cx="1500.9" cy="1388.4" r="7.8"/>
<circle cx="1450" cy="1381.6" r="7.8"/>
<circle cx="1461.4" cy="1440.1" r="7.8"/>
<circle cx="1450.8" cy="1371" r="7.8"/>
<circle cx="1476.5" cy="1401.9" r="7.8"/>
<circle cx="1460.8" cy="1369.8" r="7.8"/>
<circle cx="1438.5" cy="1419.5" r="7.8"/>
<circle cx="1496" cy="1411.7" r="7.8"/>
<circle cx="1451.4" cy="1425.3" r="7.8"/>
<circle cx="1486.5" cy="1368.9" r="7.8"/>
<circle cx="1480.4" cy="1371.2" r="7.8"/>
<circle cx="1439.2" cy="1382.2" r="7.8"/>
<circle cx="1459.3" cy="1387.8" r="7.8"/>
<circle cx="1480.8" cy="1429" r="7.8"/>
<circle cx="1457.4" cy="1367.2" r="7.8"/>
<circle cx="1479.2" cy="1401.8" r="7.8"/>
<circle cx="1482.7" cy="1359.5" r="7.8"/>
<circle cx="1449.6" cy="1436.9" r="7.8"/>
<circle cx="1477.6" cy="1415.8" r="7.8"/>
<circle cx="1442.9" cy="1388.1" r="7.8"/>
<circle cx="1498.8" cy="1411.5" r="7.8"/>
<circle cx="1504.4" cy="1369.1" r="7.8"/>
<circle cx="1467.6" cy="1425.6" r="7.8"/>
<circle cx="1466.9" cy="1424.5" r="7.8"/>
<circle cx="1474.9" cy="1361.8" r="7.8"/>
<circle cx="1459.4" cy="1417.5" r="7.8"/>
<circle cx="1495" cy="1395.2" r="7.8"/>
<circle cx="1470.6" cy="1424.5" r="7.8"/>
</g>
<g fill="#b3b3b3" fill-opacity="0.5">
<circle cx="1354.8" cy="1323.5" r="7.8"/>
<circle cx="1387.2" cy="1304.5" r="7.8"/>
<circle cx="1410.3" cy="1292.4" r="7.8"/>
<circle cx="1358.7" cy="1321.4" r="7.8"/>
<circle cx="1392.5" cy="1302.9" r="7.8"/>
<circle cx="1409" cy="1296.3" r="7.8"/>
<circle cx="1368.5" cy="1317.3" r="7.8"/>
<circle cx="1373.8" cy="1302.3" r="7.8"/>
<circle cx="1397.3" cy="1305.2" r="7.8"/>
<circle cx="1359.5" cy="1325.6" r="7.8"/>
<circle cx="1413" cy="1289.5" r="7.8"/>
<circle cx="1382.6" cy="1306.1" r="7.8"/>
<circle cx="1347.4" cy="1332.1" r="7.8"/>
<circle cx="1387.1" cy="1303.3" r="7.8"/>
<circle cx="1415.7" cy="1290.4" r="7.8"/>
<circle cx="1377.4" cy="1314.8" r="7.8"/>
</g>
<g fill="#b3b3b3" fill-opacity="0.5">
<circle cx="1512.1" cy="1292" r="7.8"/>
<circle cx="1525.9" cy="1265.4" r="7.8"/>
<circle cx="1531.1" cy="1258.6" r="7.8"/>
<circle cx="1516.6" cy="1290.9" r="7.8"/>
<circle cx="1509.7" cy="1278" r="7.8"/>
<circle cx="1518.3" cy="1253.5" r="7.8"/>
<circle cx="1516.8" cy="1278.9" r="7.8"/>
<circle cx="1506.6" cy="1271.5" r="7.8"/>
<circle cx="1507.1" cy="1273.1" r="7.8"/>
<circle cx="1523.9" cy="1253" r="7.8"/>
<circle cx="1529" cy="1245.8" r="7.8"/>
<circle cx="1510.5" cy="1277.9" r="7.8"/>
<circle cx="1497.8" cy="1311.2" r="7.8"/>
<circle cx="1519.5" cy="1256.9" r="7.8"/>
</g>
<polygon points="1324.7,1452.2 1324.7,1262.6 1337.1,1262.6 1338.2,1309.3 1346.4,1315 1361.4,1316.8 1376.3,1313.1 1391.3,1309.3 1406.3,1301.9 1421.2,1290.6 1436.2,1279.4 1451.1,1271.9 1466.1,1260.7 1481.1,1249.5 1496,1234.5 1511,1223.3 1522.2,1214 1533.4,1208.4 1540.9,1204.6 1546.5,1205.4 1540.9,1219.6 1533.4,1234.5 1525.9,1245.8 1518.5,1260.7 1511,1275.7 1503.5,1286.9 1496,1298.1 1488.5,1313.1 1481.1,1328 1473.6,1343 1469.8,1358 1468,1372.9 1469.8,1387.9 1473.6,1406.6 1473.6,1429 1473.6,1440.2 1479.2,1442.1 1479.2,1452.2" fill="#b3b3b3" stroke="#b3b3b3" stroke-width="4" stroke-linejoin="round"/>
<g fill="#b3b3b3" fill-opacity="0.55">
<circle cx="1330.3" cy="1233.8" r="7.8"/>
<circle cx="1330.3" cy="1247.8" r="7.8"/>
<circle cx="1590.8" cy="1149.5" r="7.8"/>
<circle cx="1575.2" cy="1162" r="7.8"/>
<circle cx="1573.6" cy="1171.4" r="7.8"/>
<circle cx="1562.7" cy="1185.4" r="7.8"/>
<circle cx="1554.9" cy="1193.2" r="7.8"/>
<circle cx="1545.5" cy="1204.1" r="7.8"/>
<circle cx="1539.3" cy="1210.4" r="7.8"/>
<circle cx="1526.8" cy="1213.5" r="7.8"/>
<circle cx="1505" cy="1224.4" r="7.8"/>
<circle cx="1498.8" cy="1230.6" r="7.8"/>
<circle cx="1539.3" cy="1240" r="7.8"/>
<circle cx="1515.9" cy="1249.4" r="7.8"/>
<circle cx="1369.3" cy="1250.9" r="7.8"/>
<circle cx="1381.8" cy="1285.2" r="7.8"/>
<circle cx="1394.3" cy="1280.5" r="7.8"/>
<circle cx="1392.7" cy="1258.7" r="7.8"/>
<circle cx="1398.9" cy="1261.8" r="7.8"/>
<circle cx="1414.5" cy="1250.9" r="7.8"/>
<circle cx="1427" cy="1247.8" r="7.8"/>
<circle cx="1414.5" cy="1279" r="7.8"/>
<circle cx="1403.6" cy="1297.7" r="7.8"/>
<circle cx="1395.8" cy="1313.3" r="7.8"/>
<circle cx="1355.3" cy="1318" r="7.8"/>
<circle cx="1372.4" cy="1324.2" r="7.8"/>
<circle cx="1342.8" cy="1319.5" r="7.8"/>
<circle cx="1554.9" cy="1289.9" r="7.8"/>
<circle cx="1570.5" cy="1307.1" r="7.8"/>
<circle cx="1553.3" cy="1328.9" r="7.8"/>
<circle cx="1530" cy="1300.8" r="7.8"/>
<circle cx="1537.8" cy="1303.9" r="7.8"/>
<circle cx="1515.9" cy="1335.1" r="7.8"/>
<circle cx="1506.6" cy="1346" r="7.8"/>
<circle cx="1505" cy="1369.4" r="7.8"/>
<circle cx="1498.8" cy="1385" r="7.8"/>
<circle cx="1500.3" cy="1406.9" r="7.8"/>
<circle cx="1503.4" cy="1417.8" r="7.8"/>
<circle cx="1483.2" cy="1433.4" r="7.8"/>
<circle cx="1473.8" cy="1422.5" r="7.8"/>
<circle cx="1467.6" cy="1413.1" r="7.8"/>
<circle cx="1494.1" cy="1313.3" r="7.8"/>
<circle cx="1508.1" cy="1447.4" r="7.8"/>
<circle cx="1480" cy="1441.2" r="7.8"/>
<circle cx="1461.3" cy="1438.1" r="7.8"/>
<circle cx="1567.4" cy="1172.9" r="7.8"/>
<circle cx="1583" cy="1157.3" r="7.8"/>
</g>
<g fill="#e8501e" fill-opacity="0.85">
<circle cx="1592.1" cy="1150.2" r="7.8"/>
<circle cx="1524.4" cy="1232.8" r="7.8"/>
<circle cx="1511.9" cy="1252.5" r="7.8"/>
<circle cx="1516.6" cy="1259.6" r="7.8"/>
<circle cx="1504.1" cy="1269.6" r="7.8"/>
<circle cx="1457.3" cy="1302.4" r="7.8"/>
<circle cx="1441.7" cy="1319.5" r="7.8"/>
<circle cx="1443.3" cy="1347.6" r="7.8"/>
<circle cx="1433.9" cy="1360.1" r="7.8"/>
<circle cx="1377.8" cy="1371.9" r="7.8"/>
<circle cx="1396.5" cy="1386" r="7.8"/>
<circle cx="1388.7" cy="1403.1" r="7.8"/>
<circle cx="1398.1" cy="1415.6" r="7.8"/>
<circle cx="1343.5" cy="1445.2" r="7.8"/>
<circle cx="1433.9" cy="1325.8" r="7.8"/>
</g>
<g fill="#a51b0b" fill-opacity="0.85">
<circle cx="1572.7" cy="1179.2" r="7.8"/>
<circle cx="1494.8" cy="1263.4" r="7.8"/>
<circle cx="1501" cy="1264.9" r="7.8"/>
<circle cx="1472.9" cy="1288.3" r="7.8"/>
<circle cx="1451.1" cy="1308.6" r="7.8"/>
<circle cx="1458.9" cy="1321.1" r="7.8"/>
<circle cx="1424" cy="1328.3" r="7.8"/>
<circle cx="1449.5" cy="1332" r="7.8"/>
<circle cx="1437.1" cy="1338.2" r="7.8"/>
<circle cx="1418.3" cy="1344.5" r="7.8"/>
<circle cx="1432.4" cy="1352.3" r="7.8"/>
<circle cx="1449.5" cy="1358.5" r="7.8"/>
<circle cx="1415.2" cy="1357" r="7.8"/>
<circle cx="1419.9" cy="1364.8" r="7.8"/>
<circle cx="1402.7" cy="1364.8" r="7.8"/>
<circle cx="1405.9" cy="1374.1" r="7.8"/>
<circle cx="1423" cy="1378.8" r="7.8"/>
<circle cx="1387.1" cy="1380.4" r="7.8"/>
<circle cx="1374.7" cy="1388.2" r="7.8"/>
<circle cx="1415.2" cy="1396" r="7.8"/>
<circle cx="1367.8" cy="1405.9" r="7.8"/>
<circle cx="1395.9" cy="1419.3" r="7.8"/>
<circle cx="1380.9" cy="1448.4" r="7.8"/>
<circle cx="1414.6" cy="1448.4" r="7.8"/>
<circle cx="1479.2" cy="1314.9" r="7.8"/>
<circle cx="1492.3" cy="1310.2" r="7.8"/>
</g>
<line x1="1320" y1="1461" x2="1604.9" y2="1136.1" stroke="#000" stroke-width="3" stroke-dasharray="13.5 8.5"/>
<line x1="1318.5" y1="1136.1" x2="1318.5" y2="1463.1" stroke="#333" stroke-width="1.5"/>
<line x1="1317.8" y1="1462.4" x2="1604.9" y2="1462.4" stroke="#333" stroke-width="1.5"/>
<line x1="1306.1" y1="1182.3" x2="1318.5" y2="1182.3" stroke="#333" stroke-width="1.5"/>
<text x="1294.5" y="1176.2" font-size="15" text-anchor="end" textLength="14.5" lengthAdjust="spacingAndGlyphs">−2</text>
<text x="1278.5" y="1189.1" font-size="23" text-anchor="end" textLength="23" lengthAdjust="spacingAndGlyphs">10</text>
<line x1="1306.1" y1="1248.7" x2="1318.5" y2="1248.7" stroke="#333" stroke-width="1.5"/>
<text x="1294.5" y="1242.6" font-size="15" text-anchor="end" textLength="14.5" lengthAdjust="spacingAndGlyphs">−3</text>
<text x="1278.5" y="1255.5" font-size="23" text-anchor="end" textLength="23" lengthAdjust="spacingAndGlyphs">10</text>
<line x1="1306.1" y1="1315.2" x2="1318.5" y2="1315.2" stroke="#333" stroke-width="1.5"/>
<text x="1294.5" y="1309.1" font-size="15" text-anchor="end" textLength="14.5" lengthAdjust="spacingAndGlyphs">−4</text>
<text x="1278.5" y="1322" font-size="23" text-anchor="end" textLength="23" lengthAdjust="spacingAndGlyphs">10</text>
<line x1="1306.1" y1="1381.3" x2="1318.5" y2="1381.3" stroke="#333" stroke-width="1.5"/>
<text x="1294.5" y="1375.2" font-size="15" text-anchor="end" textLength="14.5" lengthAdjust="spacingAndGlyphs">−5</text>
<text x="1278.5" y="1388.1" font-size="23" text-anchor="end" textLength="23" lengthAdjust="spacingAndGlyphs">10</text>
<line x1="1306.1" y1="1447.4" x2="1318.5" y2="1447.4" stroke="#333" stroke-width="1.5"/>
<text x="1294.5" y="1454.2" font-size="23" text-anchor="end" textLength="12.5" lengthAdjust="spacingAndGlyphs">0</text>
<line x1="1331" y1="1462.4" x2="1331" y2="1474.4" stroke="#333" stroke-width="1.5"/>
<text x="1331" y="1508.4" font-size="23" text-anchor="middle" textLength="12.5" lengthAdjust="spacingAndGlyphs">0</text>
<line x1="1389.3" y1="1462.4" x2="1389.3" y2="1474.4" stroke="#333" stroke-width="1.5"/>
<text x="1374.2" y="1508.4" font-size="23" textLength="23" lengthAdjust="spacingAndGlyphs">10</text>
<text x="1398.7" y="1496.6" font-size="15" textLength="14.5" lengthAdjust="spacingAndGlyphs">−5</text>
<line x1="1447.3" y1="1462.4" x2="1447.3" y2="1474.4" stroke="#333" stroke-width="1.5"/>
<text x="1437" y="1508.4" font-size="23" textLength="23" lengthAdjust="spacingAndGlyphs">10</text>
<text x="1461.5" y="1496.6" font-size="15" textLength="14.5" lengthAdjust="spacingAndGlyphs">−4</text>
<line x1="1505.4" y1="1462.4" x2="1505.4" y2="1474.4" stroke="#333" stroke-width="1.5"/>
<text x="1499.8" y="1508.4" font-size="23" textLength="23" lengthAdjust="spacingAndGlyphs">10</text>
<text x="1524.3" y="1496.6" font-size="15" textLength="14.5" lengthAdjust="spacingAndGlyphs">−3</text>
<line x1="1563.4" y1="1462.4" x2="1563.4" y2="1474.4" stroke="#333" stroke-width="1.5"/>
<text x="1562.6" y="1508.4" font-size="23" textLength="23" lengthAdjust="spacingAndGlyphs">10</text>
<text x="1587.1" y="1496.6" font-size="15" textLength="14.5" lengthAdjust="spacingAndGlyphs">−2</text>
<text x="115.9" y="1548.4" font-size="26.5" textLength="278.3" lengthAdjust="spacingAndGlyphs">Frequency at baseline</text>
<text x="518.6" y="1548.4" font-size="26.5" textLength="278.2" lengthAdjust="spacingAndGlyphs">Frequency at baseline</text>
<text x="938.5" y="1548.8" font-size="26.5" textLength="242.1" lengthAdjust="spacingAndGlyphs">Frequency at acute</text>
<text x="1340.4" y="1548.8" font-size="26.5" textLength="242.6" lengthAdjust="spacingAndGlyphs">Frequency at acute</text>
<text transform="translate(19.3 1299.2) rotate(-90)" x="0" y="0" font-size="26.5" text-anchor="middle" fill="#000" textLength="243.4" lengthAdjust="spacingAndGlyphs">Frequency at acute</text>
<text transform="translate(421.7 1299.2) rotate(-90)" x="0" y="0" font-size="26.5" text-anchor="middle" fill="#000" textLength="243.4" lengthAdjust="spacingAndGlyphs">Frequency at acute</text>
<text transform="translate(835.7 1303.2) rotate(-90)" x="0" y="0" font-size="26.5" text-anchor="middle" fill="#000" textLength="341.5" lengthAdjust="spacingAndGlyphs">Frequency at convalescent</text>
<text transform="translate(1224.1 1298.5) rotate(-90)" x="0" y="0" font-size="26.5" text-anchor="middle" fill="#000" textLength="341.6" lengthAdjust="spacingAndGlyphs">Frequency at convalescent</text>
<text x="1642" y="1072.2" font-size="36" font-weight="bold">d</text>
<rect x="1746.6" y="1137.4" width="417" height="352.8" fill="none" stroke="#000" stroke-width="1.5"/>
<line x1="1736.5" y1="1195.4" x2="1746.6" y2="1195.4" stroke="#000" stroke-width="1.5"/>
<text x="1724.5" y="1190.6" font-size="15" text-anchor="end" textLength="14.7" lengthAdjust="spacingAndGlyphs">−2</text>
<text x="1707.1" y="1202.7" font-size="23" text-anchor="end" textLength="22.7" lengthAdjust="spacingAndGlyphs">10</text>
<line x1="1736.5" y1="1265.3" x2="1746.6" y2="1265.3" stroke="#000" stroke-width="1.5"/>
<text x="1724.5" y="1260.5" font-size="15" text-anchor="end" textLength="14.7" lengthAdjust="spacingAndGlyphs">−3</text>
<text x="1707.1" y="1272.6" font-size="23" text-anchor="end" textLength="22.7" lengthAdjust="spacingAndGlyphs">10</text>
<line x1="1736.5" y1="1334.9" x2="1746.6" y2="1334.9" stroke="#000" stroke-width="1.5"/>
<text x="1724.5" y="1330.1" font-size="15" text-anchor="end" textLength="14.7" lengthAdjust="spacingAndGlyphs">−4</text>
<text x="1707.1" y="1342.2" font-size="23" text-anchor="end" textLength="22.7" lengthAdjust="spacingAndGlyphs">10</text>
<line x1="1736.5" y1="1404.1" x2="1746.6" y2="1404.1" stroke="#000" stroke-width="1.5"/>
<text x="1724.5" y="1399.3" font-size="15" text-anchor="end" textLength="14.7" lengthAdjust="spacingAndGlyphs">−5</text>
<text x="1707.1" y="1411.4" font-size="23" text-anchor="end" textLength="22.7" lengthAdjust="spacingAndGlyphs">10</text>
<line x1="1736.5" y1="1474" x2="1746.6" y2="1474" stroke="#000" stroke-width="1.5"/>
<text x="1724.5" y="1481.3" font-size="23" text-anchor="end" textLength="12.5" lengthAdjust="spacingAndGlyphs">0</text>
<line x1="1824.6" y1="1490.2" x2="1824.6" y2="1500.2" stroke="#000" stroke-width="1.5"/>
<text x="1773.6" y="1532.4" font-size="26.5" textLength="103.7" lengthAdjust="spacingAndGlyphs">Baseline</text>
<line x1="1954.9" y1="1490.2" x2="1954.9" y2="1500.2" stroke="#000" stroke-width="1.5"/>
<text x="1918.8" y="1532.4" font-size="26.5" textLength="72.6" lengthAdjust="spacingAndGlyphs">Acute</text>
<line x1="2085.2" y1="1490.2" x2="2085.2" y2="1500.2" stroke="#000" stroke-width="1.5"/>
<text x="2052.8" y="1532.4" font-size="26.5" textLength="64.2" lengthAdjust="spacingAndGlyphs">Conv</text>
<polyline points="1824.6,1474 1954.9,1310.2 2085.2,1474" fill="none" stroke="#14bdb8" stroke-width="6" stroke-linejoin="round"/>
<circle cx="1824.6" cy="1474" r="5.6" fill="#14bdb8"/>
<circle cx="1954.9" cy="1310.2" r="5.6" fill="#14bdb8"/>
<circle cx="2085.2" cy="1474" r="5.6" fill="#14bdb8"/>
<polyline points="1824.6,1421.6 1954.9,1230.9 2085.2,1337.9" fill="none" stroke="#0b6e4a" stroke-width="6" stroke-linejoin="round"/>
<circle cx="1824.6" cy="1421.6" r="5.6" fill="#0b6e4a"/>
<circle cx="1954.9" cy="1230.9" r="5.6" fill="#0b6e4a"/>
<circle cx="2085.2" cy="1337.9" r="5.6" fill="#0b6e4a"/>
<polyline points="1824.6,1324.4 1954.9,1153.2 2085.2,1156.6" fill="none" stroke="#e8501e" stroke-width="6" stroke-linejoin="round"/>
<circle cx="1824.6" cy="1324.4" r="5.6" fill="#e8501e"/>
<circle cx="1954.9" cy="1153.2" r="5.6" fill="#e8501e"/>
<circle cx="2085.2" cy="1156.6" r="5.6" fill="#e8501e"/>
<polyline points="1824.6,1310.2 1954.9,1172.8 2085.2,1181.9" fill="none" stroke="#a51b0b" stroke-width="6" stroke-linejoin="round"/>
<circle cx="1824.6" cy="1310.2" r="5.6" fill="#a51b0b"/>
<circle cx="1954.9" cy="1172.8" r="5.6" fill="#a51b0b"/>
<circle cx="2085.2" cy="1181.9" r="5.6" fill="#a51b0b"/>
<text transform="translate(1663.6 1318.6) rotate(-90)" x="0" y="0" font-size="28.5" text-anchor="middle" fill="#000" textLength="259.9" lengthAdjust="spacingAndGlyphs">Total fraction of CD8</text>
<text transform="translate(1663.6 1318.6) rotate(-90)" x="131.5" y="-10.5" font-size="15">+</text>
<text x="1725.7" y="1101.9" font-size="22.5" textLength="80" lengthAdjust="spacingAndGlyphs">Epitope</text>
<line x1="1821.6" y1="1073.9" x2="1849.8" y2="1073.9" stroke="#0b6e4a" stroke-width="6"/>
<circle cx="1835.6" cy="1073.9" r="5.6" fill="#0b6e4a"/>
<text x="1861.4" y="1080.7" font-size="22.5" textLength="121.5" lengthAdjust="spacingAndGlyphs">COVID_SPR</text>
<line x1="2000.8" y1="1073.9" x2="2029" y2="1073.9" stroke="#14bdb8" stroke-width="6"/>
<circle cx="2014.8" cy="1073.9" r="5.6" fill="#14bdb8"/>
<text x="2040.6" y="1080.7" font-size="22.5" textLength="123.9" lengthAdjust="spacingAndGlyphs">COVID_YLQ</text>
<line x1="1821.6" y1="1110" x2="1849.8" y2="1110" stroke="#e8501e" stroke-width="6"/>
<circle cx="1835.6" cy="1110" r="5.6" fill="#e8501e"/>
<text x="1861.4" y="1116.8" font-size="22.5" textLength="96.2" lengthAdjust="spacingAndGlyphs">EBV_GLC</text>
<line x1="2000.8" y1="1110" x2="2029" y2="1110" stroke="#a51b0b" stroke-width="6"/>
<circle cx="2014.8" cy="1110" r="5.6" fill="#a51b0b"/>
<text x="2040.6" y="1116.8" font-size="22.5" textLength="94.6" lengthAdjust="spacingAndGlyphs">EBV_RAK</text>
</svg></body></html>
